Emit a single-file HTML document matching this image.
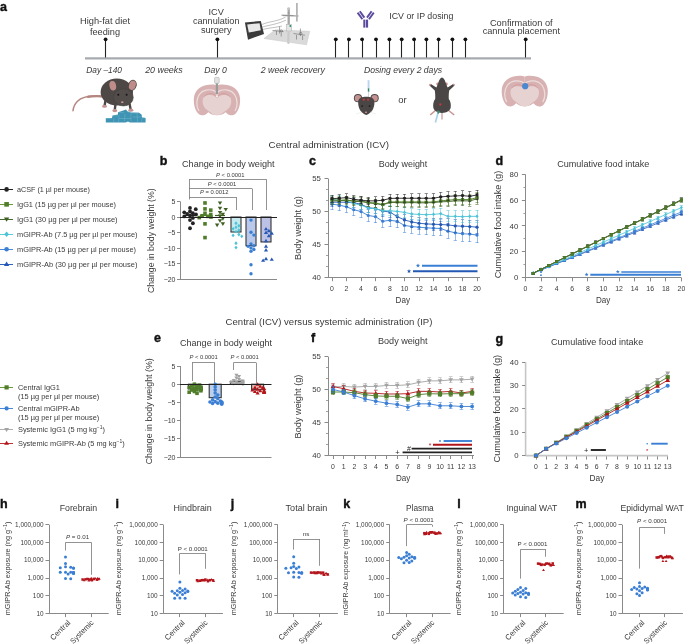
<!DOCTYPE html>
<html><head><meta charset="utf-8"><style>
html,body{margin:0;padding:0;background:#fff;}
svg{display:block;will-change:transform;}
text{font-family:"Liberation Sans",sans-serif;}
</style></head><body>
<svg width="685" height="644" viewBox="0 0 685 644">
<rect width="685" height="644" fill="#fff"/>
<g fill="#3a3a3a">
<text x="0.00" y="10.50" font-size="12.5" fill="#111" font-weight="bold" stroke="#111" stroke-width="0.4">a</text>
<line x1="85.00" y1="58.30" x2="531.00" y2="58.30" stroke="#a7abb0" stroke-width="2.2"/>
<line x1="105.50" y1="39.50" x2="105.50" y2="57.50" stroke="#222" stroke-width="1.1"/>
<circle cx="105.60" cy="39.3" r="1.9" fill="#111"/>
<line x1="217.50" y1="39.50" x2="217.50" y2="57.50" stroke="#222" stroke-width="1.1"/>
<circle cx="217.40" cy="39.3" r="1.9" fill="#111"/>
<line x1="335.50" y1="39.50" x2="335.50" y2="57.50" stroke="#222" stroke-width="1.1"/>
<circle cx="335.80" cy="39.3" r="1.9" fill="#111"/>
<line x1="348.50" y1="39.50" x2="348.50" y2="57.50" stroke="#222" stroke-width="1.1"/>
<circle cx="348.90" cy="39.3" r="1.9" fill="#111"/>
<line x1="362.50" y1="39.50" x2="362.50" y2="57.50" stroke="#222" stroke-width="1.1"/>
<circle cx="362.10" cy="39.3" r="1.9" fill="#111"/>
<line x1="376.50" y1="39.50" x2="376.50" y2="57.50" stroke="#222" stroke-width="1.1"/>
<circle cx="376.00" cy="39.3" r="1.9" fill="#111"/>
<line x1="389.50" y1="39.50" x2="389.50" y2="57.50" stroke="#222" stroke-width="1.1"/>
<circle cx="389.40" cy="39.3" r="1.9" fill="#111"/>
<line x1="401.50" y1="39.50" x2="401.50" y2="57.50" stroke="#222" stroke-width="1.1"/>
<circle cx="401.70" cy="39.3" r="1.9" fill="#111"/>
<line x1="414.50" y1="39.50" x2="414.50" y2="57.50" stroke="#222" stroke-width="1.1"/>
<circle cx="414.10" cy="39.3" r="1.9" fill="#111"/>
<line x1="426.50" y1="39.50" x2="426.50" y2="57.50" stroke="#222" stroke-width="1.1"/>
<circle cx="426.40" cy="39.3" r="1.9" fill="#111"/>
<line x1="438.50" y1="39.50" x2="438.50" y2="57.50" stroke="#222" stroke-width="1.1"/>
<circle cx="438.60" cy="39.3" r="1.9" fill="#111"/>
<line x1="452.50" y1="39.50" x2="452.50" y2="57.50" stroke="#222" stroke-width="1.1"/>
<circle cx="452.40" cy="39.3" r="1.9" fill="#111"/>
<line x1="465.50" y1="39.50" x2="465.50" y2="57.50" stroke="#222" stroke-width="1.1"/>
<circle cx="465.40" cy="39.3" r="1.9" fill="#111"/>
<line x1="525.50" y1="39.50" x2="525.50" y2="57.50" stroke="#222" stroke-width="1.1"/>
<circle cx="525.70" cy="39.3" r="1.9" fill="#111"/>
<text x="105.00" y="24.20" font-size="9.2" text-anchor="middle" textLength="50.00" lengthAdjust="spacingAndGlyphs">High-fat diet</text>
<text x="105.00" y="34.60" font-size="9.2" text-anchor="middle">feeding</text>
<text x="216.20" y="15.00" font-size="9.2" text-anchor="middle">ICV</text>
<text x="216.20" y="24.30" font-size="9.2" text-anchor="middle" textLength="46.60" lengthAdjust="spacingAndGlyphs">cannulation</text>
<text x="216.20" y="32.80" font-size="9.2" text-anchor="middle">surgery</text>
<text x="389.30" y="19.20" font-size="9.2" textLength="64.00" lengthAdjust="spacingAndGlyphs">ICV or IP dosing</text>
<text x="521.30" y="25.50" font-size="9.2" text-anchor="middle" textLength="62.70" lengthAdjust="spacingAndGlyphs">Confirmation of</text>
<text x="521.30" y="34.20" font-size="9.2" text-anchor="middle" textLength="77.30" lengthAdjust="spacingAndGlyphs">cannula placement</text>
<text x="86.30" y="72.60" font-size="8.7" font-style="italic" textLength="35.70" lengthAdjust="spacingAndGlyphs">Day –140</text>
<text x="145.20" y="72.60" font-size="8.7" font-style="italic" textLength="37.50" lengthAdjust="spacingAndGlyphs">20 weeks</text>
<text x="204.20" y="72.60" font-size="8.7" font-style="italic" textLength="22.50" lengthAdjust="spacingAndGlyphs">Day 0</text>
<text x="260.70" y="72.60" font-size="8.7" font-style="italic" textLength="64.30" lengthAdjust="spacingAndGlyphs">2 week recovery</text>
<text x="364.00" y="72.60" font-size="8.7" font-style="italic" textLength="78.00" lengthAdjust="spacingAndGlyphs">Dosing every 2 days</text>
<text x="398.30" y="102.70" font-size="9.2" textLength="8.40" lengthAdjust="spacingAndGlyphs">or</text>
<path d="M103,96.6 C92,95.2 82,96.8 77.5,101.3 C74.5,104.3 73.3,107.5 73,110.8" fill="none" stroke="#b58580" stroke-width="1.5" stroke-linecap="round"/>
<path d="M103,96.4 C97,95.8 92,96 88,96.8" fill="none" stroke="#b58580" stroke-width="2.3" stroke-linecap="round"/>
<path d="M105.6,100 L104.6,105.5 M115.5,104 L114.8,109.6 M129.5,103.5 L130.6,109.2" stroke="#4d4846" stroke-width="2.4"/>
<ellipse cx="104.5" cy="106.3" rx="2.5" ry="1.5" fill="#c39290"/>
<ellipse cx="114.8" cy="110.6" rx="2.5" ry="1.6" fill="#c39290"/>
<ellipse cx="130.8" cy="110.2" rx="2.5" ry="1.6" fill="#c39290"/>
<ellipse cx="116.8" cy="92" rx="16.2" ry="13.6" fill="#4d4846"/>
<ellipse cx="123.4" cy="97.4" rx="9.9" ry="8.6" fill="#524c4a" stroke="#443f3e" stroke-width="0.5"/>
<ellipse cx="112.8" cy="85.8" rx="4.2" ry="5.6" transform="rotate(-12 112.8 85.8)" fill="#4d4846"/>
<ellipse cx="112.8" cy="85.8" rx="3.3" ry="4.8" transform="rotate(-12 112.8 85.8)" fill="#c08c8a"/>
<ellipse cx="132.4" cy="85.3" rx="4.2" ry="5.6" transform="rotate(18 132.4 85.3)" fill="#4d4846"/>
<ellipse cx="132.4" cy="85.3" rx="3.3" ry="4.8" transform="rotate(18 132.4 85.3)" fill="#c08c8a"/>
<circle cx="118.3" cy="94.7" r="1" fill="#151515"/><circle cx="126.6" cy="94.7" r="1" fill="#151515"/>
<ellipse cx="122.3" cy="102.2" rx="1.2" ry="0.9" fill="#d49896"/>
<path d="M105.8,122.5 L105.8,118.3 L112,118 L112.5,115.5 L118,114.6 L118,112.2 L124,110.2 L126,109.4 L127.6,111.4 L131,112.4 L139,112.8 L141.6,114.4 L142,117.6 L145.6,118 L145.6,122.5 L130,122.6 L128,121.6 L125.5,122.6 Z" fill="#3f93b3"/>
<path d="M106.5,118.6 H112 M112.8,115.8 H118 M118.5,112.6 H124 M127.8,112 H131 M132,113 H139 M142,118 H145 M114,118.2 L113.5,122 M119,115 L118.6,122 M125,114 L124.5,121 M131,113.2 L131,121.5 M137,113.2 L137.6,121.8 M141.8,118.4 L141.8,122 M119,118.5 H131 M133,117 H141" stroke="#73b6ce" stroke-width="0.5"/>
<g transform="translate(193.20 84.20) scale(0.4750 0.4618)"><path d="M50,3 C46,0.5 36,0 26,2.5 C12,6 3,16 1.5,30 C0.5,42 3,55 10,63 C14,67.5 20,68.5 25,66 C28,64.5 30,62 32,60.5 C36,64 42,67 50,67.5 C58,67 64,64 68,60.5 C70,62 72,64.5 75,66 C80,68.5 86,67.5 90,63 C97,55 99.5,42 98.5,30 C97,16 88,6 74,2.5 C64,0 54,0.5 50,3 Z" fill="#d8b2b2"/><path d="M12,58 C6,48 6,32 13,22 C20,12 33,10 44,14 C47,15.5 49,17.5 50,20 C51,17.5 53,15.5 56,14 C67,10 80,12 87,22 C94,32 94,48 88,58" fill="none" stroke="#eddddd" stroke-width="2.6"/><path d="M20,34 C21,27 28,23 36,23.5 C42,24 47,27 50,30 C53,27 58,24 64,23.5 C72,23 79,27 80,34 C81,42 78,50 72,55 C67,59 63,61 60,64 C56,66.5 53,67 50,67 C47,67 44,66.5 40,64 C37,61 33,59 28,55 C22,50 19,42 20,34 Z" fill="#e7d2d2"/><path d="M23,27 C29,19 41,18 47,25" fill="none" stroke="#cc9090" stroke-width="1.4"/><path d="M53,25 C59,18 71,19 77,27" fill="none" stroke="#cc9090" stroke-width="1.4"/><path d="M50,4 L50,30" fill="none" stroke="#e8d2d2" stroke-width="1.2"/></g>
<rect x="215.8" y="82" width="2.2" height="12" fill="#9b9b9b"/>
<rect x="214.6" y="77.4" width="4.6" height="6" rx="0.8" fill="#e2e2e2" stroke="#a0a0a0" stroke-width="0.5"/>
<path d="M217,94 L216.2,97 L217.8,97 Z" fill="#fff"/>
<polygon points="264,38.5 275.4,29.8 309.7,31.3 306.5,44.8" fill="#dadada" stroke="#c6c6c6" stroke-width="0.5"/>
<polygon points="287.4,32 289.6,32.1 289.4,44.2 287.2,43.6" fill="#cacaca"/>
<path d="M262,24.5 C270,21 276,22 285.5,17.2 M262,27 C270,25 278,24 286,20.2 M262.5,29.5 C268,28 276,27.5 282,26" fill="none" stroke="#8f8f8f" stroke-width="0.55"/>
<polygon points="244.9,22.4 260.8,21 264,33.9 248,39.7" fill="#3b3b3b"/>
<polygon points="247.2,24.4 259.6,23.2 260.8,30.2 248.8,32.6" fill="#e9e9e9"/>
<line x1="296.9" y1="3" x2="296.9" y2="21.6" stroke="#b5b5b5" stroke-width="1.8"/>
<line x1="288.7" y1="8" x2="288.7" y2="25" stroke="#b8b8b8" stroke-width="2.6"/>
<path d="M288.7,10 V24 M287.6,13 H289.8" stroke="#8a8a8a" stroke-width="0.5"/>
<line x1="281.5" y1="15.2" x2="298.5" y2="16" stroke="#b0b0b0" stroke-width="1.6"/>
<path d="M283,15.6 H293.5" stroke="#777" stroke-width="0.5"/>
<circle cx="288.7" cy="8.6" r="1.4" fill="#c4c4c4"/>
<rect x="286.2" y="24.6" width="5.4" height="6.4" fill="#e6e6e6" stroke="#a8a8a8" stroke-width="0.5"/>
<rect x="289.6" y="25" width="1.5" height="2" fill="#2a9a70"/>
<path d="M279.6,26.5 V33.5 M300.4,28.5 V36 M272.5,30.5 L283.5,31.6 M293.5,33.5 L305,35.2 M276.5,31 V35 M281.2,33 V36.5 M296.5,35 V39.5 M302.6,35.5 V40" stroke="#7c7c7c" stroke-width="0.7"/>
<circle cx="281.3" cy="31.1" r="1.2" fill="none" stroke="#666" stroke-width="0.6"/><circle cx="300.7" cy="33.5" r="1.2" fill="none" stroke="#666" stroke-width="0.6"/>
<rect x="363.3" y="19.6" width="2.1" height="8" fill="#5b4a9e"/><rect x="366.0" y="19.6" width="2.1" height="8" fill="#5b4a9e"/>
<line x1="357.6" y1="12.6" x2="362.4" y2="19.2" stroke="#5b4a9e" stroke-width="1.9"/>
<line x1="359.8" y1="11.2" x2="364.4" y2="17.6" stroke="#5b4a9e" stroke-width="1.9"/>
<line x1="373.8" y1="12.6" x2="369.0" y2="19.2" stroke="#5b4a9e" stroke-width="1.9"/>
<line x1="371.6" y1="11.2" x2="367.0" y2="17.6" stroke="#5b4a9e" stroke-width="1.9"/>
<rect x="367.6" y="80.2" width="1.9" height="8.2" fill="#b9d6ee"/>
<rect x="367.8" y="88.3" width="1.5" height="3.4" fill="#2e8a6a"/>
<line x1="368.5" y1="91.5" x2="368.5" y2="97.5" stroke="#999" stroke-width="0.4"/>
<circle cx="358" cy="98.2" r="4.1" fill="#4a4646"/><circle cx="358" cy="98.2" r="3.2" fill="#c49290"/>
<circle cx="374.6" cy="98.2" r="4.1" fill="#4a4646"/><circle cx="374.6" cy="98.2" r="3.2" fill="#c49290"/>
<path d="M358.2,102 C358.2,98 362,96.8 366.3,96.8 C370.6,96.8 374.4,98 374.4,102 C374.7,108 371.6,113.4 366.3,114.9 C361,113.4 357.9,108 358.2,102 Z" fill="#4a4646"/>
<circle cx="363.8" cy="99.7" r="1.15" fill="#c23a3a"/><circle cx="368.1" cy="99.7" r="1.15" fill="#c23a3a"/>
<circle cx="362.1" cy="106" r="0.85" fill="#151515"/><circle cx="369.6" cy="106" r="0.85" fill="#151515"/>
<ellipse cx="366" cy="112.2" rx="1.1" ry="0.8" fill="#d99a98"/>
<path d="M356,114 L362,112 M376,114 L370,112" stroke="#ddd" stroke-width="0.4"/>
<circle cx="430.3" cy="84.9" r="1.2" fill="#c89694"/><circle cx="453.7" cy="84.9" r="1.2" fill="#c89694"/>
<path d="M436,110 L430.6,114.6 M448,110 L453.8,114.6" stroke="#c89694" stroke-width="1.4" stroke-linecap="round"/>
<line x1="442" y1="112" x2="442" y2="119.5" stroke="#c89694" stroke-width="1.2"/>
<circle cx="437.6" cy="84" r="1.4" fill="#c89694"/><circle cx="446.4" cy="84" r="1.4" fill="#c89694"/>
<path d="M442,77.4 C443.6,77.7 445,80 445.6,82.5 C446.4,84.4 447,86 447.6,87.6 L452.8,84.3 L454,85.9 L449.2,90.6 C448.8,93 448.6,96 448.8,99 C450.6,101 451.1,104.5 450.7,107.6 C450.3,110.6 447,112.9 442,113.1 C437,112.9 433.7,110.6 433.3,107.6 C432.9,104.5 433.4,101 435.2,99 C435.4,96 435.2,93 434.8,90.6 L430,85.9 L431.2,84.3 L436.4,87.6 C437,86 437.6,84.4 438.4,82.5 C439,80 440.4,77.7 442,77.4 Z" fill="#4a4646"/>
<circle cx="440.3" cy="104.5" r="1.15" fill="#c23a3a"/>
<line x1="438.6" y1="111" x2="435.4" y2="122.5" stroke="#a6d0ea" stroke-width="1.6"/>
<line x1="438.7" y1="110.8" x2="438.0" y2="113.5" stroke="#2e8a6a" stroke-width="1.6"/>
<g transform="translate(501.10 75.30) scale(0.4730 0.4632)"><path d="M50,3 C46,0.5 36,0 26,2.5 C12,6 3,16 1.5,30 C0.5,42 3,55 10,63 C14,67.5 20,68.5 25,66 C28,64.5 30,62 32,60.5 C36,64 42,67 50,67.5 C58,67 64,64 68,60.5 C70,62 72,64.5 75,66 C80,68.5 86,67.5 90,63 C97,55 99.5,42 98.5,30 C97,16 88,6 74,2.5 C64,0 54,0.5 50,3 Z" fill="#d8b2b2"/><path d="M12,58 C6,48 6,32 13,22 C20,12 33,10 44,14 C47,15.5 49,17.5 50,20 C51,17.5 53,15.5 56,14 C67,10 80,12 87,22 C94,32 94,48 88,58" fill="none" stroke="#eddddd" stroke-width="2.6"/><path d="M20,34 C21,27 28,23 36,23.5 C42,24 47,27 50,30 C53,27 58,24 64,23.5 C72,23 79,27 80,34 C81,42 78,50 72,55 C67,59 63,61 60,64 C56,66.5 53,67 50,67 C47,67 44,66.5 40,64 C37,61 33,59 28,55 C22,50 19,42 20,34 Z" fill="#e7d2d2"/><path d="M23,27 C29,19 41,18 47,25" fill="none" stroke="#cc9090" stroke-width="1.4"/><path d="M53,25 C59,18 71,19 77,27" fill="none" stroke="#cc9090" stroke-width="1.4"/><path d="M50,4 L50,30" fill="none" stroke="#e8d2d2" stroke-width="1.2"/></g>
<circle cx="525.2" cy="86.2" r="3.1" fill="#4a88d0"/>
<text x="268.60" y="147.70" font-size="9.8" textLength="120.40" lengthAdjust="spacingAndGlyphs">Central administration (ICV)</text>
<text x="225.60" y="324.80" font-size="9.6" textLength="206.80" lengthAdjust="spacingAndGlyphs">Central (ICV) versus systemic administration (IP)</text>
<line x1="0.00" y1="189.50" x2="13.00" y2="189.50" stroke="#222" stroke-width="1"/>
<circle cx="6.60" cy="189.40" r="2.30" fill="#222222"/>
<text x="17.00" y="192.00" font-size="7.4" textLength="73.00" lengthAdjust="spacingAndGlyphs">aCSF (1 µl per mouse)</text>
<line x1="0.00" y1="204.50" x2="13.00" y2="204.50" stroke="#6a9a3a" stroke-width="1"/>
<rect x="4.30" y="202.05" width="4.60" height="4.60" fill="#4f7d2a"/>
<text x="17.00" y="206.95" font-size="7.4" textLength="99.00" lengthAdjust="spacingAndGlyphs">IgG1 (15 µg per µl per mouse)</text>
<line x1="0.00" y1="219.50" x2="13.00" y2="219.50" stroke="#4a6a30" stroke-width="1"/>
<polygon points="3.96,217.46 9.24,217.46 6.60,221.83" fill="#3f5e22"/>
<text x="17.00" y="221.90" font-size="7.4" textLength="100.60" lengthAdjust="spacingAndGlyphs">IgG1 (30 µg per µl per mouse)</text>
<line x1="0.00" y1="234.50" x2="13.00" y2="234.50" stroke="#5ccbdb" stroke-width="1"/>
<polygon points="6.60,231.49 8.90,234.25 6.60,237.01 4.30,234.25" fill="#4cc3d6"/>
<text x="17.00" y="236.85" font-size="7.4" textLength="120.50" lengthAdjust="spacingAndGlyphs">mGIPR-Ab (7.5 µg per µl per mouse)</text>
<line x1="0.00" y1="249.50" x2="13.00" y2="249.50" stroke="#4a88d8" stroke-width="1"/>
<circle cx="6.60" cy="249.20" r="2.30" fill="#3b7fd4"/>
<text x="17.00" y="251.80" font-size="7.4" textLength="119.00" lengthAdjust="spacingAndGlyphs">mGIPR-Ab (15 µg per µl per mouse)</text>
<line x1="0.00" y1="264.50" x2="13.00" y2="264.50" stroke="#3060c0" stroke-width="1"/>
<polygon points="3.96,265.99 9.24,265.99 6.60,261.62" fill="#2458b5"/>
<text x="17.00" y="266.75" font-size="7.4" textLength="120.40" lengthAdjust="spacingAndGlyphs">mGIPR-Ab (30 µg per µl per mouse)</text>
<text x="159.80" y="165.20" font-size="12.5" fill="#111" font-weight="bold" stroke="#111" stroke-width="0.4">b</text>
<text x="182.00" y="167.00" font-size="9.0" textLength="92.60" lengthAdjust="spacingAndGlyphs">Change in body weight</text>
<line x1="180.50" y1="201.40" x2="180.50" y2="279.40" stroke="#8a8a8a" stroke-width="1"/>
<line x1="177.00" y1="201.50" x2="180.00" y2="201.50" stroke="#8a8a8a" stroke-width="1"/>
<text x="175.50" y="203.90" font-size="7" text-anchor="end">5</text>
<line x1="177.00" y1="217.50" x2="180.00" y2="217.50" stroke="#8a8a8a" stroke-width="1"/>
<text x="175.50" y="219.50" font-size="7" text-anchor="end">0</text>
<line x1="177.00" y1="232.50" x2="180.00" y2="232.50" stroke="#8a8a8a" stroke-width="1"/>
<text x="175.50" y="235.10" font-size="7" text-anchor="end">−5</text>
<line x1="177.00" y1="248.50" x2="180.00" y2="248.50" stroke="#8a8a8a" stroke-width="1"/>
<text x="175.50" y="250.70" font-size="7" text-anchor="end">−10</text>
<line x1="177.00" y1="263.50" x2="180.00" y2="263.50" stroke="#8a8a8a" stroke-width="1"/>
<text x="175.50" y="266.30" font-size="7" text-anchor="end">−15</text>
<line x1="177.00" y1="279.50" x2="180.00" y2="279.50" stroke="#8a8a8a" stroke-width="1"/>
<text x="175.50" y="281.90" font-size="7" text-anchor="end">−20</text>
<line x1="180.00" y1="279.50" x2="277.00" y2="279.50" stroke="#8a8a8a" stroke-width="1"/>
<text x="153.80" y="240.70" font-size="9" text-anchor="middle" textLength="104.70" lengthAdjust="spacingAndGlyphs" transform="rotate(-90 153.80 240.70)">Change in body weight (%)</text>
<rect x="231.00" y="217.00" width="10" height="14.98" fill="#c4e9ee" stroke="#333" stroke-width="1.1"/>
<rect x="246.00" y="217.00" width="10" height="28.70" fill="#b9c9ec" stroke="#333" stroke-width="1.1"/>
<rect x="261.00" y="217.00" width="10" height="24.96" fill="#bcc2e6" stroke="#333" stroke-width="1.1"/>
<circle cx="190.00" cy="207.95" r="1.90" fill="#222222"/>
<circle cx="195.76" cy="209.20" r="1.90" fill="#222222"/>
<circle cx="190.00" cy="211.38" r="1.90" fill="#222222"/>
<circle cx="184.24" cy="212.32" r="1.90" fill="#222222"/>
<circle cx="192.88" cy="213.26" r="1.90" fill="#222222"/>
<circle cx="187.12" cy="213.88" r="1.90" fill="#222222"/>
<circle cx="196.00" cy="214.50" r="1.90" fill="#222222"/>
<circle cx="190.00" cy="215.44" r="1.90" fill="#222222"/>
<circle cx="184.24" cy="216.38" r="1.90" fill="#222222"/>
<circle cx="192.88" cy="217.94" r="1.90" fill="#222222"/>
<circle cx="190.00" cy="220.12" r="1.90" fill="#222222"/>
<circle cx="192.88" cy="223.24" r="1.90" fill="#222222"/>
<circle cx="190.00" cy="228.23" r="1.90" fill="#222222"/>
<rect x="203.20" y="201.16" width="3.60" height="3.60" fill="#4f7d2a"/>
<rect x="203.20" y="207.09" width="3.60" height="3.60" fill="#4f7d2a"/>
<rect x="208.96" y="208.34" width="3.60" height="3.60" fill="#4f7d2a"/>
<rect x="203.20" y="211.46" width="3.60" height="3.60" fill="#4f7d2a"/>
<rect x="208.96" y="212.70" width="3.60" height="3.60" fill="#4f7d2a"/>
<rect x="200.32" y="213.95" width="3.60" height="3.60" fill="#4f7d2a"/>
<rect x="206.08" y="214.58" width="3.60" height="3.60" fill="#4f7d2a"/>
<rect x="209.20" y="215.20" width="3.60" height="3.60" fill="#4f7d2a"/>
<rect x="197.44" y="215.82" width="3.60" height="3.60" fill="#4f7d2a"/>
<rect x="203.20" y="222.06" width="3.60" height="3.60" fill="#4f7d2a"/>
<rect x="203.20" y="235.79" width="3.60" height="3.60" fill="#4f7d2a"/>
<polygon points="217.81,201.44 222.19,201.44 220.00,205.05" fill="#3f5e22"/>
<polygon points="217.81,206.74 222.19,206.74 220.00,210.35" fill="#3f5e22"/>
<polygon points="223.57,207.99 227.94,207.99 225.76,211.60" fill="#3f5e22"/>
<polygon points="217.81,211.11 222.19,211.11 220.00,214.72" fill="#3f5e22"/>
<polygon points="220.69,212.67 225.06,212.67 222.88,216.28" fill="#3f5e22"/>
<polygon points="217.81,214.54 222.19,214.54 220.00,218.15" fill="#3f5e22"/>
<polygon points="220.69,217.04 225.06,217.04 222.88,220.65" fill="#3f5e22"/>
<polygon points="217.81,219.22 222.19,219.22 220.00,222.83" fill="#3f5e22"/>
<polygon points="220.69,222.34 225.06,222.34 222.88,225.95" fill="#3f5e22"/>
<polygon points="214.94,223.59 219.31,223.59 217.12,227.20" fill="#3f5e22"/>
<polygon points="236.00,221.32 237.60,223.24 236.00,225.16 234.40,223.24" fill="#4cc3d6"/>
<polygon points="238.88,223.82 240.48,225.74 238.88,227.66 237.28,225.74" fill="#4cc3d6"/>
<polygon points="236.00,225.38 237.60,227.30 236.00,229.22 234.40,227.30" fill="#4cc3d6"/>
<polygon points="233.12,226.94 234.72,228.86 233.12,230.78 231.52,228.86" fill="#4cc3d6"/>
<polygon points="238.88,228.18 240.48,230.10 238.88,232.02 237.28,230.10" fill="#4cc3d6"/>
<polygon points="236.00,229.74 237.60,231.66 236.00,233.58 234.40,231.66" fill="#4cc3d6"/>
<polygon points="238.88,232.55 240.48,234.47 238.88,236.39 237.28,234.47" fill="#4cc3d6"/>
<polygon points="233.12,233.49 234.72,235.41 233.12,237.33 231.52,235.41" fill="#4cc3d6"/>
<polygon points="241.76,234.42 243.36,236.34 241.76,238.26 240.16,236.34" fill="#4cc3d6"/>
<polygon points="236.00,241.29 237.60,243.21 236.00,245.13 234.40,243.21" fill="#4cc3d6"/>
<polygon points="236.00,245.66 237.60,247.58 236.00,249.50 234.40,247.58" fill="#4cc3d6"/>
<circle cx="251.00" cy="220.12" r="1.70" fill="#3b7fd4"/>
<circle cx="251.00" cy="232.29" r="1.70" fill="#3b7fd4"/>
<circle cx="253.88" cy="235.10" r="1.70" fill="#3b7fd4"/>
<circle cx="251.00" cy="243.83" r="1.70" fill="#3b7fd4"/>
<circle cx="253.88" cy="245.70" r="1.70" fill="#3b7fd4"/>
<circle cx="248.12" cy="246.33" r="1.70" fill="#3b7fd4"/>
<circle cx="251.00" cy="247.89" r="1.70" fill="#3b7fd4"/>
<circle cx="253.88" cy="249.45" r="1.70" fill="#3b7fd4"/>
<circle cx="251.00" cy="251.32" r="1.70" fill="#3b7fd4"/>
<circle cx="251.00" cy="264.74" r="1.70" fill="#3b7fd4"/>
<circle cx="251.00" cy="273.78" r="1.70" fill="#3b7fd4"/>
<polygon points="263.93,230.30 268.07,230.30 266.00,226.88" fill="#2458b5"/>
<polygon points="266.81,232.17 270.95,232.17 268.88,228.75" fill="#2458b5"/>
<polygon points="263.93,234.04 268.07,234.04 266.00,230.62" fill="#2458b5"/>
<polygon points="269.69,234.66 273.83,234.66 271.76,231.24" fill="#2458b5"/>
<polygon points="266.81,237.16 270.95,237.16 268.88,233.74" fill="#2458b5"/>
<polygon points="263.93,242.15 268.07,242.15 266.00,238.73" fill="#2458b5"/>
<polygon points="263.93,247.77 268.07,247.77 266.00,244.35" fill="#2458b5"/>
<polygon points="263.93,251.51 268.07,251.51 266.00,248.09" fill="#2458b5"/>
<polygon points="263.93,260.25 268.07,260.25 266.00,256.83" fill="#2458b5"/>
<polygon points="269.69,260.87 273.83,260.87 271.76,257.45" fill="#2458b5"/>
<polygon points="261.05,261.81 265.19,261.81 263.12,258.39" fill="#2458b5"/>
<line x1="185.00" y1="215.50" x2="195.00" y2="215.50" stroke="#222222" stroke-width="1.2"/>
<line x1="200.00" y1="215.50" x2="210.00" y2="215.50" stroke="#4f7d2a" stroke-width="1.2"/>
<line x1="215.00" y1="215.50" x2="225.00" y2="215.50" stroke="#3f5e22" stroke-width="1.2"/>
<line x1="180.00" y1="217.50" x2="277.00" y2="217.50" stroke="#222" stroke-width="1.2"/>
<line x1="189.00" y1="179.50" x2="266.60" y2="179.50" stroke="#777" stroke-width="0.8"/>
<line x1="266.50" y1="179.40" x2="266.50" y2="210.00" stroke="#777" stroke-width="0.8"/>
<line x1="189.00" y1="188.50" x2="252.00" y2="188.50" stroke="#777" stroke-width="0.8"/>
<line x1="252.50" y1="188.60" x2="252.50" y2="210.00" stroke="#777" stroke-width="0.8"/>
<line x1="189.00" y1="197.50" x2="236.40" y2="197.50" stroke="#777" stroke-width="0.8"/>
<line x1="236.50" y1="197.00" x2="236.50" y2="210.00" stroke="#777" stroke-width="0.8"/>
<line x1="189.50" y1="179.40" x2="189.50" y2="199.50" stroke="#777" stroke-width="0.8"/>
<text x="230.30" y="176.60" font-size="6" text-anchor="middle" textLength="28.40" lengthAdjust="spacingAndGlyphs"><tspan font-style="italic">P</tspan> &lt; 0.0001</text>
<text x="222.00" y="185.70" font-size="6" text-anchor="middle" textLength="28.40" lengthAdjust="spacingAndGlyphs"><tspan font-style="italic">P</tspan> &lt; 0.0001</text>
<text x="214.20" y="194.40" font-size="6" text-anchor="middle" textLength="28.40" lengthAdjust="spacingAndGlyphs"><tspan font-style="italic">P</tspan> = 0.0012</text>
<text x="309.10" y="164.60" font-size="12.5" fill="#111" font-weight="bold" stroke="#111" stroke-width="0.4">c</text>
<text x="378.70" y="167.30" font-size="9" textLength="48.60" lengthAdjust="spacingAndGlyphs">Body weight</text>
<text x="301.20" y="228.00" font-size="9" text-anchor="middle" textLength="63.80" lengthAdjust="spacingAndGlyphs" transform="rotate(-90 301.20 228.00)">Body weight (g)</text>
<line x1="328.50" y1="178.50" x2="328.50" y2="277.20" stroke="#8a8a8a" stroke-width="1"/>
<line x1="324.50" y1="178.50" x2="328.00" y2="178.50" stroke="#8a8a8a" stroke-width="1"/>
<text x="320.90" y="181.30" font-size="7.8" text-anchor="end">55</text>
<line x1="324.50" y1="211.50" x2="328.00" y2="211.50" stroke="#8a8a8a" stroke-width="1"/>
<text x="320.90" y="214.20" font-size="7.8" text-anchor="end">50</text>
<line x1="324.50" y1="244.50" x2="328.00" y2="244.50" stroke="#8a8a8a" stroke-width="1"/>
<text x="320.90" y="247.10" font-size="7.8" text-anchor="end">45</text>
<line x1="324.50" y1="277.50" x2="328.00" y2="277.50" stroke="#8a8a8a" stroke-width="1"/>
<text x="320.90" y="280.00" font-size="7.8" text-anchor="end">40</text>
<line x1="326.00" y1="266.50" x2="328.00" y2="266.50" stroke="#8a8a8a" stroke-width="0.8"/>
<line x1="326.00" y1="255.50" x2="328.00" y2="255.50" stroke="#8a8a8a" stroke-width="0.8"/>
<line x1="326.00" y1="233.50" x2="328.00" y2="233.50" stroke="#8a8a8a" stroke-width="0.8"/>
<line x1="326.00" y1="222.50" x2="328.00" y2="222.50" stroke="#8a8a8a" stroke-width="0.8"/>
<line x1="326.00" y1="200.50" x2="328.00" y2="200.50" stroke="#8a8a8a" stroke-width="0.8"/>
<line x1="326.00" y1="189.50" x2="328.00" y2="189.50" stroke="#8a8a8a" stroke-width="0.8"/>
<line x1="328.00" y1="277.50" x2="480.00" y2="277.50" stroke="#8a8a8a" stroke-width="1"/>
<line x1="332.50" y1="277.20" x2="332.50" y2="281.20" stroke="#8a8a8a" stroke-width="1"/>
<text x="332.00" y="290.90" font-size="6.9" text-anchor="middle">0</text>
<line x1="346.50" y1="277.20" x2="346.50" y2="281.20" stroke="#8a8a8a" stroke-width="1"/>
<text x="346.50" y="290.90" font-size="6.9" text-anchor="middle">2</text>
<line x1="361.50" y1="277.20" x2="361.50" y2="281.20" stroke="#8a8a8a" stroke-width="1"/>
<text x="361.00" y="290.90" font-size="6.9" text-anchor="middle">4</text>
<line x1="375.50" y1="277.20" x2="375.50" y2="281.20" stroke="#8a8a8a" stroke-width="1"/>
<text x="375.50" y="290.90" font-size="6.9" text-anchor="middle">6</text>
<line x1="390.50" y1="277.20" x2="390.50" y2="281.20" stroke="#8a8a8a" stroke-width="1"/>
<text x="390.00" y="290.90" font-size="6.9" text-anchor="middle">8</text>
<line x1="404.50" y1="277.20" x2="404.50" y2="281.20" stroke="#8a8a8a" stroke-width="1"/>
<text x="404.50" y="290.90" font-size="6.9" text-anchor="middle">10</text>
<line x1="419.50" y1="277.20" x2="419.50" y2="281.20" stroke="#8a8a8a" stroke-width="1"/>
<text x="419.00" y="290.90" font-size="6.9" text-anchor="middle">12</text>
<line x1="433.50" y1="277.20" x2="433.50" y2="281.20" stroke="#8a8a8a" stroke-width="1"/>
<text x="433.50" y="290.90" font-size="6.9" text-anchor="middle">14</text>
<line x1="448.50" y1="277.20" x2="448.50" y2="281.20" stroke="#8a8a8a" stroke-width="1"/>
<text x="448.00" y="290.90" font-size="6.9" text-anchor="middle">16</text>
<line x1="462.50" y1="277.20" x2="462.50" y2="281.20" stroke="#8a8a8a" stroke-width="1"/>
<text x="462.50" y="290.90" font-size="6.9" text-anchor="middle">18</text>
<line x1="477.50" y1="277.20" x2="477.50" y2="281.20" stroke="#8a8a8a" stroke-width="1"/>
<text x="477.00" y="290.90" font-size="6.9" text-anchor="middle">20</text>
<text x="395.60" y="302.60" font-size="9" textLength="14.40" lengthAdjust="spacingAndGlyphs">Day</text>
<line x1="332.50" y1="198.63" x2="332.50" y2="209.69" stroke="#3b7fd4" stroke-width="0.7" stroke-opacity="0.75"/>
<line x1="330.40" y1="198.50" x2="333.60" y2="198.50" stroke="#3b7fd4" stroke-width="0.7" stroke-opacity="0.75"/>
<line x1="330.40" y1="209.50" x2="333.60" y2="209.50" stroke="#3b7fd4" stroke-width="0.7" stroke-opacity="0.75"/>
<line x1="339.50" y1="199.50" x2="339.50" y2="210.79" stroke="#3b7fd4" stroke-width="0.7" stroke-opacity="0.75"/>
<line x1="337.65" y1="199.50" x2="340.85" y2="199.50" stroke="#3b7fd4" stroke-width="0.7" stroke-opacity="0.75"/>
<line x1="337.65" y1="210.50" x2="340.85" y2="210.50" stroke="#3b7fd4" stroke-width="0.7" stroke-opacity="0.75"/>
<line x1="346.50" y1="201.03" x2="346.50" y2="212.56" stroke="#3b7fd4" stroke-width="0.7" stroke-opacity="0.75"/>
<line x1="344.90" y1="201.50" x2="348.10" y2="201.50" stroke="#3b7fd4" stroke-width="0.7" stroke-opacity="0.75"/>
<line x1="344.90" y1="212.50" x2="348.10" y2="212.50" stroke="#3b7fd4" stroke-width="0.7" stroke-opacity="0.75"/>
<line x1="353.50" y1="203.87" x2="353.50" y2="215.64" stroke="#3b7fd4" stroke-width="0.7" stroke-opacity="0.75"/>
<line x1="352.15" y1="203.50" x2="355.35" y2="203.50" stroke="#3b7fd4" stroke-width="0.7" stroke-opacity="0.75"/>
<line x1="352.15" y1="215.50" x2="355.35" y2="215.50" stroke="#3b7fd4" stroke-width="0.7" stroke-opacity="0.75"/>
<line x1="361.50" y1="205.53" x2="361.50" y2="217.53" stroke="#3b7fd4" stroke-width="0.7" stroke-opacity="0.75"/>
<line x1="359.40" y1="205.50" x2="362.60" y2="205.50" stroke="#3b7fd4" stroke-width="0.7" stroke-opacity="0.75"/>
<line x1="359.40" y1="217.50" x2="362.60" y2="217.50" stroke="#3b7fd4" stroke-width="0.7" stroke-opacity="0.75"/>
<line x1="368.50" y1="209.36" x2="368.50" y2="221.60" stroke="#3b7fd4" stroke-width="0.7" stroke-opacity="0.75"/>
<line x1="366.65" y1="209.50" x2="369.85" y2="209.50" stroke="#3b7fd4" stroke-width="0.7" stroke-opacity="0.75"/>
<line x1="366.65" y1="221.50" x2="369.85" y2="221.50" stroke="#3b7fd4" stroke-width="0.7" stroke-opacity="0.75"/>
<line x1="375.50" y1="210.43" x2="375.50" y2="222.90" stroke="#3b7fd4" stroke-width="0.7" stroke-opacity="0.75"/>
<line x1="373.90" y1="210.50" x2="377.10" y2="210.50" stroke="#3b7fd4" stroke-width="0.7" stroke-opacity="0.75"/>
<line x1="373.90" y1="222.50" x2="377.10" y2="222.50" stroke="#3b7fd4" stroke-width="0.7" stroke-opacity="0.75"/>
<line x1="382.50" y1="214.91" x2="382.50" y2="227.63" stroke="#3b7fd4" stroke-width="0.7" stroke-opacity="0.75"/>
<line x1="381.15" y1="214.50" x2="384.35" y2="214.50" stroke="#3b7fd4" stroke-width="0.7" stroke-opacity="0.75"/>
<line x1="381.15" y1="227.50" x2="384.35" y2="227.50" stroke="#3b7fd4" stroke-width="0.7" stroke-opacity="0.75"/>
<line x1="390.50" y1="213.81" x2="390.50" y2="226.76" stroke="#3b7fd4" stroke-width="0.7" stroke-opacity="0.75"/>
<line x1="388.40" y1="213.50" x2="391.60" y2="213.50" stroke="#3b7fd4" stroke-width="0.7" stroke-opacity="0.75"/>
<line x1="388.40" y1="226.50" x2="391.60" y2="226.50" stroke="#3b7fd4" stroke-width="0.7" stroke-opacity="0.75"/>
<line x1="397.50" y1="214.68" x2="397.50" y2="227.86" stroke="#3b7fd4" stroke-width="0.7" stroke-opacity="0.75"/>
<line x1="395.65" y1="214.50" x2="398.85" y2="214.50" stroke="#3b7fd4" stroke-width="0.7" stroke-opacity="0.75"/>
<line x1="395.65" y1="227.50" x2="398.85" y2="227.50" stroke="#3b7fd4" stroke-width="0.7" stroke-opacity="0.75"/>
<line x1="404.50" y1="218.77" x2="404.50" y2="232.19" stroke="#3b7fd4" stroke-width="0.7" stroke-opacity="0.75"/>
<line x1="402.90" y1="218.50" x2="406.10" y2="218.50" stroke="#3b7fd4" stroke-width="0.7" stroke-opacity="0.75"/>
<line x1="402.90" y1="232.50" x2="406.10" y2="232.50" stroke="#3b7fd4" stroke-width="0.7" stroke-opacity="0.75"/>
<line x1="411.50" y1="219.70" x2="411.50" y2="233.36" stroke="#3b7fd4" stroke-width="0.7" stroke-opacity="0.75"/>
<line x1="410.15" y1="219.50" x2="413.35" y2="219.50" stroke="#3b7fd4" stroke-width="0.7" stroke-opacity="0.75"/>
<line x1="410.15" y1="233.50" x2="413.35" y2="233.50" stroke="#3b7fd4" stroke-width="0.7" stroke-opacity="0.75"/>
<line x1="419.50" y1="220.24" x2="419.50" y2="234.14" stroke="#3b7fd4" stroke-width="0.7" stroke-opacity="0.75"/>
<line x1="417.40" y1="220.50" x2="420.60" y2="220.50" stroke="#3b7fd4" stroke-width="0.7" stroke-opacity="0.75"/>
<line x1="417.40" y1="234.50" x2="420.60" y2="234.50" stroke="#3b7fd4" stroke-width="0.7" stroke-opacity="0.75"/>
<line x1="426.50" y1="220.78" x2="426.50" y2="234.92" stroke="#3b7fd4" stroke-width="0.7" stroke-opacity="0.75"/>
<line x1="424.65" y1="220.50" x2="427.85" y2="220.50" stroke="#3b7fd4" stroke-width="0.7" stroke-opacity="0.75"/>
<line x1="424.65" y1="234.50" x2="427.85" y2="234.50" stroke="#3b7fd4" stroke-width="0.7" stroke-opacity="0.75"/>
<line x1="433.50" y1="220.99" x2="433.50" y2="235.36" stroke="#3b7fd4" stroke-width="0.7" stroke-opacity="0.75"/>
<line x1="431.90" y1="220.50" x2="435.10" y2="220.50" stroke="#3b7fd4" stroke-width="0.7" stroke-opacity="0.75"/>
<line x1="431.90" y1="235.50" x2="435.10" y2="235.50" stroke="#3b7fd4" stroke-width="0.7" stroke-opacity="0.75"/>
<line x1="440.50" y1="221.20" x2="440.50" y2="235.81" stroke="#3b7fd4" stroke-width="0.7" stroke-opacity="0.75"/>
<line x1="439.15" y1="221.50" x2="442.35" y2="221.50" stroke="#3b7fd4" stroke-width="0.7" stroke-opacity="0.75"/>
<line x1="439.15" y1="235.50" x2="442.35" y2="235.50" stroke="#3b7fd4" stroke-width="0.7" stroke-opacity="0.75"/>
<line x1="448.50" y1="223.72" x2="448.50" y2="238.56" stroke="#3b7fd4" stroke-width="0.7" stroke-opacity="0.75"/>
<line x1="446.40" y1="223.50" x2="449.60" y2="223.50" stroke="#3b7fd4" stroke-width="0.7" stroke-opacity="0.75"/>
<line x1="446.40" y1="238.50" x2="449.60" y2="238.50" stroke="#3b7fd4" stroke-width="0.7" stroke-opacity="0.75"/>
<line x1="455.50" y1="225.24" x2="455.50" y2="240.33" stroke="#3b7fd4" stroke-width="0.7" stroke-opacity="0.75"/>
<line x1="453.65" y1="225.50" x2="456.85" y2="225.50" stroke="#3b7fd4" stroke-width="0.7" stroke-opacity="0.75"/>
<line x1="453.65" y1="240.50" x2="456.85" y2="240.50" stroke="#3b7fd4" stroke-width="0.7" stroke-opacity="0.75"/>
<line x1="462.50" y1="226.11" x2="462.50" y2="241.43" stroke="#3b7fd4" stroke-width="0.7" stroke-opacity="0.75"/>
<line x1="460.90" y1="226.50" x2="464.10" y2="226.50" stroke="#3b7fd4" stroke-width="0.7" stroke-opacity="0.75"/>
<line x1="460.90" y1="241.50" x2="464.10" y2="241.50" stroke="#3b7fd4" stroke-width="0.7" stroke-opacity="0.75"/>
<line x1="469.50" y1="226.32" x2="469.50" y2="241.88" stroke="#3b7fd4" stroke-width="0.7" stroke-opacity="0.75"/>
<line x1="468.15" y1="226.50" x2="471.35" y2="226.50" stroke="#3b7fd4" stroke-width="0.7" stroke-opacity="0.75"/>
<line x1="468.15" y1="241.50" x2="471.35" y2="241.50" stroke="#3b7fd4" stroke-width="0.7" stroke-opacity="0.75"/>
<line x1="477.50" y1="227.19" x2="477.50" y2="242.98" stroke="#3b7fd4" stroke-width="0.7" stroke-opacity="0.75"/>
<line x1="475.40" y1="227.50" x2="478.60" y2="227.50" stroke="#3b7fd4" stroke-width="0.7" stroke-opacity="0.75"/>
<line x1="475.40" y1="242.50" x2="478.60" y2="242.50" stroke="#3b7fd4" stroke-width="0.7" stroke-opacity="0.75"/>
<polyline points="332.00,204.16 339.25,205.15 346.50,206.79 353.75,209.75 361.00,211.53 368.25,215.48 375.50,216.66 382.75,221.27 390.00,220.28 397.25,221.27 404.50,225.48 411.75,226.53 419.00,227.19 426.25,227.85 433.50,228.18 440.75,228.51 448.00,231.14 455.25,232.78 462.50,233.77 469.75,234.10 477.00,235.09" fill="none" stroke="#3b7fd4" stroke-width="0.9"/>
<circle cx="332.00" cy="204.16" r="1.60" fill="#3b7fd4"/>
<circle cx="339.25" cy="205.15" r="1.60" fill="#3b7fd4"/>
<circle cx="346.50" cy="206.79" r="1.60" fill="#3b7fd4"/>
<circle cx="353.75" cy="209.75" r="1.60" fill="#3b7fd4"/>
<circle cx="361.00" cy="211.53" r="1.60" fill="#3b7fd4"/>
<circle cx="368.25" cy="215.48" r="1.60" fill="#3b7fd4"/>
<circle cx="375.50" cy="216.66" r="1.60" fill="#3b7fd4"/>
<circle cx="382.75" cy="221.27" r="1.60" fill="#3b7fd4"/>
<circle cx="390.00" cy="220.28" r="1.60" fill="#3b7fd4"/>
<circle cx="397.25" cy="221.27" r="1.60" fill="#3b7fd4"/>
<circle cx="404.50" cy="225.48" r="1.60" fill="#3b7fd4"/>
<circle cx="411.75" cy="226.53" r="1.60" fill="#3b7fd4"/>
<circle cx="419.00" cy="227.19" r="1.60" fill="#3b7fd4"/>
<circle cx="426.25" cy="227.85" r="1.60" fill="#3b7fd4"/>
<circle cx="433.50" cy="228.18" r="1.60" fill="#3b7fd4"/>
<circle cx="440.75" cy="228.51" r="1.60" fill="#3b7fd4"/>
<circle cx="448.00" cy="231.14" r="1.60" fill="#3b7fd4"/>
<circle cx="455.25" cy="232.78" r="1.60" fill="#3b7fd4"/>
<circle cx="462.50" cy="233.77" r="1.60" fill="#3b7fd4"/>
<circle cx="469.75" cy="234.10" r="1.60" fill="#3b7fd4"/>
<circle cx="477.00" cy="235.09" r="1.60" fill="#3b7fd4"/>
<line x1="332.50" y1="197.58" x2="332.50" y2="206.79" stroke="#2458b5" stroke-width="0.7" stroke-opacity="0.75"/>
<line x1="330.40" y1="197.50" x2="333.60" y2="197.50" stroke="#2458b5" stroke-width="0.7" stroke-opacity="0.75"/>
<line x1="330.40" y1="206.50" x2="333.60" y2="206.50" stroke="#2458b5" stroke-width="0.7" stroke-opacity="0.75"/>
<line x1="339.50" y1="197.48" x2="339.50" y2="206.89" stroke="#2458b5" stroke-width="0.7" stroke-opacity="0.75"/>
<line x1="337.65" y1="197.50" x2="340.85" y2="197.50" stroke="#2458b5" stroke-width="0.7" stroke-opacity="0.75"/>
<line x1="337.65" y1="206.50" x2="340.85" y2="206.50" stroke="#2458b5" stroke-width="0.7" stroke-opacity="0.75"/>
<line x1="346.50" y1="197.38" x2="346.50" y2="206.99" stroke="#2458b5" stroke-width="0.7" stroke-opacity="0.75"/>
<line x1="344.90" y1="197.50" x2="348.10" y2="197.50" stroke="#2458b5" stroke-width="0.7" stroke-opacity="0.75"/>
<line x1="344.90" y1="206.50" x2="348.10" y2="206.50" stroke="#2458b5" stroke-width="0.7" stroke-opacity="0.75"/>
<line x1="353.50" y1="197.94" x2="353.50" y2="207.75" stroke="#2458b5" stroke-width="0.7" stroke-opacity="0.75"/>
<line x1="352.15" y1="197.50" x2="355.35" y2="197.50" stroke="#2458b5" stroke-width="0.7" stroke-opacity="0.75"/>
<line x1="352.15" y1="207.50" x2="355.35" y2="207.50" stroke="#2458b5" stroke-width="0.7" stroke-opacity="0.75"/>
<line x1="361.50" y1="199.16" x2="361.50" y2="209.16" stroke="#2458b5" stroke-width="0.7" stroke-opacity="0.75"/>
<line x1="359.40" y1="199.50" x2="362.60" y2="199.50" stroke="#2458b5" stroke-width="0.7" stroke-opacity="0.75"/>
<line x1="359.40" y1="209.50" x2="362.60" y2="209.50" stroke="#2458b5" stroke-width="0.7" stroke-opacity="0.75"/>
<line x1="368.50" y1="202.68" x2="368.50" y2="212.88" stroke="#2458b5" stroke-width="0.7" stroke-opacity="0.75"/>
<line x1="366.65" y1="202.50" x2="369.85" y2="202.50" stroke="#2458b5" stroke-width="0.7" stroke-opacity="0.75"/>
<line x1="366.65" y1="212.50" x2="369.85" y2="212.50" stroke="#2458b5" stroke-width="0.7" stroke-opacity="0.75"/>
<line x1="375.50" y1="203.24" x2="375.50" y2="213.64" stroke="#2458b5" stroke-width="0.7" stroke-opacity="0.75"/>
<line x1="373.90" y1="203.50" x2="377.10" y2="203.50" stroke="#2458b5" stroke-width="0.7" stroke-opacity="0.75"/>
<line x1="373.90" y1="213.50" x2="377.10" y2="213.50" stroke="#2458b5" stroke-width="0.7" stroke-opacity="0.75"/>
<line x1="382.50" y1="205.77" x2="382.50" y2="216.37" stroke="#2458b5" stroke-width="0.7" stroke-opacity="0.75"/>
<line x1="381.15" y1="205.50" x2="384.35" y2="205.50" stroke="#2458b5" stroke-width="0.7" stroke-opacity="0.75"/>
<line x1="381.15" y1="216.50" x2="384.35" y2="216.50" stroke="#2458b5" stroke-width="0.7" stroke-opacity="0.75"/>
<line x1="390.50" y1="206.66" x2="390.50" y2="217.45" stroke="#2458b5" stroke-width="0.7" stroke-opacity="0.75"/>
<line x1="388.40" y1="206.50" x2="391.60" y2="206.50" stroke="#2458b5" stroke-width="0.7" stroke-opacity="0.75"/>
<line x1="388.40" y1="217.50" x2="391.60" y2="217.50" stroke="#2458b5" stroke-width="0.7" stroke-opacity="0.75"/>
<line x1="397.50" y1="211.17" x2="397.50" y2="222.16" stroke="#2458b5" stroke-width="0.7" stroke-opacity="0.75"/>
<line x1="395.65" y1="211.50" x2="398.85" y2="211.50" stroke="#2458b5" stroke-width="0.7" stroke-opacity="0.75"/>
<line x1="395.65" y1="222.50" x2="398.85" y2="222.50" stroke="#2458b5" stroke-width="0.7" stroke-opacity="0.75"/>
<line x1="404.50" y1="214.36" x2="404.50" y2="225.55" stroke="#2458b5" stroke-width="0.7" stroke-opacity="0.75"/>
<line x1="402.90" y1="214.50" x2="406.10" y2="214.50" stroke="#2458b5" stroke-width="0.7" stroke-opacity="0.75"/>
<line x1="402.90" y1="225.50" x2="406.10" y2="225.50" stroke="#2458b5" stroke-width="0.7" stroke-opacity="0.75"/>
<line x1="411.50" y1="216.24" x2="411.50" y2="227.62" stroke="#2458b5" stroke-width="0.7" stroke-opacity="0.75"/>
<line x1="410.15" y1="216.50" x2="413.35" y2="216.50" stroke="#2458b5" stroke-width="0.7" stroke-opacity="0.75"/>
<line x1="410.15" y1="227.50" x2="413.35" y2="227.50" stroke="#2458b5" stroke-width="0.7" stroke-opacity="0.75"/>
<line x1="419.50" y1="217.45" x2="419.50" y2="229.03" stroke="#2458b5" stroke-width="0.7" stroke-opacity="0.75"/>
<line x1="417.40" y1="217.50" x2="420.60" y2="217.50" stroke="#2458b5" stroke-width="0.7" stroke-opacity="0.75"/>
<line x1="417.40" y1="229.50" x2="420.60" y2="229.50" stroke="#2458b5" stroke-width="0.7" stroke-opacity="0.75"/>
<line x1="426.50" y1="218.01" x2="426.50" y2="229.79" stroke="#2458b5" stroke-width="0.7" stroke-opacity="0.75"/>
<line x1="424.65" y1="218.50" x2="427.85" y2="218.50" stroke="#2458b5" stroke-width="0.7" stroke-opacity="0.75"/>
<line x1="424.65" y1="229.50" x2="427.85" y2="229.50" stroke="#2458b5" stroke-width="0.7" stroke-opacity="0.75"/>
<line x1="433.50" y1="218.24" x2="433.50" y2="230.22" stroke="#2458b5" stroke-width="0.7" stroke-opacity="0.75"/>
<line x1="431.90" y1="218.50" x2="435.10" y2="218.50" stroke="#2458b5" stroke-width="0.7" stroke-opacity="0.75"/>
<line x1="431.90" y1="230.50" x2="435.10" y2="230.50" stroke="#2458b5" stroke-width="0.7" stroke-opacity="0.75"/>
<line x1="440.50" y1="218.47" x2="440.50" y2="230.65" stroke="#2458b5" stroke-width="0.7" stroke-opacity="0.75"/>
<line x1="439.15" y1="218.50" x2="442.35" y2="218.50" stroke="#2458b5" stroke-width="0.7" stroke-opacity="0.75"/>
<line x1="439.15" y1="230.50" x2="442.35" y2="230.50" stroke="#2458b5" stroke-width="0.7" stroke-opacity="0.75"/>
<line x1="448.50" y1="218.70" x2="448.50" y2="231.07" stroke="#2458b5" stroke-width="0.7" stroke-opacity="0.75"/>
<line x1="446.40" y1="218.50" x2="449.60" y2="218.50" stroke="#2458b5" stroke-width="0.7" stroke-opacity="0.75"/>
<line x1="446.40" y1="231.50" x2="449.60" y2="231.50" stroke="#2458b5" stroke-width="0.7" stroke-opacity="0.75"/>
<line x1="455.50" y1="219.59" x2="455.50" y2="232.16" stroke="#2458b5" stroke-width="0.7" stroke-opacity="0.75"/>
<line x1="453.65" y1="219.50" x2="456.85" y2="219.50" stroke="#2458b5" stroke-width="0.7" stroke-opacity="0.75"/>
<line x1="453.65" y1="232.50" x2="456.85" y2="232.50" stroke="#2458b5" stroke-width="0.7" stroke-opacity="0.75"/>
<line x1="462.50" y1="219.82" x2="462.50" y2="232.59" stroke="#2458b5" stroke-width="0.7" stroke-opacity="0.75"/>
<line x1="460.90" y1="219.50" x2="464.10" y2="219.50" stroke="#2458b5" stroke-width="0.7" stroke-opacity="0.75"/>
<line x1="460.90" y1="232.50" x2="464.10" y2="232.50" stroke="#2458b5" stroke-width="0.7" stroke-opacity="0.75"/>
<line x1="469.50" y1="220.05" x2="469.50" y2="233.02" stroke="#2458b5" stroke-width="0.7" stroke-opacity="0.75"/>
<line x1="468.15" y1="220.50" x2="471.35" y2="220.50" stroke="#2458b5" stroke-width="0.7" stroke-opacity="0.75"/>
<line x1="468.15" y1="233.50" x2="471.35" y2="233.50" stroke="#2458b5" stroke-width="0.7" stroke-opacity="0.75"/>
<line x1="477.50" y1="220.61" x2="477.50" y2="233.77" stroke="#2458b5" stroke-width="0.7" stroke-opacity="0.75"/>
<line x1="475.40" y1="220.50" x2="478.60" y2="220.50" stroke="#2458b5" stroke-width="0.7" stroke-opacity="0.75"/>
<line x1="475.40" y1="233.50" x2="478.60" y2="233.50" stroke="#2458b5" stroke-width="0.7" stroke-opacity="0.75"/>
<polyline points="332.00,202.19 339.25,202.19 346.50,202.19 353.75,202.85 361.00,204.16 368.25,207.78 375.50,208.44 382.75,211.07 390.00,212.06 397.25,216.66 404.50,219.95 411.75,221.93 419.00,223.24 426.25,223.90 433.50,224.23 440.75,224.56 448.00,224.89 455.25,225.88 462.50,226.21 469.75,226.53 477.00,227.19" fill="none" stroke="#2458b5" stroke-width="0.9"/>
<circle cx="332.00" cy="202.19" r="1.60" fill="#2458b5"/>
<circle cx="339.25" cy="202.19" r="1.60" fill="#2458b5"/>
<circle cx="346.50" cy="202.19" r="1.60" fill="#2458b5"/>
<circle cx="353.75" cy="202.85" r="1.60" fill="#2458b5"/>
<circle cx="361.00" cy="204.16" r="1.60" fill="#2458b5"/>
<circle cx="368.25" cy="207.78" r="1.60" fill="#2458b5"/>
<circle cx="375.50" cy="208.44" r="1.60" fill="#2458b5"/>
<circle cx="382.75" cy="211.07" r="1.60" fill="#2458b5"/>
<circle cx="390.00" cy="212.06" r="1.60" fill="#2458b5"/>
<circle cx="397.25" cy="216.66" r="1.60" fill="#2458b5"/>
<circle cx="404.50" cy="219.95" r="1.60" fill="#2458b5"/>
<circle cx="411.75" cy="221.93" r="1.60" fill="#2458b5"/>
<circle cx="419.00" cy="223.24" r="1.60" fill="#2458b5"/>
<circle cx="426.25" cy="223.90" r="1.60" fill="#2458b5"/>
<circle cx="433.50" cy="224.23" r="1.60" fill="#2458b5"/>
<circle cx="440.75" cy="224.56" r="1.60" fill="#2458b5"/>
<circle cx="448.00" cy="224.89" r="1.60" fill="#2458b5"/>
<circle cx="455.25" cy="225.88" r="1.60" fill="#2458b5"/>
<circle cx="462.50" cy="226.21" r="1.60" fill="#2458b5"/>
<circle cx="469.75" cy="226.53" r="1.60" fill="#2458b5"/>
<circle cx="477.00" cy="227.19" r="1.60" fill="#2458b5"/>
<line x1="332.50" y1="195.41" x2="332.50" y2="203.70" stroke="#4cc3d6" stroke-width="0.7" stroke-opacity="0.75"/>
<line x1="330.40" y1="195.50" x2="333.60" y2="195.50" stroke="#4cc3d6" stroke-width="0.7" stroke-opacity="0.75"/>
<line x1="330.40" y1="203.50" x2="333.60" y2="203.50" stroke="#4cc3d6" stroke-width="0.7" stroke-opacity="0.75"/>
<line x1="339.50" y1="195.98" x2="339.50" y2="204.45" stroke="#4cc3d6" stroke-width="0.7" stroke-opacity="0.75"/>
<line x1="337.65" y1="195.50" x2="340.85" y2="195.50" stroke="#4cc3d6" stroke-width="0.7" stroke-opacity="0.75"/>
<line x1="337.65" y1="204.50" x2="340.85" y2="204.50" stroke="#4cc3d6" stroke-width="0.7" stroke-opacity="0.75"/>
<line x1="346.50" y1="196.55" x2="346.50" y2="205.20" stroke="#4cc3d6" stroke-width="0.7" stroke-opacity="0.75"/>
<line x1="344.90" y1="196.50" x2="348.10" y2="196.50" stroke="#4cc3d6" stroke-width="0.7" stroke-opacity="0.75"/>
<line x1="344.90" y1="205.50" x2="348.10" y2="205.50" stroke="#4cc3d6" stroke-width="0.7" stroke-opacity="0.75"/>
<line x1="353.50" y1="199.09" x2="353.50" y2="207.92" stroke="#4cc3d6" stroke-width="0.7" stroke-opacity="0.75"/>
<line x1="352.15" y1="199.50" x2="355.35" y2="199.50" stroke="#4cc3d6" stroke-width="0.7" stroke-opacity="0.75"/>
<line x1="352.15" y1="207.50" x2="355.35" y2="207.50" stroke="#4cc3d6" stroke-width="0.7" stroke-opacity="0.75"/>
<line x1="361.50" y1="200.65" x2="361.50" y2="209.65" stroke="#4cc3d6" stroke-width="0.7" stroke-opacity="0.75"/>
<line x1="359.40" y1="200.50" x2="362.60" y2="200.50" stroke="#4cc3d6" stroke-width="0.7" stroke-opacity="0.75"/>
<line x1="359.40" y1="209.50" x2="362.60" y2="209.50" stroke="#4cc3d6" stroke-width="0.7" stroke-opacity="0.75"/>
<line x1="368.50" y1="203.52" x2="368.50" y2="212.70" stroke="#4cc3d6" stroke-width="0.7" stroke-opacity="0.75"/>
<line x1="366.65" y1="203.50" x2="369.85" y2="203.50" stroke="#4cc3d6" stroke-width="0.7" stroke-opacity="0.75"/>
<line x1="366.65" y1="212.50" x2="369.85" y2="212.50" stroke="#4cc3d6" stroke-width="0.7" stroke-opacity="0.75"/>
<line x1="375.50" y1="204.09" x2="375.50" y2="213.45" stroke="#4cc3d6" stroke-width="0.7" stroke-opacity="0.75"/>
<line x1="373.90" y1="204.50" x2="377.10" y2="204.50" stroke="#4cc3d6" stroke-width="0.7" stroke-opacity="0.75"/>
<line x1="373.90" y1="213.50" x2="377.10" y2="213.50" stroke="#4cc3d6" stroke-width="0.7" stroke-opacity="0.75"/>
<line x1="382.50" y1="205.97" x2="382.50" y2="215.51" stroke="#4cc3d6" stroke-width="0.7" stroke-opacity="0.75"/>
<line x1="381.15" y1="205.50" x2="384.35" y2="205.50" stroke="#4cc3d6" stroke-width="0.7" stroke-opacity="0.75"/>
<line x1="381.15" y1="215.50" x2="384.35" y2="215.50" stroke="#4cc3d6" stroke-width="0.7" stroke-opacity="0.75"/>
<line x1="390.50" y1="205.89" x2="390.50" y2="215.60" stroke="#4cc3d6" stroke-width="0.7" stroke-opacity="0.75"/>
<line x1="388.40" y1="205.50" x2="391.60" y2="205.50" stroke="#4cc3d6" stroke-width="0.7" stroke-opacity="0.75"/>
<line x1="388.40" y1="215.50" x2="391.60" y2="215.50" stroke="#4cc3d6" stroke-width="0.7" stroke-opacity="0.75"/>
<line x1="397.50" y1="206.46" x2="397.50" y2="216.34" stroke="#4cc3d6" stroke-width="0.7" stroke-opacity="0.75"/>
<line x1="395.65" y1="206.50" x2="398.85" y2="206.50" stroke="#4cc3d6" stroke-width="0.7" stroke-opacity="0.75"/>
<line x1="395.65" y1="216.50" x2="398.85" y2="216.50" stroke="#4cc3d6" stroke-width="0.7" stroke-opacity="0.75"/>
<line x1="404.50" y1="207.35" x2="404.50" y2="217.42" stroke="#4cc3d6" stroke-width="0.7" stroke-opacity="0.75"/>
<line x1="402.90" y1="207.50" x2="406.10" y2="207.50" stroke="#4cc3d6" stroke-width="0.7" stroke-opacity="0.75"/>
<line x1="402.90" y1="217.50" x2="406.10" y2="217.50" stroke="#4cc3d6" stroke-width="0.7" stroke-opacity="0.75"/>
<line x1="411.50" y1="208.91" x2="411.50" y2="219.15" stroke="#4cc3d6" stroke-width="0.7" stroke-opacity="0.75"/>
<line x1="410.15" y1="208.50" x2="413.35" y2="208.50" stroke="#4cc3d6" stroke-width="0.7" stroke-opacity="0.75"/>
<line x1="410.15" y1="219.50" x2="413.35" y2="219.50" stroke="#4cc3d6" stroke-width="0.7" stroke-opacity="0.75"/>
<line x1="419.50" y1="209.15" x2="419.50" y2="219.57" stroke="#4cc3d6" stroke-width="0.7" stroke-opacity="0.75"/>
<line x1="417.40" y1="209.50" x2="420.60" y2="209.50" stroke="#4cc3d6" stroke-width="0.7" stroke-opacity="0.75"/>
<line x1="417.40" y1="219.50" x2="420.60" y2="219.50" stroke="#4cc3d6" stroke-width="0.7" stroke-opacity="0.75"/>
<line x1="426.50" y1="209.39" x2="426.50" y2="219.99" stroke="#4cc3d6" stroke-width="0.7" stroke-opacity="0.75"/>
<line x1="424.65" y1="209.50" x2="427.85" y2="209.50" stroke="#4cc3d6" stroke-width="0.7" stroke-opacity="0.75"/>
<line x1="424.65" y1="219.50" x2="427.85" y2="219.50" stroke="#4cc3d6" stroke-width="0.7" stroke-opacity="0.75"/>
<line x1="433.50" y1="208.97" x2="433.50" y2="219.75" stroke="#4cc3d6" stroke-width="0.7" stroke-opacity="0.75"/>
<line x1="431.90" y1="208.50" x2="435.10" y2="208.50" stroke="#4cc3d6" stroke-width="0.7" stroke-opacity="0.75"/>
<line x1="431.90" y1="219.50" x2="435.10" y2="219.50" stroke="#4cc3d6" stroke-width="0.7" stroke-opacity="0.75"/>
<line x1="440.50" y1="208.23" x2="440.50" y2="219.18" stroke="#4cc3d6" stroke-width="0.7" stroke-opacity="0.75"/>
<line x1="439.15" y1="208.50" x2="442.35" y2="208.50" stroke="#4cc3d6" stroke-width="0.7" stroke-opacity="0.75"/>
<line x1="439.15" y1="219.50" x2="442.35" y2="219.50" stroke="#4cc3d6" stroke-width="0.7" stroke-opacity="0.75"/>
<line x1="448.50" y1="210.77" x2="448.50" y2="221.90" stroke="#4cc3d6" stroke-width="0.7" stroke-opacity="0.75"/>
<line x1="446.40" y1="210.50" x2="449.60" y2="210.50" stroke="#4cc3d6" stroke-width="0.7" stroke-opacity="0.75"/>
<line x1="446.40" y1="221.50" x2="449.60" y2="221.50" stroke="#4cc3d6" stroke-width="0.7" stroke-opacity="0.75"/>
<line x1="455.50" y1="210.68" x2="455.50" y2="221.99" stroke="#4cc3d6" stroke-width="0.7" stroke-opacity="0.75"/>
<line x1="453.65" y1="210.50" x2="456.85" y2="210.50" stroke="#4cc3d6" stroke-width="0.7" stroke-opacity="0.75"/>
<line x1="453.65" y1="221.50" x2="456.85" y2="221.50" stroke="#4cc3d6" stroke-width="0.7" stroke-opacity="0.75"/>
<line x1="462.50" y1="210.92" x2="462.50" y2="222.41" stroke="#4cc3d6" stroke-width="0.7" stroke-opacity="0.75"/>
<line x1="460.90" y1="210.50" x2="464.10" y2="210.50" stroke="#4cc3d6" stroke-width="0.7" stroke-opacity="0.75"/>
<line x1="460.90" y1="222.50" x2="464.10" y2="222.50" stroke="#4cc3d6" stroke-width="0.7" stroke-opacity="0.75"/>
<line x1="469.50" y1="210.50" x2="469.50" y2="222.17" stroke="#4cc3d6" stroke-width="0.7" stroke-opacity="0.75"/>
<line x1="468.15" y1="210.50" x2="471.35" y2="210.50" stroke="#4cc3d6" stroke-width="0.7" stroke-opacity="0.75"/>
<line x1="468.15" y1="222.50" x2="471.35" y2="222.50" stroke="#4cc3d6" stroke-width="0.7" stroke-opacity="0.75"/>
<line x1="477.50" y1="210.41" x2="477.50" y2="222.26" stroke="#4cc3d6" stroke-width="0.7" stroke-opacity="0.75"/>
<line x1="475.40" y1="210.50" x2="478.60" y2="210.50" stroke="#4cc3d6" stroke-width="0.7" stroke-opacity="0.75"/>
<line x1="475.40" y1="222.50" x2="478.60" y2="222.50" stroke="#4cc3d6" stroke-width="0.7" stroke-opacity="0.75"/>
<polyline points="332.00,199.56 339.25,200.21 346.50,200.87 353.75,203.50 361.00,205.15 368.25,208.11 375.50,208.77 382.75,210.74 390.00,210.74 397.25,211.40 404.50,212.39 411.75,214.03 419.00,214.36 426.25,214.69 433.50,214.36 440.75,213.70 448.00,216.34 455.25,216.34 462.50,216.66 469.75,216.34 477.00,216.34" fill="none" stroke="#4cc3d6" stroke-width="0.9"/>
<polygon points="332.00,197.64 333.60,199.56 332.00,201.48 330.40,199.56" fill="#4cc3d6"/>
<polygon points="339.25,198.29 340.85,200.21 339.25,202.13 337.65,200.21" fill="#4cc3d6"/>
<polygon points="346.50,198.95 348.10,200.87 346.50,202.79 344.90,200.87" fill="#4cc3d6"/>
<polygon points="353.75,201.58 355.35,203.50 353.75,205.42 352.15,203.50" fill="#4cc3d6"/>
<polygon points="361.00,203.23 362.60,205.15 361.00,207.07 359.40,205.15" fill="#4cc3d6"/>
<polygon points="368.25,206.19 369.85,208.11 368.25,210.03 366.65,208.11" fill="#4cc3d6"/>
<polygon points="375.50,206.85 377.10,208.77 375.50,210.69 373.90,208.77" fill="#4cc3d6"/>
<polygon points="382.75,208.82 384.35,210.74 382.75,212.66 381.15,210.74" fill="#4cc3d6"/>
<polygon points="390.00,208.82 391.60,210.74 390.00,212.66 388.40,210.74" fill="#4cc3d6"/>
<polygon points="397.25,209.48 398.85,211.40 397.25,213.32 395.65,211.40" fill="#4cc3d6"/>
<polygon points="404.50,210.47 406.10,212.39 404.50,214.31 402.90,212.39" fill="#4cc3d6"/>
<polygon points="411.75,212.11 413.35,214.03 411.75,215.95 410.15,214.03" fill="#4cc3d6"/>
<polygon points="419.00,212.44 420.60,214.36 419.00,216.28 417.40,214.36" fill="#4cc3d6"/>
<polygon points="426.25,212.77 427.85,214.69 426.25,216.61 424.65,214.69" fill="#4cc3d6"/>
<polygon points="433.50,212.44 435.10,214.36 433.50,216.28 431.90,214.36" fill="#4cc3d6"/>
<polygon points="440.75,211.78 442.35,213.70 440.75,215.62 439.15,213.70" fill="#4cc3d6"/>
<polygon points="448.00,214.42 449.60,216.34 448.00,218.25 446.40,216.34" fill="#4cc3d6"/>
<polygon points="455.25,214.42 456.85,216.34 455.25,218.25 453.65,216.34" fill="#4cc3d6"/>
<polygon points="462.50,214.74 464.10,216.66 462.50,218.58 460.90,216.66" fill="#4cc3d6"/>
<polygon points="469.75,214.42 471.35,216.34 469.75,218.25 468.15,216.34" fill="#4cc3d6"/>
<polygon points="477.00,214.42 478.60,216.34 477.00,218.25 475.40,216.34" fill="#4cc3d6"/>
<line x1="332.50" y1="197.19" x2="332.50" y2="204.56" stroke="#3f5e22" stroke-width="0.7" stroke-opacity="0.75"/>
<line x1="330.40" y1="197.50" x2="333.60" y2="197.50" stroke="#3f5e22" stroke-width="0.7" stroke-opacity="0.75"/>
<line x1="330.40" y1="204.50" x2="333.60" y2="204.50" stroke="#3f5e22" stroke-width="0.7" stroke-opacity="0.75"/>
<line x1="339.50" y1="197.11" x2="339.50" y2="204.64" stroke="#3f5e22" stroke-width="0.7" stroke-opacity="0.75"/>
<line x1="337.65" y1="197.50" x2="340.85" y2="197.50" stroke="#3f5e22" stroke-width="0.7" stroke-opacity="0.75"/>
<line x1="337.65" y1="204.50" x2="340.85" y2="204.50" stroke="#3f5e22" stroke-width="0.7" stroke-opacity="0.75"/>
<line x1="346.50" y1="196.04" x2="346.50" y2="203.73" stroke="#3f5e22" stroke-width="0.7" stroke-opacity="0.75"/>
<line x1="344.90" y1="196.50" x2="348.10" y2="196.50" stroke="#3f5e22" stroke-width="0.7" stroke-opacity="0.75"/>
<line x1="344.90" y1="203.50" x2="348.10" y2="203.50" stroke="#3f5e22" stroke-width="0.7" stroke-opacity="0.75"/>
<line x1="353.50" y1="197.61" x2="353.50" y2="205.45" stroke="#3f5e22" stroke-width="0.7" stroke-opacity="0.75"/>
<line x1="352.15" y1="197.50" x2="355.35" y2="197.50" stroke="#3f5e22" stroke-width="0.7" stroke-opacity="0.75"/>
<line x1="352.15" y1="205.50" x2="355.35" y2="205.50" stroke="#3f5e22" stroke-width="0.7" stroke-opacity="0.75"/>
<line x1="361.50" y1="197.53" x2="361.50" y2="205.53" stroke="#3f5e22" stroke-width="0.7" stroke-opacity="0.75"/>
<line x1="359.40" y1="197.50" x2="362.60" y2="197.50" stroke="#3f5e22" stroke-width="0.7" stroke-opacity="0.75"/>
<line x1="359.40" y1="205.50" x2="362.60" y2="205.50" stroke="#3f5e22" stroke-width="0.7" stroke-opacity="0.75"/>
<line x1="368.50" y1="198.77" x2="368.50" y2="206.93" stroke="#3f5e22" stroke-width="0.7" stroke-opacity="0.75"/>
<line x1="366.65" y1="198.50" x2="369.85" y2="198.50" stroke="#3f5e22" stroke-width="0.7" stroke-opacity="0.75"/>
<line x1="366.65" y1="206.50" x2="369.85" y2="206.50" stroke="#3f5e22" stroke-width="0.7" stroke-opacity="0.75"/>
<line x1="375.50" y1="199.35" x2="375.50" y2="207.66" stroke="#3f5e22" stroke-width="0.7" stroke-opacity="0.75"/>
<line x1="373.90" y1="199.50" x2="377.10" y2="199.50" stroke="#3f5e22" stroke-width="0.7" stroke-opacity="0.75"/>
<line x1="373.90" y1="207.50" x2="377.10" y2="207.50" stroke="#3f5e22" stroke-width="0.7" stroke-opacity="0.75"/>
<line x1="382.50" y1="200.58" x2="382.50" y2="209.06" stroke="#3f5e22" stroke-width="0.7" stroke-opacity="0.75"/>
<line x1="381.15" y1="200.50" x2="384.35" y2="200.50" stroke="#3f5e22" stroke-width="0.7" stroke-opacity="0.75"/>
<line x1="381.15" y1="209.50" x2="384.35" y2="209.50" stroke="#3f5e22" stroke-width="0.7" stroke-opacity="0.75"/>
<line x1="390.50" y1="198.20" x2="390.50" y2="206.83" stroke="#3f5e22" stroke-width="0.7" stroke-opacity="0.75"/>
<line x1="388.40" y1="198.50" x2="391.60" y2="198.50" stroke="#3f5e22" stroke-width="0.7" stroke-opacity="0.75"/>
<line x1="388.40" y1="206.50" x2="391.60" y2="206.50" stroke="#3f5e22" stroke-width="0.7" stroke-opacity="0.75"/>
<line x1="397.50" y1="198.12" x2="397.50" y2="206.91" stroke="#3f5e22" stroke-width="0.7" stroke-opacity="0.75"/>
<line x1="395.65" y1="198.50" x2="398.85" y2="198.50" stroke="#3f5e22" stroke-width="0.7" stroke-opacity="0.75"/>
<line x1="395.65" y1="206.50" x2="398.85" y2="206.50" stroke="#3f5e22" stroke-width="0.7" stroke-opacity="0.75"/>
<line x1="404.50" y1="198.37" x2="404.50" y2="207.32" stroke="#3f5e22" stroke-width="0.7" stroke-opacity="0.75"/>
<line x1="402.90" y1="198.50" x2="406.10" y2="198.50" stroke="#3f5e22" stroke-width="0.7" stroke-opacity="0.75"/>
<line x1="402.90" y1="207.50" x2="406.10" y2="207.50" stroke="#3f5e22" stroke-width="0.7" stroke-opacity="0.75"/>
<line x1="411.50" y1="197.96" x2="411.50" y2="207.07" stroke="#3f5e22" stroke-width="0.7" stroke-opacity="0.75"/>
<line x1="410.15" y1="197.50" x2="413.35" y2="197.50" stroke="#3f5e22" stroke-width="0.7" stroke-opacity="0.75"/>
<line x1="410.15" y1="207.50" x2="413.35" y2="207.50" stroke="#3f5e22" stroke-width="0.7" stroke-opacity="0.75"/>
<line x1="419.50" y1="198.21" x2="419.50" y2="207.48" stroke="#3f5e22" stroke-width="0.7" stroke-opacity="0.75"/>
<line x1="417.40" y1="198.50" x2="420.60" y2="198.50" stroke="#3f5e22" stroke-width="0.7" stroke-opacity="0.75"/>
<line x1="417.40" y1="207.50" x2="420.60" y2="207.50" stroke="#3f5e22" stroke-width="0.7" stroke-opacity="0.75"/>
<line x1="426.50" y1="198.13" x2="426.50" y2="207.56" stroke="#3f5e22" stroke-width="0.7" stroke-opacity="0.75"/>
<line x1="424.65" y1="198.50" x2="427.85" y2="198.50" stroke="#3f5e22" stroke-width="0.7" stroke-opacity="0.75"/>
<line x1="424.65" y1="207.50" x2="427.85" y2="207.50" stroke="#3f5e22" stroke-width="0.7" stroke-opacity="0.75"/>
<line x1="433.50" y1="197.73" x2="433.50" y2="207.31" stroke="#3f5e22" stroke-width="0.7" stroke-opacity="0.75"/>
<line x1="431.90" y1="197.50" x2="435.10" y2="197.50" stroke="#3f5e22" stroke-width="0.7" stroke-opacity="0.75"/>
<line x1="431.90" y1="207.50" x2="435.10" y2="207.50" stroke="#3f5e22" stroke-width="0.7" stroke-opacity="0.75"/>
<line x1="440.50" y1="196.99" x2="440.50" y2="206.73" stroke="#3f5e22" stroke-width="0.7" stroke-opacity="0.75"/>
<line x1="439.15" y1="196.50" x2="442.35" y2="196.50" stroke="#3f5e22" stroke-width="0.7" stroke-opacity="0.75"/>
<line x1="439.15" y1="206.50" x2="442.35" y2="206.50" stroke="#3f5e22" stroke-width="0.7" stroke-opacity="0.75"/>
<line x1="448.50" y1="196.58" x2="448.50" y2="206.48" stroke="#3f5e22" stroke-width="0.7" stroke-opacity="0.75"/>
<line x1="446.40" y1="196.50" x2="449.60" y2="196.50" stroke="#3f5e22" stroke-width="0.7" stroke-opacity="0.75"/>
<line x1="446.40" y1="206.50" x2="449.60" y2="206.50" stroke="#3f5e22" stroke-width="0.7" stroke-opacity="0.75"/>
<line x1="455.50" y1="195.84" x2="455.50" y2="205.90" stroke="#3f5e22" stroke-width="0.7" stroke-opacity="0.75"/>
<line x1="453.65" y1="195.50" x2="456.85" y2="195.50" stroke="#3f5e22" stroke-width="0.7" stroke-opacity="0.75"/>
<line x1="453.65" y1="205.50" x2="456.85" y2="205.50" stroke="#3f5e22" stroke-width="0.7" stroke-opacity="0.75"/>
<line x1="462.50" y1="195.77" x2="462.50" y2="205.98" stroke="#3f5e22" stroke-width="0.7" stroke-opacity="0.75"/>
<line x1="460.90" y1="195.50" x2="464.10" y2="195.50" stroke="#3f5e22" stroke-width="0.7" stroke-opacity="0.75"/>
<line x1="460.90" y1="205.50" x2="464.10" y2="205.50" stroke="#3f5e22" stroke-width="0.7" stroke-opacity="0.75"/>
<line x1="469.50" y1="195.69" x2="469.50" y2="206.06" stroke="#3f5e22" stroke-width="0.7" stroke-opacity="0.75"/>
<line x1="468.15" y1="195.50" x2="471.35" y2="195.50" stroke="#3f5e22" stroke-width="0.7" stroke-opacity="0.75"/>
<line x1="468.15" y1="206.50" x2="471.35" y2="206.50" stroke="#3f5e22" stroke-width="0.7" stroke-opacity="0.75"/>
<line x1="477.50" y1="193.63" x2="477.50" y2="204.16" stroke="#3f5e22" stroke-width="0.7" stroke-opacity="0.75"/>
<line x1="475.40" y1="193.50" x2="478.60" y2="193.50" stroke="#3f5e22" stroke-width="0.7" stroke-opacity="0.75"/>
<line x1="475.40" y1="204.50" x2="478.60" y2="204.50" stroke="#3f5e22" stroke-width="0.7" stroke-opacity="0.75"/>
<polyline points="332.00,200.87 339.25,200.87 346.50,199.88 353.75,201.53 361.00,201.53 368.25,202.85 375.50,203.50 382.75,204.82 390.00,202.52 397.25,202.52 404.50,202.85 411.75,202.52 419.00,202.85 426.25,202.85 433.50,202.52 440.75,201.86 448.00,201.53 455.25,200.87 462.50,200.87 469.75,200.87 477.00,198.90" fill="none" stroke="#3f5e22" stroke-width="0.9"/>
<polygon points="330.16,199.59 333.84,199.59 332.00,202.63" fill="#3f5e22"/>
<polygon points="337.41,199.59 341.09,199.59 339.25,202.63" fill="#3f5e22"/>
<polygon points="344.66,198.60 348.34,198.60 346.50,201.64" fill="#3f5e22"/>
<polygon points="351.91,200.25 355.59,200.25 353.75,203.29" fill="#3f5e22"/>
<polygon points="359.16,200.25 362.84,200.25 361.00,203.29" fill="#3f5e22"/>
<polygon points="366.41,201.57 370.09,201.57 368.25,204.61" fill="#3f5e22"/>
<polygon points="373.66,202.22 377.34,202.22 375.50,205.26" fill="#3f5e22"/>
<polygon points="380.91,203.54 384.59,203.54 382.75,206.58" fill="#3f5e22"/>
<polygon points="388.16,201.24 391.84,201.24 390.00,204.28" fill="#3f5e22"/>
<polygon points="395.41,201.24 399.09,201.24 397.25,204.28" fill="#3f5e22"/>
<polygon points="402.66,201.57 406.34,201.57 404.50,204.61" fill="#3f5e22"/>
<polygon points="409.91,201.24 413.59,201.24 411.75,204.28" fill="#3f5e22"/>
<polygon points="417.16,201.57 420.84,201.57 419.00,204.61" fill="#3f5e22"/>
<polygon points="424.41,201.57 428.09,201.57 426.25,204.61" fill="#3f5e22"/>
<polygon points="431.66,201.24 435.34,201.24 433.50,204.28" fill="#3f5e22"/>
<polygon points="438.91,200.58 442.59,200.58 440.75,203.62" fill="#3f5e22"/>
<polygon points="446.16,200.25 449.84,200.25 448.00,203.29" fill="#3f5e22"/>
<polygon points="453.41,199.59 457.09,199.59 455.25,202.63" fill="#3f5e22"/>
<polygon points="460.66,199.59 464.34,199.59 462.50,202.63" fill="#3f5e22"/>
<polygon points="467.91,199.59 471.59,199.59 469.75,202.63" fill="#3f5e22"/>
<polygon points="475.16,197.62 478.84,197.62 477.00,200.66" fill="#3f5e22"/>
<line x1="332.50" y1="196.20" x2="332.50" y2="203.57" stroke="#4f7d2a" stroke-width="0.7" stroke-opacity="0.75"/>
<line x1="330.40" y1="196.50" x2="333.60" y2="196.50" stroke="#4f7d2a" stroke-width="0.7" stroke-opacity="0.75"/>
<line x1="330.40" y1="203.50" x2="333.60" y2="203.50" stroke="#4f7d2a" stroke-width="0.7" stroke-opacity="0.75"/>
<line x1="339.50" y1="196.45" x2="339.50" y2="203.98" stroke="#4f7d2a" stroke-width="0.7" stroke-opacity="0.75"/>
<line x1="337.65" y1="196.50" x2="340.85" y2="196.50" stroke="#4f7d2a" stroke-width="0.7" stroke-opacity="0.75"/>
<line x1="337.65" y1="203.50" x2="340.85" y2="203.50" stroke="#4f7d2a" stroke-width="0.7" stroke-opacity="0.75"/>
<line x1="346.50" y1="196.37" x2="346.50" y2="204.06" stroke="#4f7d2a" stroke-width="0.7" stroke-opacity="0.75"/>
<line x1="344.90" y1="196.50" x2="348.10" y2="196.50" stroke="#4f7d2a" stroke-width="0.7" stroke-opacity="0.75"/>
<line x1="344.90" y1="204.50" x2="348.10" y2="204.50" stroke="#4f7d2a" stroke-width="0.7" stroke-opacity="0.75"/>
<line x1="353.50" y1="196.95" x2="353.50" y2="204.79" stroke="#4f7d2a" stroke-width="0.7" stroke-opacity="0.75"/>
<line x1="352.15" y1="196.50" x2="355.35" y2="196.50" stroke="#4f7d2a" stroke-width="0.7" stroke-opacity="0.75"/>
<line x1="352.15" y1="204.50" x2="355.35" y2="204.50" stroke="#4f7d2a" stroke-width="0.7" stroke-opacity="0.75"/>
<line x1="361.50" y1="196.87" x2="361.50" y2="204.87" stroke="#4f7d2a" stroke-width="0.7" stroke-opacity="0.75"/>
<line x1="359.40" y1="196.50" x2="362.60" y2="196.50" stroke="#4f7d2a" stroke-width="0.7" stroke-opacity="0.75"/>
<line x1="359.40" y1="204.50" x2="362.60" y2="204.50" stroke="#4f7d2a" stroke-width="0.7" stroke-opacity="0.75"/>
<line x1="368.50" y1="198.44" x2="368.50" y2="206.60" stroke="#4f7d2a" stroke-width="0.7" stroke-opacity="0.75"/>
<line x1="366.65" y1="198.50" x2="369.85" y2="198.50" stroke="#4f7d2a" stroke-width="0.7" stroke-opacity="0.75"/>
<line x1="366.65" y1="206.50" x2="369.85" y2="206.50" stroke="#4f7d2a" stroke-width="0.7" stroke-opacity="0.75"/>
<line x1="375.50" y1="199.02" x2="375.50" y2="207.33" stroke="#4f7d2a" stroke-width="0.7" stroke-opacity="0.75"/>
<line x1="373.90" y1="199.50" x2="377.10" y2="199.50" stroke="#4f7d2a" stroke-width="0.7" stroke-opacity="0.75"/>
<line x1="373.90" y1="207.50" x2="377.10" y2="207.50" stroke="#4f7d2a" stroke-width="0.7" stroke-opacity="0.75"/>
<line x1="382.50" y1="200.25" x2="382.50" y2="208.73" stroke="#4f7d2a" stroke-width="0.7" stroke-opacity="0.75"/>
<line x1="381.15" y1="200.50" x2="384.35" y2="200.50" stroke="#4f7d2a" stroke-width="0.7" stroke-opacity="0.75"/>
<line x1="381.15" y1="208.50" x2="384.35" y2="208.50" stroke="#4f7d2a" stroke-width="0.7" stroke-opacity="0.75"/>
<line x1="390.50" y1="197.54" x2="390.50" y2="206.18" stroke="#4f7d2a" stroke-width="0.7" stroke-opacity="0.75"/>
<line x1="388.40" y1="197.50" x2="391.60" y2="197.50" stroke="#4f7d2a" stroke-width="0.7" stroke-opacity="0.75"/>
<line x1="388.40" y1="206.50" x2="391.60" y2="206.50" stroke="#4f7d2a" stroke-width="0.7" stroke-opacity="0.75"/>
<line x1="397.50" y1="197.46" x2="397.50" y2="206.25" stroke="#4f7d2a" stroke-width="0.7" stroke-opacity="0.75"/>
<line x1="395.65" y1="197.50" x2="398.85" y2="197.50" stroke="#4f7d2a" stroke-width="0.7" stroke-opacity="0.75"/>
<line x1="395.65" y1="206.50" x2="398.85" y2="206.50" stroke="#4f7d2a" stroke-width="0.7" stroke-opacity="0.75"/>
<line x1="404.50" y1="197.38" x2="404.50" y2="206.33" stroke="#4f7d2a" stroke-width="0.7" stroke-opacity="0.75"/>
<line x1="402.90" y1="197.50" x2="406.10" y2="197.50" stroke="#4f7d2a" stroke-width="0.7" stroke-opacity="0.75"/>
<line x1="402.90" y1="206.50" x2="406.10" y2="206.50" stroke="#4f7d2a" stroke-width="0.7" stroke-opacity="0.75"/>
<line x1="411.50" y1="197.31" x2="411.50" y2="206.41" stroke="#4f7d2a" stroke-width="0.7" stroke-opacity="0.75"/>
<line x1="410.15" y1="197.50" x2="413.35" y2="197.50" stroke="#4f7d2a" stroke-width="0.7" stroke-opacity="0.75"/>
<line x1="410.15" y1="206.50" x2="413.35" y2="206.50" stroke="#4f7d2a" stroke-width="0.7" stroke-opacity="0.75"/>
<line x1="419.50" y1="197.23" x2="419.50" y2="206.49" stroke="#4f7d2a" stroke-width="0.7" stroke-opacity="0.75"/>
<line x1="417.40" y1="197.50" x2="420.60" y2="197.50" stroke="#4f7d2a" stroke-width="0.7" stroke-opacity="0.75"/>
<line x1="417.40" y1="206.50" x2="420.60" y2="206.50" stroke="#4f7d2a" stroke-width="0.7" stroke-opacity="0.75"/>
<line x1="426.50" y1="197.48" x2="426.50" y2="206.90" stroke="#4f7d2a" stroke-width="0.7" stroke-opacity="0.75"/>
<line x1="424.65" y1="197.50" x2="427.85" y2="197.50" stroke="#4f7d2a" stroke-width="0.7" stroke-opacity="0.75"/>
<line x1="424.65" y1="206.50" x2="427.85" y2="206.50" stroke="#4f7d2a" stroke-width="0.7" stroke-opacity="0.75"/>
<line x1="433.50" y1="197.07" x2="433.50" y2="206.65" stroke="#4f7d2a" stroke-width="0.7" stroke-opacity="0.75"/>
<line x1="431.90" y1="197.50" x2="435.10" y2="197.50" stroke="#4f7d2a" stroke-width="0.7" stroke-opacity="0.75"/>
<line x1="431.90" y1="206.50" x2="435.10" y2="206.50" stroke="#4f7d2a" stroke-width="0.7" stroke-opacity="0.75"/>
<line x1="440.50" y1="196.00" x2="440.50" y2="205.74" stroke="#4f7d2a" stroke-width="0.7" stroke-opacity="0.75"/>
<line x1="439.15" y1="196.50" x2="442.35" y2="196.50" stroke="#4f7d2a" stroke-width="0.7" stroke-opacity="0.75"/>
<line x1="439.15" y1="205.50" x2="442.35" y2="205.50" stroke="#4f7d2a" stroke-width="0.7" stroke-opacity="0.75"/>
<line x1="448.50" y1="195.27" x2="448.50" y2="205.16" stroke="#4f7d2a" stroke-width="0.7" stroke-opacity="0.75"/>
<line x1="446.40" y1="195.50" x2="449.60" y2="195.50" stroke="#4f7d2a" stroke-width="0.7" stroke-opacity="0.75"/>
<line x1="446.40" y1="205.50" x2="449.60" y2="205.50" stroke="#4f7d2a" stroke-width="0.7" stroke-opacity="0.75"/>
<line x1="455.50" y1="194.53" x2="455.50" y2="204.58" stroke="#4f7d2a" stroke-width="0.7" stroke-opacity="0.75"/>
<line x1="453.65" y1="194.50" x2="456.85" y2="194.50" stroke="#4f7d2a" stroke-width="0.7" stroke-opacity="0.75"/>
<line x1="453.65" y1="204.50" x2="456.85" y2="204.50" stroke="#4f7d2a" stroke-width="0.7" stroke-opacity="0.75"/>
<line x1="462.50" y1="194.45" x2="462.50" y2="204.66" stroke="#4f7d2a" stroke-width="0.7" stroke-opacity="0.75"/>
<line x1="460.90" y1="194.50" x2="464.10" y2="194.50" stroke="#4f7d2a" stroke-width="0.7" stroke-opacity="0.75"/>
<line x1="460.90" y1="204.50" x2="464.10" y2="204.50" stroke="#4f7d2a" stroke-width="0.7" stroke-opacity="0.75"/>
<line x1="469.50" y1="194.37" x2="469.50" y2="204.74" stroke="#4f7d2a" stroke-width="0.7" stroke-opacity="0.75"/>
<line x1="468.15" y1="194.50" x2="471.35" y2="194.50" stroke="#4f7d2a" stroke-width="0.7" stroke-opacity="0.75"/>
<line x1="468.15" y1="204.50" x2="471.35" y2="204.50" stroke="#4f7d2a" stroke-width="0.7" stroke-opacity="0.75"/>
<line x1="477.50" y1="192.32" x2="477.50" y2="202.85" stroke="#4f7d2a" stroke-width="0.7" stroke-opacity="0.75"/>
<line x1="475.40" y1="192.50" x2="478.60" y2="192.50" stroke="#4f7d2a" stroke-width="0.7" stroke-opacity="0.75"/>
<line x1="475.40" y1="202.50" x2="478.60" y2="202.50" stroke="#4f7d2a" stroke-width="0.7" stroke-opacity="0.75"/>
<polyline points="332.00,199.88 339.25,200.21 346.50,200.21 353.75,200.87 361.00,200.87 368.25,202.52 375.50,203.18 382.75,204.49 390.00,201.86 397.25,201.86 404.50,201.86 411.75,201.86 419.00,201.86 426.25,202.19 433.50,201.86 440.75,200.87 448.00,200.21 455.25,199.56 462.50,199.56 469.75,199.56 477.00,197.58" fill="none" stroke="#4f7d2a" stroke-width="0.9"/>
<rect x="330.40" y="198.28" width="3.20" height="3.20" fill="#4f7d2a"/>
<rect x="337.65" y="198.61" width="3.20" height="3.20" fill="#4f7d2a"/>
<rect x="344.90" y="198.61" width="3.20" height="3.20" fill="#4f7d2a"/>
<rect x="352.15" y="199.27" width="3.20" height="3.20" fill="#4f7d2a"/>
<rect x="359.40" y="199.27" width="3.20" height="3.20" fill="#4f7d2a"/>
<rect x="366.65" y="200.92" width="3.20" height="3.20" fill="#4f7d2a"/>
<rect x="373.90" y="201.58" width="3.20" height="3.20" fill="#4f7d2a"/>
<rect x="381.15" y="202.89" width="3.20" height="3.20" fill="#4f7d2a"/>
<rect x="388.40" y="200.26" width="3.20" height="3.20" fill="#4f7d2a"/>
<rect x="395.65" y="200.26" width="3.20" height="3.20" fill="#4f7d2a"/>
<rect x="402.90" y="200.26" width="3.20" height="3.20" fill="#4f7d2a"/>
<rect x="410.15" y="200.26" width="3.20" height="3.20" fill="#4f7d2a"/>
<rect x="417.40" y="200.26" width="3.20" height="3.20" fill="#4f7d2a"/>
<rect x="424.65" y="200.59" width="3.20" height="3.20" fill="#4f7d2a"/>
<rect x="431.90" y="200.26" width="3.20" height="3.20" fill="#4f7d2a"/>
<rect x="439.15" y="199.27" width="3.20" height="3.20" fill="#4f7d2a"/>
<rect x="446.40" y="198.61" width="3.20" height="3.20" fill="#4f7d2a"/>
<rect x="453.65" y="197.96" width="3.20" height="3.20" fill="#4f7d2a"/>
<rect x="460.90" y="197.96" width="3.20" height="3.20" fill="#4f7d2a"/>
<rect x="468.15" y="197.96" width="3.20" height="3.20" fill="#4f7d2a"/>
<rect x="475.40" y="195.98" width="3.20" height="3.20" fill="#4f7d2a"/>
<line x1="332.50" y1="195.25" x2="332.50" y2="202.16" stroke="#222222" stroke-width="0.7" stroke-opacity="0.75"/>
<line x1="330.40" y1="195.50" x2="333.60" y2="195.50" stroke="#222222" stroke-width="0.7" stroke-opacity="0.75"/>
<line x1="330.40" y1="202.50" x2="333.60" y2="202.50" stroke="#222222" stroke-width="0.7" stroke-opacity="0.75"/>
<line x1="339.50" y1="194.71" x2="339.50" y2="201.77" stroke="#222222" stroke-width="0.7" stroke-opacity="0.75"/>
<line x1="337.65" y1="194.50" x2="340.85" y2="194.50" stroke="#222222" stroke-width="0.7" stroke-opacity="0.75"/>
<line x1="337.65" y1="201.50" x2="340.85" y2="201.50" stroke="#222222" stroke-width="0.7" stroke-opacity="0.75"/>
<line x1="346.50" y1="193.98" x2="346.50" y2="201.18" stroke="#222222" stroke-width="0.7" stroke-opacity="0.75"/>
<line x1="344.90" y1="193.50" x2="348.10" y2="193.50" stroke="#222222" stroke-width="0.7" stroke-opacity="0.75"/>
<line x1="344.90" y1="201.50" x2="348.10" y2="201.50" stroke="#222222" stroke-width="0.7" stroke-opacity="0.75"/>
<line x1="353.50" y1="195.55" x2="353.50" y2="202.90" stroke="#222222" stroke-width="0.7" stroke-opacity="0.75"/>
<line x1="352.15" y1="195.50" x2="355.35" y2="195.50" stroke="#222222" stroke-width="0.7" stroke-opacity="0.75"/>
<line x1="352.15" y1="202.50" x2="355.35" y2="202.50" stroke="#222222" stroke-width="0.7" stroke-opacity="0.75"/>
<line x1="361.50" y1="196.46" x2="361.50" y2="203.96" stroke="#222222" stroke-width="0.7" stroke-opacity="0.75"/>
<line x1="359.40" y1="196.50" x2="362.60" y2="196.50" stroke="#222222" stroke-width="0.7" stroke-opacity="0.75"/>
<line x1="359.40" y1="203.50" x2="362.60" y2="203.50" stroke="#222222" stroke-width="0.7" stroke-opacity="0.75"/>
<line x1="368.50" y1="197.05" x2="368.50" y2="204.70" stroke="#222222" stroke-width="0.7" stroke-opacity="0.75"/>
<line x1="366.65" y1="197.50" x2="369.85" y2="197.50" stroke="#222222" stroke-width="0.7" stroke-opacity="0.75"/>
<line x1="366.65" y1="204.50" x2="369.85" y2="204.50" stroke="#222222" stroke-width="0.7" stroke-opacity="0.75"/>
<line x1="375.50" y1="196.97" x2="375.50" y2="204.77" stroke="#222222" stroke-width="0.7" stroke-opacity="0.75"/>
<line x1="373.90" y1="196.50" x2="377.10" y2="196.50" stroke="#222222" stroke-width="0.7" stroke-opacity="0.75"/>
<line x1="373.90" y1="204.50" x2="377.10" y2="204.50" stroke="#222222" stroke-width="0.7" stroke-opacity="0.75"/>
<line x1="382.50" y1="196.24" x2="382.50" y2="204.19" stroke="#222222" stroke-width="0.7" stroke-opacity="0.75"/>
<line x1="381.15" y1="196.50" x2="384.35" y2="196.50" stroke="#222222" stroke-width="0.7" stroke-opacity="0.75"/>
<line x1="381.15" y1="204.50" x2="384.35" y2="204.50" stroke="#222222" stroke-width="0.7" stroke-opacity="0.75"/>
<line x1="390.50" y1="194.39" x2="390.50" y2="202.48" stroke="#222222" stroke-width="0.7" stroke-opacity="0.75"/>
<line x1="388.40" y1="194.50" x2="391.60" y2="194.50" stroke="#222222" stroke-width="0.7" stroke-opacity="0.75"/>
<line x1="388.40" y1="202.50" x2="391.60" y2="202.50" stroke="#222222" stroke-width="0.7" stroke-opacity="0.75"/>
<line x1="397.50" y1="194.12" x2="397.50" y2="202.36" stroke="#222222" stroke-width="0.7" stroke-opacity="0.75"/>
<line x1="395.65" y1="194.50" x2="398.85" y2="194.50" stroke="#222222" stroke-width="0.7" stroke-opacity="0.75"/>
<line x1="395.65" y1="202.50" x2="398.85" y2="202.50" stroke="#222222" stroke-width="0.7" stroke-opacity="0.75"/>
<line x1="404.50" y1="194.05" x2="404.50" y2="202.43" stroke="#222222" stroke-width="0.7" stroke-opacity="0.75"/>
<line x1="402.90" y1="194.50" x2="406.10" y2="194.50" stroke="#222222" stroke-width="0.7" stroke-opacity="0.75"/>
<line x1="402.90" y1="202.50" x2="406.10" y2="202.50" stroke="#222222" stroke-width="0.7" stroke-opacity="0.75"/>
<line x1="411.50" y1="193.97" x2="411.50" y2="202.51" stroke="#222222" stroke-width="0.7" stroke-opacity="0.75"/>
<line x1="410.15" y1="193.50" x2="413.35" y2="193.50" stroke="#222222" stroke-width="0.7" stroke-opacity="0.75"/>
<line x1="410.15" y1="202.50" x2="413.35" y2="202.50" stroke="#222222" stroke-width="0.7" stroke-opacity="0.75"/>
<line x1="419.50" y1="193.90" x2="419.50" y2="202.58" stroke="#222222" stroke-width="0.7" stroke-opacity="0.75"/>
<line x1="417.40" y1="193.50" x2="420.60" y2="193.50" stroke="#222222" stroke-width="0.7" stroke-opacity="0.75"/>
<line x1="417.40" y1="202.50" x2="420.60" y2="202.50" stroke="#222222" stroke-width="0.7" stroke-opacity="0.75"/>
<line x1="426.50" y1="193.82" x2="426.50" y2="202.66" stroke="#222222" stroke-width="0.7" stroke-opacity="0.75"/>
<line x1="424.65" y1="193.50" x2="427.85" y2="193.50" stroke="#222222" stroke-width="0.7" stroke-opacity="0.75"/>
<line x1="424.65" y1="202.50" x2="427.85" y2="202.50" stroke="#222222" stroke-width="0.7" stroke-opacity="0.75"/>
<line x1="433.50" y1="193.75" x2="433.50" y2="202.73" stroke="#222222" stroke-width="0.7" stroke-opacity="0.75"/>
<line x1="431.90" y1="193.50" x2="435.10" y2="193.50" stroke="#222222" stroke-width="0.7" stroke-opacity="0.75"/>
<line x1="431.90" y1="202.50" x2="435.10" y2="202.50" stroke="#222222" stroke-width="0.7" stroke-opacity="0.75"/>
<line x1="440.50" y1="192.36" x2="440.50" y2="201.49" stroke="#222222" stroke-width="0.7" stroke-opacity="0.75"/>
<line x1="439.15" y1="192.50" x2="442.35" y2="192.50" stroke="#222222" stroke-width="0.7" stroke-opacity="0.75"/>
<line x1="439.15" y1="201.50" x2="442.35" y2="201.50" stroke="#222222" stroke-width="0.7" stroke-opacity="0.75"/>
<line x1="448.50" y1="191.63" x2="448.50" y2="200.90" stroke="#222222" stroke-width="0.7" stroke-opacity="0.75"/>
<line x1="446.40" y1="191.50" x2="449.60" y2="191.50" stroke="#222222" stroke-width="0.7" stroke-opacity="0.75"/>
<line x1="446.40" y1="200.50" x2="449.60" y2="200.50" stroke="#222222" stroke-width="0.7" stroke-opacity="0.75"/>
<line x1="455.50" y1="191.22" x2="455.50" y2="200.65" stroke="#222222" stroke-width="0.7" stroke-opacity="0.75"/>
<line x1="453.65" y1="191.50" x2="456.85" y2="191.50" stroke="#222222" stroke-width="0.7" stroke-opacity="0.75"/>
<line x1="453.65" y1="200.50" x2="456.85" y2="200.50" stroke="#222222" stroke-width="0.7" stroke-opacity="0.75"/>
<line x1="462.50" y1="190.82" x2="462.50" y2="200.39" stroke="#222222" stroke-width="0.7" stroke-opacity="0.75"/>
<line x1="460.90" y1="190.50" x2="464.10" y2="190.50" stroke="#222222" stroke-width="0.7" stroke-opacity="0.75"/>
<line x1="460.90" y1="200.50" x2="464.10" y2="200.50" stroke="#222222" stroke-width="0.7" stroke-opacity="0.75"/>
<line x1="469.50" y1="191.41" x2="469.50" y2="201.13" stroke="#222222" stroke-width="0.7" stroke-opacity="0.75"/>
<line x1="468.15" y1="191.50" x2="471.35" y2="191.50" stroke="#222222" stroke-width="0.7" stroke-opacity="0.75"/>
<line x1="468.15" y1="201.50" x2="471.35" y2="201.50" stroke="#222222" stroke-width="0.7" stroke-opacity="0.75"/>
<line x1="477.50" y1="190.02" x2="477.50" y2="199.89" stroke="#222222" stroke-width="0.7" stroke-opacity="0.75"/>
<line x1="475.40" y1="190.50" x2="478.60" y2="190.50" stroke="#222222" stroke-width="0.7" stroke-opacity="0.75"/>
<line x1="475.40" y1="199.50" x2="478.60" y2="199.50" stroke="#222222" stroke-width="0.7" stroke-opacity="0.75"/>
<polyline points="332.00,198.70 339.25,198.24 346.50,197.58 353.75,199.23 361.00,200.21 368.25,200.87 375.50,200.87 382.75,200.21 390.00,198.44 397.25,198.24 404.50,198.24 411.75,198.24 419.00,198.24 426.25,198.24 433.50,198.24 440.75,196.92 448.00,196.27 455.25,195.94 462.50,195.61 469.75,196.27 477.00,194.95" fill="none" stroke="#222222" stroke-width="0.9"/>
<circle cx="332.00" cy="198.70" r="1.60" fill="#222222"/>
<circle cx="339.25" cy="198.24" r="1.60" fill="#222222"/>
<circle cx="346.50" cy="197.58" r="1.60" fill="#222222"/>
<circle cx="353.75" cy="199.23" r="1.60" fill="#222222"/>
<circle cx="361.00" cy="200.21" r="1.60" fill="#222222"/>
<circle cx="368.25" cy="200.87" r="1.60" fill="#222222"/>
<circle cx="375.50" cy="200.87" r="1.60" fill="#222222"/>
<circle cx="382.75" cy="200.21" r="1.60" fill="#222222"/>
<circle cx="390.00" cy="198.44" r="1.60" fill="#222222"/>
<circle cx="397.25" cy="198.24" r="1.60" fill="#222222"/>
<circle cx="404.50" cy="198.24" r="1.60" fill="#222222"/>
<circle cx="411.75" cy="198.24" r="1.60" fill="#222222"/>
<circle cx="419.00" cy="198.24" r="1.60" fill="#222222"/>
<circle cx="426.25" cy="198.24" r="1.60" fill="#222222"/>
<circle cx="433.50" cy="198.24" r="1.60" fill="#222222"/>
<circle cx="440.75" cy="196.92" r="1.60" fill="#222222"/>
<circle cx="448.00" cy="196.27" r="1.60" fill="#222222"/>
<circle cx="455.25" cy="195.94" r="1.60" fill="#222222"/>
<circle cx="462.50" cy="195.61" r="1.60" fill="#222222"/>
<circle cx="469.75" cy="196.27" r="1.60" fill="#222222"/>
<circle cx="477.00" cy="194.95" r="1.60" fill="#222222"/>
<polygon points="409.00,269.00 409.58,270.40 411.09,270.52 409.94,271.51 410.29,272.98 409.00,272.19 407.71,272.98 408.06,271.51 406.91,270.52 408.42,270.40" fill="#2458b5"/>
<line x1="413.00" y1="271.20" x2="477.50" y2="271.20" stroke="#2458b5" stroke-width="2"/>
<polygon points="418.00,263.40 418.58,264.80 420.09,264.92 418.94,265.91 419.29,267.38 418.00,266.59 416.71,267.38 417.06,265.91 415.91,264.92 417.42,264.80" fill="#3b7fd4"/>
<line x1="422.00" y1="265.70" x2="477.50" y2="265.70" stroke="#3b7fd4" stroke-width="2"/>
<text x="495.40" y="164.70" font-size="12.5" fill="#111" font-weight="bold" stroke="#111" stroke-width="0.4">d</text>
<text x="557.20" y="167.40" font-size="9" textLength="92.20" lengthAdjust="spacingAndGlyphs">Cumulative food intake</text>
<text x="500.60" y="224.50" font-size="9" text-anchor="middle" textLength="107.60" lengthAdjust="spacingAndGlyphs" transform="rotate(-90 500.60 224.50)">Cumulative food intake (g)</text>
<line x1="525.50" y1="174.40" x2="525.50" y2="277.40" stroke="#8a8a8a" stroke-width="1"/>
<line x1="521.90" y1="174.50" x2="525.40" y2="174.50" stroke="#8a8a8a" stroke-width="1"/>
<text x="518.30" y="177.20" font-size="7.8" text-anchor="end">80</text>
<line x1="521.90" y1="200.50" x2="525.40" y2="200.50" stroke="#8a8a8a" stroke-width="1"/>
<text x="518.30" y="202.95" font-size="7.8" text-anchor="end">60</text>
<line x1="521.90" y1="225.50" x2="525.40" y2="225.50" stroke="#8a8a8a" stroke-width="1"/>
<text x="518.30" y="228.70" font-size="7.8" text-anchor="end">40</text>
<line x1="521.90" y1="251.50" x2="525.40" y2="251.50" stroke="#8a8a8a" stroke-width="1"/>
<text x="518.30" y="254.45" font-size="7.8" text-anchor="end">20</text>
<line x1="521.90" y1="277.50" x2="525.40" y2="277.50" stroke="#8a8a8a" stroke-width="1"/>
<text x="518.30" y="280.20" font-size="7.8" text-anchor="end">0</text>
<line x1="523.40" y1="264.50" x2="525.40" y2="264.50" stroke="#8a8a8a" stroke-width="0.8"/>
<line x1="523.40" y1="238.50" x2="525.40" y2="238.50" stroke="#8a8a8a" stroke-width="0.8"/>
<line x1="523.40" y1="213.50" x2="525.40" y2="213.50" stroke="#8a8a8a" stroke-width="0.8"/>
<line x1="523.40" y1="187.50" x2="525.40" y2="187.50" stroke="#8a8a8a" stroke-width="0.8"/>
<line x1="525.40" y1="277.50" x2="681.00" y2="277.50" stroke="#8a8a8a" stroke-width="1"/>
<line x1="525.50" y1="277.40" x2="525.50" y2="281.40" stroke="#8a8a8a" stroke-width="1"/>
<text x="525.40" y="290.90" font-size="6.9" text-anchor="middle">0</text>
<line x1="541.50" y1="277.40" x2="541.50" y2="281.40" stroke="#8a8a8a" stroke-width="1"/>
<text x="541.00" y="290.90" font-size="6.9" text-anchor="middle">2</text>
<line x1="556.50" y1="277.40" x2="556.50" y2="281.40" stroke="#8a8a8a" stroke-width="1"/>
<text x="556.60" y="290.90" font-size="6.9" text-anchor="middle">4</text>
<line x1="572.50" y1="277.40" x2="572.50" y2="281.40" stroke="#8a8a8a" stroke-width="1"/>
<text x="572.20" y="290.90" font-size="6.9" text-anchor="middle">6</text>
<line x1="587.50" y1="277.40" x2="587.50" y2="281.40" stroke="#8a8a8a" stroke-width="1"/>
<text x="587.80" y="290.90" font-size="6.9" text-anchor="middle">8</text>
<line x1="603.50" y1="277.40" x2="603.50" y2="281.40" stroke="#8a8a8a" stroke-width="1"/>
<text x="603.40" y="290.90" font-size="6.9" text-anchor="middle">10</text>
<line x1="619.50" y1="277.40" x2="619.50" y2="281.40" stroke="#8a8a8a" stroke-width="1"/>
<text x="619.00" y="290.90" font-size="6.9" text-anchor="middle">12</text>
<line x1="634.50" y1="277.40" x2="634.50" y2="281.40" stroke="#8a8a8a" stroke-width="1"/>
<text x="634.60" y="290.90" font-size="6.9" text-anchor="middle">14</text>
<line x1="650.50" y1="277.40" x2="650.50" y2="281.40" stroke="#8a8a8a" stroke-width="1"/>
<text x="650.20" y="290.90" font-size="6.9" text-anchor="middle">16</text>
<line x1="665.50" y1="277.40" x2="665.50" y2="281.40" stroke="#8a8a8a" stroke-width="1"/>
<text x="665.80" y="290.90" font-size="6.9" text-anchor="middle">18</text>
<line x1="681.50" y1="277.40" x2="681.50" y2="281.40" stroke="#8a8a8a" stroke-width="1"/>
<text x="681.40" y="290.90" font-size="6.9" text-anchor="middle">20</text>
<line x1="522.50" y1="277.50" x2="525.40" y2="277.50" stroke="#8a8a8a" stroke-width="1"/>
<text x="596.00" y="303.20" font-size="9" textLength="14.40" lengthAdjust="spacingAndGlyphs">Day</text>
<line x1="533.50" y1="272.25" x2="533.50" y2="274.05" stroke="#2458b5" stroke-width="0.7" stroke-opacity="0.75"/>
<line x1="531.60" y1="272.50" x2="534.80" y2="272.50" stroke="#2458b5" stroke-width="0.7" stroke-opacity="0.75"/>
<line x1="531.60" y1="274.50" x2="534.80" y2="274.50" stroke="#2458b5" stroke-width="0.7" stroke-opacity="0.75"/>
<line x1="541.50" y1="269.07" x2="541.50" y2="270.97" stroke="#2458b5" stroke-width="0.7" stroke-opacity="0.75"/>
<line x1="539.40" y1="269.50" x2="542.60" y2="269.50" stroke="#2458b5" stroke-width="0.7" stroke-opacity="0.75"/>
<line x1="539.40" y1="270.50" x2="542.60" y2="270.50" stroke="#2458b5" stroke-width="0.7" stroke-opacity="0.75"/>
<line x1="548.50" y1="265.89" x2="548.50" y2="267.89" stroke="#2458b5" stroke-width="0.7" stroke-opacity="0.75"/>
<line x1="547.20" y1="265.50" x2="550.40" y2="265.50" stroke="#2458b5" stroke-width="0.7" stroke-opacity="0.75"/>
<line x1="547.20" y1="267.50" x2="550.40" y2="267.50" stroke="#2458b5" stroke-width="0.7" stroke-opacity="0.75"/>
<line x1="556.50" y1="262.72" x2="556.50" y2="264.82" stroke="#2458b5" stroke-width="0.7" stroke-opacity="0.75"/>
<line x1="555.00" y1="262.50" x2="558.20" y2="262.50" stroke="#2458b5" stroke-width="0.7" stroke-opacity="0.75"/>
<line x1="555.00" y1="264.50" x2="558.20" y2="264.50" stroke="#2458b5" stroke-width="0.7" stroke-opacity="0.75"/>
<line x1="564.50" y1="259.54" x2="564.50" y2="261.74" stroke="#2458b5" stroke-width="0.7" stroke-opacity="0.75"/>
<line x1="562.80" y1="259.50" x2="566.00" y2="259.50" stroke="#2458b5" stroke-width="0.7" stroke-opacity="0.75"/>
<line x1="562.80" y1="261.50" x2="566.00" y2="261.50" stroke="#2458b5" stroke-width="0.7" stroke-opacity="0.75"/>
<line x1="572.50" y1="256.36" x2="572.50" y2="258.66" stroke="#2458b5" stroke-width="0.7" stroke-opacity="0.75"/>
<line x1="570.60" y1="256.50" x2="573.80" y2="256.50" stroke="#2458b5" stroke-width="0.7" stroke-opacity="0.75"/>
<line x1="570.60" y1="258.50" x2="573.80" y2="258.50" stroke="#2458b5" stroke-width="0.7" stroke-opacity="0.75"/>
<line x1="580.50" y1="253.18" x2="580.50" y2="255.58" stroke="#2458b5" stroke-width="0.7" stroke-opacity="0.75"/>
<line x1="578.40" y1="253.50" x2="581.60" y2="253.50" stroke="#2458b5" stroke-width="0.7" stroke-opacity="0.75"/>
<line x1="578.40" y1="255.50" x2="581.60" y2="255.50" stroke="#2458b5" stroke-width="0.7" stroke-opacity="0.75"/>
<line x1="587.50" y1="250.00" x2="587.50" y2="252.50" stroke="#2458b5" stroke-width="0.7" stroke-opacity="0.75"/>
<line x1="586.20" y1="250.50" x2="589.40" y2="250.50" stroke="#2458b5" stroke-width="0.7" stroke-opacity="0.75"/>
<line x1="586.20" y1="252.50" x2="589.40" y2="252.50" stroke="#2458b5" stroke-width="0.7" stroke-opacity="0.75"/>
<line x1="595.50" y1="246.82" x2="595.50" y2="249.42" stroke="#2458b5" stroke-width="0.7" stroke-opacity="0.75"/>
<line x1="594.00" y1="246.50" x2="597.20" y2="246.50" stroke="#2458b5" stroke-width="0.7" stroke-opacity="0.75"/>
<line x1="594.00" y1="249.50" x2="597.20" y2="249.50" stroke="#2458b5" stroke-width="0.7" stroke-opacity="0.75"/>
<line x1="603.50" y1="243.64" x2="603.50" y2="246.34" stroke="#2458b5" stroke-width="0.7" stroke-opacity="0.75"/>
<line x1="601.80" y1="243.50" x2="605.00" y2="243.50" stroke="#2458b5" stroke-width="0.7" stroke-opacity="0.75"/>
<line x1="601.80" y1="246.50" x2="605.00" y2="246.50" stroke="#2458b5" stroke-width="0.7" stroke-opacity="0.75"/>
<line x1="611.50" y1="240.46" x2="611.50" y2="243.26" stroke="#2458b5" stroke-width="0.7" stroke-opacity="0.75"/>
<line x1="609.60" y1="240.50" x2="612.80" y2="240.50" stroke="#2458b5" stroke-width="0.7" stroke-opacity="0.75"/>
<line x1="609.60" y1="243.50" x2="612.80" y2="243.50" stroke="#2458b5" stroke-width="0.7" stroke-opacity="0.75"/>
<line x1="619.50" y1="237.29" x2="619.50" y2="240.19" stroke="#2458b5" stroke-width="0.7" stroke-opacity="0.75"/>
<line x1="617.40" y1="237.50" x2="620.60" y2="237.50" stroke="#2458b5" stroke-width="0.7" stroke-opacity="0.75"/>
<line x1="617.40" y1="240.50" x2="620.60" y2="240.50" stroke="#2458b5" stroke-width="0.7" stroke-opacity="0.75"/>
<line x1="626.50" y1="234.11" x2="626.50" y2="237.11" stroke="#2458b5" stroke-width="0.7" stroke-opacity="0.75"/>
<line x1="625.20" y1="234.50" x2="628.40" y2="234.50" stroke="#2458b5" stroke-width="0.7" stroke-opacity="0.75"/>
<line x1="625.20" y1="237.50" x2="628.40" y2="237.50" stroke="#2458b5" stroke-width="0.7" stroke-opacity="0.75"/>
<line x1="634.50" y1="230.93" x2="634.50" y2="234.03" stroke="#2458b5" stroke-width="0.7" stroke-opacity="0.75"/>
<line x1="633.00" y1="230.50" x2="636.20" y2="230.50" stroke="#2458b5" stroke-width="0.7" stroke-opacity="0.75"/>
<line x1="633.00" y1="234.50" x2="636.20" y2="234.50" stroke="#2458b5" stroke-width="0.7" stroke-opacity="0.75"/>
<line x1="642.50" y1="227.75" x2="642.50" y2="230.95" stroke="#2458b5" stroke-width="0.7" stroke-opacity="0.75"/>
<line x1="640.80" y1="227.50" x2="644.00" y2="227.50" stroke="#2458b5" stroke-width="0.7" stroke-opacity="0.75"/>
<line x1="640.80" y1="230.50" x2="644.00" y2="230.50" stroke="#2458b5" stroke-width="0.7" stroke-opacity="0.75"/>
<line x1="650.50" y1="224.57" x2="650.50" y2="227.87" stroke="#2458b5" stroke-width="0.7" stroke-opacity="0.75"/>
<line x1="648.60" y1="224.50" x2="651.80" y2="224.50" stroke="#2458b5" stroke-width="0.7" stroke-opacity="0.75"/>
<line x1="648.60" y1="227.50" x2="651.80" y2="227.50" stroke="#2458b5" stroke-width="0.7" stroke-opacity="0.75"/>
<line x1="658.50" y1="221.39" x2="658.50" y2="224.79" stroke="#2458b5" stroke-width="0.7" stroke-opacity="0.75"/>
<line x1="656.40" y1="221.50" x2="659.60" y2="221.50" stroke="#2458b5" stroke-width="0.7" stroke-opacity="0.75"/>
<line x1="656.40" y1="224.50" x2="659.60" y2="224.50" stroke="#2458b5" stroke-width="0.7" stroke-opacity="0.75"/>
<line x1="665.50" y1="218.21" x2="665.50" y2="221.71" stroke="#2458b5" stroke-width="0.7" stroke-opacity="0.75"/>
<line x1="664.20" y1="218.50" x2="667.40" y2="218.50" stroke="#2458b5" stroke-width="0.7" stroke-opacity="0.75"/>
<line x1="664.20" y1="221.50" x2="667.40" y2="221.50" stroke="#2458b5" stroke-width="0.7" stroke-opacity="0.75"/>
<line x1="673.50" y1="215.04" x2="673.50" y2="218.64" stroke="#2458b5" stroke-width="0.7" stroke-opacity="0.75"/>
<line x1="672.00" y1="215.50" x2="675.20" y2="215.50" stroke="#2458b5" stroke-width="0.7" stroke-opacity="0.75"/>
<line x1="672.00" y1="218.50" x2="675.20" y2="218.50" stroke="#2458b5" stroke-width="0.7" stroke-opacity="0.75"/>
<line x1="681.50" y1="211.86" x2="681.50" y2="215.56" stroke="#2458b5" stroke-width="0.7" stroke-opacity="0.75"/>
<line x1="679.80" y1="211.50" x2="683.00" y2="211.50" stroke="#2458b5" stroke-width="0.7" stroke-opacity="0.75"/>
<line x1="679.80" y1="215.50" x2="683.00" y2="215.50" stroke="#2458b5" stroke-width="0.7" stroke-opacity="0.75"/>
<polyline points="533.20,273.15 541.00,270.02 548.80,266.89 556.60,263.77 564.40,260.64 572.20,257.51 580.00,254.38 587.80,251.25 595.60,248.12 603.40,244.99 611.20,241.86 619.00,238.74 626.80,235.61 634.60,232.48 642.40,229.35 650.20,226.22 658.00,223.09 665.80,219.96 673.60,216.84 681.40,213.71" fill="none" stroke="#2458b5" stroke-width="0.8"/>
<polygon points="531.47,274.35 534.92,274.35 533.20,271.50" fill="#2458b5"/>
<polygon points="539.27,271.22 542.73,271.22 541.00,268.37" fill="#2458b5"/>
<polygon points="547.07,268.09 550.52,268.09 548.80,265.24" fill="#2458b5"/>
<polygon points="554.88,264.97 558.33,264.97 556.60,262.12" fill="#2458b5"/>
<polygon points="562.67,261.84 566.12,261.84 564.40,258.99" fill="#2458b5"/>
<polygon points="570.47,258.71 573.92,258.71 572.20,255.86" fill="#2458b5"/>
<polygon points="578.27,255.58 581.73,255.58 580.00,252.73" fill="#2458b5"/>
<polygon points="586.07,252.45 589.52,252.45 587.80,249.60" fill="#2458b5"/>
<polygon points="593.88,249.32 597.33,249.32 595.60,246.47" fill="#2458b5"/>
<polygon points="601.67,246.19 605.12,246.19 603.40,243.34" fill="#2458b5"/>
<polygon points="609.47,243.06 612.92,243.06 611.20,240.21" fill="#2458b5"/>
<polygon points="617.27,239.94 620.73,239.94 619.00,237.09" fill="#2458b5"/>
<polygon points="625.07,236.81 628.52,236.81 626.80,233.96" fill="#2458b5"/>
<polygon points="632.88,233.68 636.33,233.68 634.60,230.83" fill="#2458b5"/>
<polygon points="640.67,230.55 644.12,230.55 642.40,227.70" fill="#2458b5"/>
<polygon points="648.47,227.42 651.92,227.42 650.20,224.57" fill="#2458b5"/>
<polygon points="656.27,224.29 659.73,224.29 658.00,221.44" fill="#2458b5"/>
<polygon points="664.07,221.16 667.52,221.16 665.80,218.31" fill="#2458b5"/>
<polygon points="671.87,218.04 675.32,218.04 673.60,215.19" fill="#2458b5"/>
<polygon points="679.67,214.91 683.12,214.91 681.40,212.06" fill="#2458b5"/>
<line x1="533.50" y1="272.25" x2="533.50" y2="274.05" stroke="#3b7fd4" stroke-width="0.7" stroke-opacity="0.75"/>
<line x1="531.60" y1="272.50" x2="534.80" y2="272.50" stroke="#3b7fd4" stroke-width="0.7" stroke-opacity="0.75"/>
<line x1="531.60" y1="274.50" x2="534.80" y2="274.50" stroke="#3b7fd4" stroke-width="0.7" stroke-opacity="0.75"/>
<line x1="541.50" y1="268.98" x2="541.50" y2="270.88" stroke="#3b7fd4" stroke-width="0.7" stroke-opacity="0.75"/>
<line x1="539.40" y1="268.50" x2="542.60" y2="268.50" stroke="#3b7fd4" stroke-width="0.7" stroke-opacity="0.75"/>
<line x1="539.40" y1="270.50" x2="542.60" y2="270.50" stroke="#3b7fd4" stroke-width="0.7" stroke-opacity="0.75"/>
<line x1="548.50" y1="265.71" x2="548.50" y2="267.71" stroke="#3b7fd4" stroke-width="0.7" stroke-opacity="0.75"/>
<line x1="547.20" y1="265.50" x2="550.40" y2="265.50" stroke="#3b7fd4" stroke-width="0.7" stroke-opacity="0.75"/>
<line x1="547.20" y1="267.50" x2="550.40" y2="267.50" stroke="#3b7fd4" stroke-width="0.7" stroke-opacity="0.75"/>
<line x1="556.50" y1="262.44" x2="556.50" y2="264.55" stroke="#3b7fd4" stroke-width="0.7" stroke-opacity="0.75"/>
<line x1="555.00" y1="262.50" x2="558.20" y2="262.50" stroke="#3b7fd4" stroke-width="0.7" stroke-opacity="0.75"/>
<line x1="555.00" y1="264.50" x2="558.20" y2="264.50" stroke="#3b7fd4" stroke-width="0.7" stroke-opacity="0.75"/>
<line x1="564.50" y1="259.18" x2="564.50" y2="261.38" stroke="#3b7fd4" stroke-width="0.7" stroke-opacity="0.75"/>
<line x1="562.80" y1="259.50" x2="566.00" y2="259.50" stroke="#3b7fd4" stroke-width="0.7" stroke-opacity="0.75"/>
<line x1="562.80" y1="261.50" x2="566.00" y2="261.50" stroke="#3b7fd4" stroke-width="0.7" stroke-opacity="0.75"/>
<line x1="572.50" y1="255.91" x2="572.50" y2="258.21" stroke="#3b7fd4" stroke-width="0.7" stroke-opacity="0.75"/>
<line x1="570.60" y1="255.50" x2="573.80" y2="255.50" stroke="#3b7fd4" stroke-width="0.7" stroke-opacity="0.75"/>
<line x1="570.60" y1="258.50" x2="573.80" y2="258.50" stroke="#3b7fd4" stroke-width="0.7" stroke-opacity="0.75"/>
<line x1="580.50" y1="252.64" x2="580.50" y2="255.04" stroke="#3b7fd4" stroke-width="0.7" stroke-opacity="0.75"/>
<line x1="578.40" y1="252.50" x2="581.60" y2="252.50" stroke="#3b7fd4" stroke-width="0.7" stroke-opacity="0.75"/>
<line x1="578.40" y1="255.50" x2="581.60" y2="255.50" stroke="#3b7fd4" stroke-width="0.7" stroke-opacity="0.75"/>
<line x1="587.50" y1="249.37" x2="587.50" y2="251.87" stroke="#3b7fd4" stroke-width="0.7" stroke-opacity="0.75"/>
<line x1="586.20" y1="249.50" x2="589.40" y2="249.50" stroke="#3b7fd4" stroke-width="0.7" stroke-opacity="0.75"/>
<line x1="586.20" y1="251.50" x2="589.40" y2="251.50" stroke="#3b7fd4" stroke-width="0.7" stroke-opacity="0.75"/>
<line x1="595.50" y1="246.10" x2="595.50" y2="248.70" stroke="#3b7fd4" stroke-width="0.7" stroke-opacity="0.75"/>
<line x1="594.00" y1="246.50" x2="597.20" y2="246.50" stroke="#3b7fd4" stroke-width="0.7" stroke-opacity="0.75"/>
<line x1="594.00" y1="248.50" x2="597.20" y2="248.50" stroke="#3b7fd4" stroke-width="0.7" stroke-opacity="0.75"/>
<line x1="603.50" y1="242.83" x2="603.50" y2="245.53" stroke="#3b7fd4" stroke-width="0.7" stroke-opacity="0.75"/>
<line x1="601.80" y1="242.50" x2="605.00" y2="242.50" stroke="#3b7fd4" stroke-width="0.7" stroke-opacity="0.75"/>
<line x1="601.80" y1="245.50" x2="605.00" y2="245.50" stroke="#3b7fd4" stroke-width="0.7" stroke-opacity="0.75"/>
<line x1="611.50" y1="239.56" x2="611.50" y2="242.36" stroke="#3b7fd4" stroke-width="0.7" stroke-opacity="0.75"/>
<line x1="609.60" y1="239.50" x2="612.80" y2="239.50" stroke="#3b7fd4" stroke-width="0.7" stroke-opacity="0.75"/>
<line x1="609.60" y1="242.50" x2="612.80" y2="242.50" stroke="#3b7fd4" stroke-width="0.7" stroke-opacity="0.75"/>
<line x1="619.50" y1="236.29" x2="619.50" y2="239.19" stroke="#3b7fd4" stroke-width="0.7" stroke-opacity="0.75"/>
<line x1="617.40" y1="236.50" x2="620.60" y2="236.50" stroke="#3b7fd4" stroke-width="0.7" stroke-opacity="0.75"/>
<line x1="617.40" y1="239.50" x2="620.60" y2="239.50" stroke="#3b7fd4" stroke-width="0.7" stroke-opacity="0.75"/>
<line x1="626.50" y1="233.03" x2="626.50" y2="236.03" stroke="#3b7fd4" stroke-width="0.7" stroke-opacity="0.75"/>
<line x1="625.20" y1="233.50" x2="628.40" y2="233.50" stroke="#3b7fd4" stroke-width="0.7" stroke-opacity="0.75"/>
<line x1="625.20" y1="236.50" x2="628.40" y2="236.50" stroke="#3b7fd4" stroke-width="0.7" stroke-opacity="0.75"/>
<line x1="634.50" y1="229.76" x2="634.50" y2="232.86" stroke="#3b7fd4" stroke-width="0.7" stroke-opacity="0.75"/>
<line x1="633.00" y1="229.50" x2="636.20" y2="229.50" stroke="#3b7fd4" stroke-width="0.7" stroke-opacity="0.75"/>
<line x1="633.00" y1="232.50" x2="636.20" y2="232.50" stroke="#3b7fd4" stroke-width="0.7" stroke-opacity="0.75"/>
<line x1="642.50" y1="226.49" x2="642.50" y2="229.69" stroke="#3b7fd4" stroke-width="0.7" stroke-opacity="0.75"/>
<line x1="640.80" y1="226.50" x2="644.00" y2="226.50" stroke="#3b7fd4" stroke-width="0.7" stroke-opacity="0.75"/>
<line x1="640.80" y1="229.50" x2="644.00" y2="229.50" stroke="#3b7fd4" stroke-width="0.7" stroke-opacity="0.75"/>
<line x1="650.50" y1="223.22" x2="650.50" y2="226.52" stroke="#3b7fd4" stroke-width="0.7" stroke-opacity="0.75"/>
<line x1="648.60" y1="223.50" x2="651.80" y2="223.50" stroke="#3b7fd4" stroke-width="0.7" stroke-opacity="0.75"/>
<line x1="648.60" y1="226.50" x2="651.80" y2="226.50" stroke="#3b7fd4" stroke-width="0.7" stroke-opacity="0.75"/>
<line x1="658.50" y1="219.95" x2="658.50" y2="223.35" stroke="#3b7fd4" stroke-width="0.7" stroke-opacity="0.75"/>
<line x1="656.40" y1="219.50" x2="659.60" y2="219.50" stroke="#3b7fd4" stroke-width="0.7" stroke-opacity="0.75"/>
<line x1="656.40" y1="223.50" x2="659.60" y2="223.50" stroke="#3b7fd4" stroke-width="0.7" stroke-opacity="0.75"/>
<line x1="665.50" y1="216.68" x2="665.50" y2="220.18" stroke="#3b7fd4" stroke-width="0.7" stroke-opacity="0.75"/>
<line x1="664.20" y1="216.50" x2="667.40" y2="216.50" stroke="#3b7fd4" stroke-width="0.7" stroke-opacity="0.75"/>
<line x1="664.20" y1="220.50" x2="667.40" y2="220.50" stroke="#3b7fd4" stroke-width="0.7" stroke-opacity="0.75"/>
<line x1="673.50" y1="213.41" x2="673.50" y2="217.01" stroke="#3b7fd4" stroke-width="0.7" stroke-opacity="0.75"/>
<line x1="672.00" y1="213.50" x2="675.20" y2="213.50" stroke="#3b7fd4" stroke-width="0.7" stroke-opacity="0.75"/>
<line x1="672.00" y1="217.50" x2="675.20" y2="217.50" stroke="#3b7fd4" stroke-width="0.7" stroke-opacity="0.75"/>
<line x1="681.50" y1="210.14" x2="681.50" y2="213.84" stroke="#3b7fd4" stroke-width="0.7" stroke-opacity="0.75"/>
<line x1="679.80" y1="210.50" x2="683.00" y2="210.50" stroke="#3b7fd4" stroke-width="0.7" stroke-opacity="0.75"/>
<line x1="679.80" y1="213.50" x2="683.00" y2="213.50" stroke="#3b7fd4" stroke-width="0.7" stroke-opacity="0.75"/>
<polyline points="533.20,273.15 541.00,269.93 548.80,266.71 556.60,263.50 564.40,260.28 572.20,257.06 580.00,253.84 587.80,250.62 595.60,247.40 603.40,244.18 611.20,240.96 619.00,237.74 626.80,234.53 634.60,231.31 642.40,228.09 650.20,224.87 658.00,221.65 665.80,218.43 673.60,215.21 681.40,211.99" fill="none" stroke="#3b7fd4" stroke-width="0.8"/>
<circle cx="533.20" cy="273.15" r="1.50" fill="#3b7fd4"/>
<circle cx="541.00" cy="269.93" r="1.50" fill="#3b7fd4"/>
<circle cx="548.80" cy="266.71" r="1.50" fill="#3b7fd4"/>
<circle cx="556.60" cy="263.50" r="1.50" fill="#3b7fd4"/>
<circle cx="564.40" cy="260.28" r="1.50" fill="#3b7fd4"/>
<circle cx="572.20" cy="257.06" r="1.50" fill="#3b7fd4"/>
<circle cx="580.00" cy="253.84" r="1.50" fill="#3b7fd4"/>
<circle cx="587.80" cy="250.62" r="1.50" fill="#3b7fd4"/>
<circle cx="595.60" cy="247.40" r="1.50" fill="#3b7fd4"/>
<circle cx="603.40" cy="244.18" r="1.50" fill="#3b7fd4"/>
<circle cx="611.20" cy="240.96" r="1.50" fill="#3b7fd4"/>
<circle cx="619.00" cy="237.74" r="1.50" fill="#3b7fd4"/>
<circle cx="626.80" cy="234.53" r="1.50" fill="#3b7fd4"/>
<circle cx="634.60" cy="231.31" r="1.50" fill="#3b7fd4"/>
<circle cx="642.40" cy="228.09" r="1.50" fill="#3b7fd4"/>
<circle cx="650.20" cy="224.87" r="1.50" fill="#3b7fd4"/>
<circle cx="658.00" cy="221.65" r="1.50" fill="#3b7fd4"/>
<circle cx="665.80" cy="218.43" r="1.50" fill="#3b7fd4"/>
<circle cx="673.60" cy="215.21" r="1.50" fill="#3b7fd4"/>
<circle cx="681.40" cy="211.99" r="1.50" fill="#3b7fd4"/>
<line x1="533.50" y1="272.25" x2="533.50" y2="274.05" stroke="#4cc3d6" stroke-width="0.7" stroke-opacity="0.75"/>
<line x1="531.60" y1="272.50" x2="534.80" y2="272.50" stroke="#4cc3d6" stroke-width="0.7" stroke-opacity="0.75"/>
<line x1="531.60" y1="274.50" x2="534.80" y2="274.50" stroke="#4cc3d6" stroke-width="0.7" stroke-opacity="0.75"/>
<line x1="541.50" y1="268.75" x2="541.50" y2="270.65" stroke="#4cc3d6" stroke-width="0.7" stroke-opacity="0.75"/>
<line x1="539.40" y1="268.50" x2="542.60" y2="268.50" stroke="#4cc3d6" stroke-width="0.7" stroke-opacity="0.75"/>
<line x1="539.40" y1="270.50" x2="542.60" y2="270.50" stroke="#4cc3d6" stroke-width="0.7" stroke-opacity="0.75"/>
<line x1="548.50" y1="265.25" x2="548.50" y2="267.25" stroke="#4cc3d6" stroke-width="0.7" stroke-opacity="0.75"/>
<line x1="547.20" y1="265.50" x2="550.40" y2="265.50" stroke="#4cc3d6" stroke-width="0.7" stroke-opacity="0.75"/>
<line x1="547.20" y1="267.50" x2="550.40" y2="267.50" stroke="#4cc3d6" stroke-width="0.7" stroke-opacity="0.75"/>
<line x1="556.50" y1="261.75" x2="556.50" y2="263.85" stroke="#4cc3d6" stroke-width="0.7" stroke-opacity="0.75"/>
<line x1="555.00" y1="261.50" x2="558.20" y2="261.50" stroke="#4cc3d6" stroke-width="0.7" stroke-opacity="0.75"/>
<line x1="555.00" y1="263.50" x2="558.20" y2="263.50" stroke="#4cc3d6" stroke-width="0.7" stroke-opacity="0.75"/>
<line x1="564.50" y1="258.25" x2="564.50" y2="260.45" stroke="#4cc3d6" stroke-width="0.7" stroke-opacity="0.75"/>
<line x1="562.80" y1="258.50" x2="566.00" y2="258.50" stroke="#4cc3d6" stroke-width="0.7" stroke-opacity="0.75"/>
<line x1="562.80" y1="260.50" x2="566.00" y2="260.50" stroke="#4cc3d6" stroke-width="0.7" stroke-opacity="0.75"/>
<line x1="572.50" y1="254.75" x2="572.50" y2="257.05" stroke="#4cc3d6" stroke-width="0.7" stroke-opacity="0.75"/>
<line x1="570.60" y1="254.50" x2="573.80" y2="254.50" stroke="#4cc3d6" stroke-width="0.7" stroke-opacity="0.75"/>
<line x1="570.60" y1="257.50" x2="573.80" y2="257.50" stroke="#4cc3d6" stroke-width="0.7" stroke-opacity="0.75"/>
<line x1="580.50" y1="251.25" x2="580.50" y2="253.65" stroke="#4cc3d6" stroke-width="0.7" stroke-opacity="0.75"/>
<line x1="578.40" y1="251.50" x2="581.60" y2="251.50" stroke="#4cc3d6" stroke-width="0.7" stroke-opacity="0.75"/>
<line x1="578.40" y1="253.50" x2="581.60" y2="253.50" stroke="#4cc3d6" stroke-width="0.7" stroke-opacity="0.75"/>
<line x1="587.50" y1="247.75" x2="587.50" y2="250.25" stroke="#4cc3d6" stroke-width="0.7" stroke-opacity="0.75"/>
<line x1="586.20" y1="247.50" x2="589.40" y2="247.50" stroke="#4cc3d6" stroke-width="0.7" stroke-opacity="0.75"/>
<line x1="586.20" y1="250.50" x2="589.40" y2="250.50" stroke="#4cc3d6" stroke-width="0.7" stroke-opacity="0.75"/>
<line x1="595.50" y1="244.25" x2="595.50" y2="246.85" stroke="#4cc3d6" stroke-width="0.7" stroke-opacity="0.75"/>
<line x1="594.00" y1="244.50" x2="597.20" y2="244.50" stroke="#4cc3d6" stroke-width="0.7" stroke-opacity="0.75"/>
<line x1="594.00" y1="246.50" x2="597.20" y2="246.50" stroke="#4cc3d6" stroke-width="0.7" stroke-opacity="0.75"/>
<line x1="603.50" y1="240.75" x2="603.50" y2="243.45" stroke="#4cc3d6" stroke-width="0.7" stroke-opacity="0.75"/>
<line x1="601.80" y1="240.50" x2="605.00" y2="240.50" stroke="#4cc3d6" stroke-width="0.7" stroke-opacity="0.75"/>
<line x1="601.80" y1="243.50" x2="605.00" y2="243.50" stroke="#4cc3d6" stroke-width="0.7" stroke-opacity="0.75"/>
<line x1="611.50" y1="237.25" x2="611.50" y2="240.05" stroke="#4cc3d6" stroke-width="0.7" stroke-opacity="0.75"/>
<line x1="609.60" y1="237.50" x2="612.80" y2="237.50" stroke="#4cc3d6" stroke-width="0.7" stroke-opacity="0.75"/>
<line x1="609.60" y1="240.50" x2="612.80" y2="240.50" stroke="#4cc3d6" stroke-width="0.7" stroke-opacity="0.75"/>
<line x1="619.50" y1="233.75" x2="619.50" y2="236.65" stroke="#4cc3d6" stroke-width="0.7" stroke-opacity="0.75"/>
<line x1="617.40" y1="233.50" x2="620.60" y2="233.50" stroke="#4cc3d6" stroke-width="0.7" stroke-opacity="0.75"/>
<line x1="617.40" y1="236.50" x2="620.60" y2="236.50" stroke="#4cc3d6" stroke-width="0.7" stroke-opacity="0.75"/>
<line x1="626.50" y1="230.25" x2="626.50" y2="233.25" stroke="#4cc3d6" stroke-width="0.7" stroke-opacity="0.75"/>
<line x1="625.20" y1="230.50" x2="628.40" y2="230.50" stroke="#4cc3d6" stroke-width="0.7" stroke-opacity="0.75"/>
<line x1="625.20" y1="233.50" x2="628.40" y2="233.50" stroke="#4cc3d6" stroke-width="0.7" stroke-opacity="0.75"/>
<line x1="634.50" y1="226.74" x2="634.50" y2="229.84" stroke="#4cc3d6" stroke-width="0.7" stroke-opacity="0.75"/>
<line x1="633.00" y1="226.50" x2="636.20" y2="226.50" stroke="#4cc3d6" stroke-width="0.7" stroke-opacity="0.75"/>
<line x1="633.00" y1="229.50" x2="636.20" y2="229.50" stroke="#4cc3d6" stroke-width="0.7" stroke-opacity="0.75"/>
<line x1="642.50" y1="223.24" x2="642.50" y2="226.44" stroke="#4cc3d6" stroke-width="0.7" stroke-opacity="0.75"/>
<line x1="640.80" y1="223.50" x2="644.00" y2="223.50" stroke="#4cc3d6" stroke-width="0.7" stroke-opacity="0.75"/>
<line x1="640.80" y1="226.50" x2="644.00" y2="226.50" stroke="#4cc3d6" stroke-width="0.7" stroke-opacity="0.75"/>
<line x1="650.50" y1="219.74" x2="650.50" y2="223.04" stroke="#4cc3d6" stroke-width="0.7" stroke-opacity="0.75"/>
<line x1="648.60" y1="219.50" x2="651.80" y2="219.50" stroke="#4cc3d6" stroke-width="0.7" stroke-opacity="0.75"/>
<line x1="648.60" y1="223.50" x2="651.80" y2="223.50" stroke="#4cc3d6" stroke-width="0.7" stroke-opacity="0.75"/>
<line x1="658.50" y1="216.24" x2="658.50" y2="219.64" stroke="#4cc3d6" stroke-width="0.7" stroke-opacity="0.75"/>
<line x1="656.40" y1="216.50" x2="659.60" y2="216.50" stroke="#4cc3d6" stroke-width="0.7" stroke-opacity="0.75"/>
<line x1="656.40" y1="219.50" x2="659.60" y2="219.50" stroke="#4cc3d6" stroke-width="0.7" stroke-opacity="0.75"/>
<line x1="665.50" y1="212.74" x2="665.50" y2="216.24" stroke="#4cc3d6" stroke-width="0.7" stroke-opacity="0.75"/>
<line x1="664.20" y1="212.50" x2="667.40" y2="212.50" stroke="#4cc3d6" stroke-width="0.7" stroke-opacity="0.75"/>
<line x1="664.20" y1="216.50" x2="667.40" y2="216.50" stroke="#4cc3d6" stroke-width="0.7" stroke-opacity="0.75"/>
<line x1="673.50" y1="209.24" x2="673.50" y2="212.84" stroke="#4cc3d6" stroke-width="0.7" stroke-opacity="0.75"/>
<line x1="672.00" y1="209.50" x2="675.20" y2="209.50" stroke="#4cc3d6" stroke-width="0.7" stroke-opacity="0.75"/>
<line x1="672.00" y1="212.50" x2="675.20" y2="212.50" stroke="#4cc3d6" stroke-width="0.7" stroke-opacity="0.75"/>
<line x1="681.50" y1="205.74" x2="681.50" y2="209.44" stroke="#4cc3d6" stroke-width="0.7" stroke-opacity="0.75"/>
<line x1="679.80" y1="205.50" x2="683.00" y2="205.50" stroke="#4cc3d6" stroke-width="0.7" stroke-opacity="0.75"/>
<line x1="679.80" y1="209.50" x2="683.00" y2="209.50" stroke="#4cc3d6" stroke-width="0.7" stroke-opacity="0.75"/>
<polyline points="533.20,273.15 541.00,269.70 548.80,266.25 556.60,262.80 564.40,259.35 572.20,255.90 580.00,252.45 587.80,249.00 595.60,245.55 603.40,242.10 611.20,238.65 619.00,235.20 626.80,231.75 634.60,228.29 642.40,224.84 650.20,221.39 658.00,217.94 665.80,214.49 673.60,211.04 681.40,207.59" fill="none" stroke="#4cc3d6" stroke-width="0.8"/>
<polygon points="533.20,271.35 534.70,273.15 533.20,274.95 531.70,273.15" fill="#4cc3d6"/>
<polygon points="541.00,267.90 542.50,269.70 541.00,271.50 539.50,269.70" fill="#4cc3d6"/>
<polygon points="548.80,264.45 550.30,266.25 548.80,268.05 547.30,266.25" fill="#4cc3d6"/>
<polygon points="556.60,261.00 558.10,262.80 556.60,264.60 555.10,262.80" fill="#4cc3d6"/>
<polygon points="564.40,257.55 565.90,259.35 564.40,261.15 562.90,259.35" fill="#4cc3d6"/>
<polygon points="572.20,254.10 573.70,255.90 572.20,257.70 570.70,255.90" fill="#4cc3d6"/>
<polygon points="580.00,250.65 581.50,252.45 580.00,254.25 578.50,252.45" fill="#4cc3d6"/>
<polygon points="587.80,247.20 589.30,249.00 587.80,250.80 586.30,249.00" fill="#4cc3d6"/>
<polygon points="595.60,243.75 597.10,245.55 595.60,247.35 594.10,245.55" fill="#4cc3d6"/>
<polygon points="603.40,240.30 604.90,242.10 603.40,243.90 601.90,242.10" fill="#4cc3d6"/>
<polygon points="611.20,236.85 612.70,238.65 611.20,240.45 609.70,238.65" fill="#4cc3d6"/>
<polygon points="619.00,233.40 620.50,235.20 619.00,237.00 617.50,235.20" fill="#4cc3d6"/>
<polygon points="626.80,229.95 628.30,231.75 626.80,233.55 625.30,231.75" fill="#4cc3d6"/>
<polygon points="634.60,226.49 636.10,228.29 634.60,230.09 633.10,228.29" fill="#4cc3d6"/>
<polygon points="642.40,223.04 643.90,224.84 642.40,226.64 640.90,224.84" fill="#4cc3d6"/>
<polygon points="650.20,219.59 651.70,221.39 650.20,223.19 648.70,221.39" fill="#4cc3d6"/>
<polygon points="658.00,216.14 659.50,217.94 658.00,219.74 656.50,217.94" fill="#4cc3d6"/>
<polygon points="665.80,212.69 667.30,214.49 665.80,216.29 664.30,214.49" fill="#4cc3d6"/>
<polygon points="673.60,209.24 675.10,211.04 673.60,212.84 672.10,211.04" fill="#4cc3d6"/>
<polygon points="681.40,205.79 682.90,207.59 681.40,209.39 679.90,207.59" fill="#4cc3d6"/>
<line x1="533.50" y1="272.25" x2="533.50" y2="274.05" stroke="#222222" stroke-width="0.7" stroke-opacity="0.75"/>
<line x1="531.60" y1="272.50" x2="534.80" y2="272.50" stroke="#222222" stroke-width="0.7" stroke-opacity="0.75"/>
<line x1="531.60" y1="274.50" x2="534.80" y2="274.50" stroke="#222222" stroke-width="0.7" stroke-opacity="0.75"/>
<line x1="541.50" y1="268.34" x2="541.50" y2="270.24" stroke="#222222" stroke-width="0.7" stroke-opacity="0.75"/>
<line x1="539.40" y1="268.50" x2="542.60" y2="268.50" stroke="#222222" stroke-width="0.7" stroke-opacity="0.75"/>
<line x1="539.40" y1="270.50" x2="542.60" y2="270.50" stroke="#222222" stroke-width="0.7" stroke-opacity="0.75"/>
<line x1="548.50" y1="264.43" x2="548.50" y2="266.43" stroke="#222222" stroke-width="0.7" stroke-opacity="0.75"/>
<line x1="547.20" y1="264.50" x2="550.40" y2="264.50" stroke="#222222" stroke-width="0.7" stroke-opacity="0.75"/>
<line x1="547.20" y1="266.50" x2="550.40" y2="266.50" stroke="#222222" stroke-width="0.7" stroke-opacity="0.75"/>
<line x1="556.50" y1="260.51" x2="556.50" y2="262.61" stroke="#222222" stroke-width="0.7" stroke-opacity="0.75"/>
<line x1="555.00" y1="260.50" x2="558.20" y2="260.50" stroke="#222222" stroke-width="0.7" stroke-opacity="0.75"/>
<line x1="555.00" y1="262.50" x2="558.20" y2="262.50" stroke="#222222" stroke-width="0.7" stroke-opacity="0.75"/>
<line x1="564.50" y1="256.60" x2="564.50" y2="258.80" stroke="#222222" stroke-width="0.7" stroke-opacity="0.75"/>
<line x1="562.80" y1="256.50" x2="566.00" y2="256.50" stroke="#222222" stroke-width="0.7" stroke-opacity="0.75"/>
<line x1="562.80" y1="258.50" x2="566.00" y2="258.50" stroke="#222222" stroke-width="0.7" stroke-opacity="0.75"/>
<line x1="572.50" y1="252.69" x2="572.50" y2="254.99" stroke="#222222" stroke-width="0.7" stroke-opacity="0.75"/>
<line x1="570.60" y1="252.50" x2="573.80" y2="252.50" stroke="#222222" stroke-width="0.7" stroke-opacity="0.75"/>
<line x1="570.60" y1="254.50" x2="573.80" y2="254.50" stroke="#222222" stroke-width="0.7" stroke-opacity="0.75"/>
<line x1="580.50" y1="248.78" x2="580.50" y2="251.18" stroke="#222222" stroke-width="0.7" stroke-opacity="0.75"/>
<line x1="578.40" y1="248.50" x2="581.60" y2="248.50" stroke="#222222" stroke-width="0.7" stroke-opacity="0.75"/>
<line x1="578.40" y1="251.50" x2="581.60" y2="251.50" stroke="#222222" stroke-width="0.7" stroke-opacity="0.75"/>
<line x1="587.50" y1="244.86" x2="587.50" y2="247.36" stroke="#222222" stroke-width="0.7" stroke-opacity="0.75"/>
<line x1="586.20" y1="244.50" x2="589.40" y2="244.50" stroke="#222222" stroke-width="0.7" stroke-opacity="0.75"/>
<line x1="586.20" y1="247.50" x2="589.40" y2="247.50" stroke="#222222" stroke-width="0.7" stroke-opacity="0.75"/>
<line x1="595.50" y1="240.95" x2="595.50" y2="243.55" stroke="#222222" stroke-width="0.7" stroke-opacity="0.75"/>
<line x1="594.00" y1="240.50" x2="597.20" y2="240.50" stroke="#222222" stroke-width="0.7" stroke-opacity="0.75"/>
<line x1="594.00" y1="243.50" x2="597.20" y2="243.50" stroke="#222222" stroke-width="0.7" stroke-opacity="0.75"/>
<line x1="603.50" y1="237.04" x2="603.50" y2="239.74" stroke="#222222" stroke-width="0.7" stroke-opacity="0.75"/>
<line x1="601.80" y1="237.50" x2="605.00" y2="237.50" stroke="#222222" stroke-width="0.7" stroke-opacity="0.75"/>
<line x1="601.80" y1="239.50" x2="605.00" y2="239.50" stroke="#222222" stroke-width="0.7" stroke-opacity="0.75"/>
<line x1="611.50" y1="233.13" x2="611.50" y2="235.93" stroke="#222222" stroke-width="0.7" stroke-opacity="0.75"/>
<line x1="609.60" y1="233.50" x2="612.80" y2="233.50" stroke="#222222" stroke-width="0.7" stroke-opacity="0.75"/>
<line x1="609.60" y1="235.50" x2="612.80" y2="235.50" stroke="#222222" stroke-width="0.7" stroke-opacity="0.75"/>
<line x1="619.50" y1="229.21" x2="619.50" y2="232.11" stroke="#222222" stroke-width="0.7" stroke-opacity="0.75"/>
<line x1="617.40" y1="229.50" x2="620.60" y2="229.50" stroke="#222222" stroke-width="0.7" stroke-opacity="0.75"/>
<line x1="617.40" y1="232.50" x2="620.60" y2="232.50" stroke="#222222" stroke-width="0.7" stroke-opacity="0.75"/>
<line x1="626.50" y1="225.30" x2="626.50" y2="228.30" stroke="#222222" stroke-width="0.7" stroke-opacity="0.75"/>
<line x1="625.20" y1="225.50" x2="628.40" y2="225.50" stroke="#222222" stroke-width="0.7" stroke-opacity="0.75"/>
<line x1="625.20" y1="228.50" x2="628.40" y2="228.50" stroke="#222222" stroke-width="0.7" stroke-opacity="0.75"/>
<line x1="634.50" y1="221.39" x2="634.50" y2="224.49" stroke="#222222" stroke-width="0.7" stroke-opacity="0.75"/>
<line x1="633.00" y1="221.50" x2="636.20" y2="221.50" stroke="#222222" stroke-width="0.7" stroke-opacity="0.75"/>
<line x1="633.00" y1="224.50" x2="636.20" y2="224.50" stroke="#222222" stroke-width="0.7" stroke-opacity="0.75"/>
<line x1="642.50" y1="217.48" x2="642.50" y2="220.68" stroke="#222222" stroke-width="0.7" stroke-opacity="0.75"/>
<line x1="640.80" y1="217.50" x2="644.00" y2="217.50" stroke="#222222" stroke-width="0.7" stroke-opacity="0.75"/>
<line x1="640.80" y1="220.50" x2="644.00" y2="220.50" stroke="#222222" stroke-width="0.7" stroke-opacity="0.75"/>
<line x1="650.50" y1="213.56" x2="650.50" y2="216.86" stroke="#222222" stroke-width="0.7" stroke-opacity="0.75"/>
<line x1="648.60" y1="213.50" x2="651.80" y2="213.50" stroke="#222222" stroke-width="0.7" stroke-opacity="0.75"/>
<line x1="648.60" y1="216.50" x2="651.80" y2="216.50" stroke="#222222" stroke-width="0.7" stroke-opacity="0.75"/>
<line x1="658.50" y1="209.65" x2="658.50" y2="213.05" stroke="#222222" stroke-width="0.7" stroke-opacity="0.75"/>
<line x1="656.40" y1="209.50" x2="659.60" y2="209.50" stroke="#222222" stroke-width="0.7" stroke-opacity="0.75"/>
<line x1="656.40" y1="213.50" x2="659.60" y2="213.50" stroke="#222222" stroke-width="0.7" stroke-opacity="0.75"/>
<line x1="665.50" y1="205.74" x2="665.50" y2="209.24" stroke="#222222" stroke-width="0.7" stroke-opacity="0.75"/>
<line x1="664.20" y1="205.50" x2="667.40" y2="205.50" stroke="#222222" stroke-width="0.7" stroke-opacity="0.75"/>
<line x1="664.20" y1="209.50" x2="667.40" y2="209.50" stroke="#222222" stroke-width="0.7" stroke-opacity="0.75"/>
<line x1="673.50" y1="201.83" x2="673.50" y2="205.43" stroke="#222222" stroke-width="0.7" stroke-opacity="0.75"/>
<line x1="672.00" y1="201.50" x2="675.20" y2="201.50" stroke="#222222" stroke-width="0.7" stroke-opacity="0.75"/>
<line x1="672.00" y1="205.50" x2="675.20" y2="205.50" stroke="#222222" stroke-width="0.7" stroke-opacity="0.75"/>
<line x1="681.50" y1="197.91" x2="681.50" y2="201.61" stroke="#222222" stroke-width="0.7" stroke-opacity="0.75"/>
<line x1="679.80" y1="197.50" x2="683.00" y2="197.50" stroke="#222222" stroke-width="0.7" stroke-opacity="0.75"/>
<line x1="679.80" y1="201.50" x2="683.00" y2="201.50" stroke="#222222" stroke-width="0.7" stroke-opacity="0.75"/>
<polyline points="533.20,273.15 541.00,269.29 548.80,265.43 556.60,261.56 564.40,257.70 572.20,253.84 580.00,249.98 587.80,246.11 595.60,242.25 603.40,238.39 611.20,234.53 619.00,230.66 626.80,226.80 634.60,222.94 642.40,219.08 650.20,215.21 658.00,211.35 665.80,207.49 673.60,203.63 681.40,199.76" fill="none" stroke="#222222" stroke-width="0.8"/>
<circle cx="533.20" cy="273.15" r="1.50" fill="#222222"/>
<circle cx="541.00" cy="269.29" r="1.50" fill="#222222"/>
<circle cx="548.80" cy="265.43" r="1.50" fill="#222222"/>
<circle cx="556.60" cy="261.56" r="1.50" fill="#222222"/>
<circle cx="564.40" cy="257.70" r="1.50" fill="#222222"/>
<circle cx="572.20" cy="253.84" r="1.50" fill="#222222"/>
<circle cx="580.00" cy="249.98" r="1.50" fill="#222222"/>
<circle cx="587.80" cy="246.11" r="1.50" fill="#222222"/>
<circle cx="595.60" cy="242.25" r="1.50" fill="#222222"/>
<circle cx="603.40" cy="238.39" r="1.50" fill="#222222"/>
<circle cx="611.20" cy="234.53" r="1.50" fill="#222222"/>
<circle cx="619.00" cy="230.66" r="1.50" fill="#222222"/>
<circle cx="626.80" cy="226.80" r="1.50" fill="#222222"/>
<circle cx="634.60" cy="222.94" r="1.50" fill="#222222"/>
<circle cx="642.40" cy="219.08" r="1.50" fill="#222222"/>
<circle cx="650.20" cy="215.21" r="1.50" fill="#222222"/>
<circle cx="658.00" cy="211.35" r="1.50" fill="#222222"/>
<circle cx="665.80" cy="207.49" r="1.50" fill="#222222"/>
<circle cx="673.60" cy="203.63" r="1.50" fill="#222222"/>
<circle cx="681.40" cy="199.76" r="1.50" fill="#222222"/>
<line x1="533.50" y1="272.25" x2="533.50" y2="274.05" stroke="#3f5e22" stroke-width="0.7" stroke-opacity="0.75"/>
<line x1="531.60" y1="272.50" x2="534.80" y2="272.50" stroke="#3f5e22" stroke-width="0.7" stroke-opacity="0.75"/>
<line x1="531.60" y1="274.50" x2="534.80" y2="274.50" stroke="#3f5e22" stroke-width="0.7" stroke-opacity="0.75"/>
<line x1="541.50" y1="268.36" x2="541.50" y2="270.26" stroke="#3f5e22" stroke-width="0.7" stroke-opacity="0.75"/>
<line x1="539.40" y1="268.50" x2="542.60" y2="268.50" stroke="#3f5e22" stroke-width="0.7" stroke-opacity="0.75"/>
<line x1="539.40" y1="270.50" x2="542.60" y2="270.50" stroke="#3f5e22" stroke-width="0.7" stroke-opacity="0.75"/>
<line x1="548.50" y1="264.48" x2="548.50" y2="266.48" stroke="#3f5e22" stroke-width="0.7" stroke-opacity="0.75"/>
<line x1="547.20" y1="264.50" x2="550.40" y2="264.50" stroke="#3f5e22" stroke-width="0.7" stroke-opacity="0.75"/>
<line x1="547.20" y1="266.50" x2="550.40" y2="266.50" stroke="#3f5e22" stroke-width="0.7" stroke-opacity="0.75"/>
<line x1="556.50" y1="260.59" x2="556.50" y2="262.69" stroke="#3f5e22" stroke-width="0.7" stroke-opacity="0.75"/>
<line x1="555.00" y1="260.50" x2="558.20" y2="260.50" stroke="#3f5e22" stroke-width="0.7" stroke-opacity="0.75"/>
<line x1="555.00" y1="262.50" x2="558.20" y2="262.50" stroke="#3f5e22" stroke-width="0.7" stroke-opacity="0.75"/>
<line x1="564.50" y1="256.70" x2="564.50" y2="258.90" stroke="#3f5e22" stroke-width="0.7" stroke-opacity="0.75"/>
<line x1="562.80" y1="256.50" x2="566.00" y2="256.50" stroke="#3f5e22" stroke-width="0.7" stroke-opacity="0.75"/>
<line x1="562.80" y1="258.50" x2="566.00" y2="258.50" stroke="#3f5e22" stroke-width="0.7" stroke-opacity="0.75"/>
<line x1="572.50" y1="252.82" x2="572.50" y2="255.12" stroke="#3f5e22" stroke-width="0.7" stroke-opacity="0.75"/>
<line x1="570.60" y1="252.50" x2="573.80" y2="252.50" stroke="#3f5e22" stroke-width="0.7" stroke-opacity="0.75"/>
<line x1="570.60" y1="255.50" x2="573.80" y2="255.50" stroke="#3f5e22" stroke-width="0.7" stroke-opacity="0.75"/>
<line x1="580.50" y1="248.93" x2="580.50" y2="251.33" stroke="#3f5e22" stroke-width="0.7" stroke-opacity="0.75"/>
<line x1="578.40" y1="248.50" x2="581.60" y2="248.50" stroke="#3f5e22" stroke-width="0.7" stroke-opacity="0.75"/>
<line x1="578.40" y1="251.50" x2="581.60" y2="251.50" stroke="#3f5e22" stroke-width="0.7" stroke-opacity="0.75"/>
<line x1="587.50" y1="245.04" x2="587.50" y2="247.54" stroke="#3f5e22" stroke-width="0.7" stroke-opacity="0.75"/>
<line x1="586.20" y1="245.50" x2="589.40" y2="245.50" stroke="#3f5e22" stroke-width="0.7" stroke-opacity="0.75"/>
<line x1="586.20" y1="247.50" x2="589.40" y2="247.50" stroke="#3f5e22" stroke-width="0.7" stroke-opacity="0.75"/>
<line x1="595.50" y1="241.16" x2="595.50" y2="243.76" stroke="#3f5e22" stroke-width="0.7" stroke-opacity="0.75"/>
<line x1="594.00" y1="241.50" x2="597.20" y2="241.50" stroke="#3f5e22" stroke-width="0.7" stroke-opacity="0.75"/>
<line x1="594.00" y1="243.50" x2="597.20" y2="243.50" stroke="#3f5e22" stroke-width="0.7" stroke-opacity="0.75"/>
<line x1="603.50" y1="237.27" x2="603.50" y2="239.97" stroke="#3f5e22" stroke-width="0.7" stroke-opacity="0.75"/>
<line x1="601.80" y1="237.50" x2="605.00" y2="237.50" stroke="#3f5e22" stroke-width="0.7" stroke-opacity="0.75"/>
<line x1="601.80" y1="239.50" x2="605.00" y2="239.50" stroke="#3f5e22" stroke-width="0.7" stroke-opacity="0.75"/>
<line x1="611.50" y1="233.38" x2="611.50" y2="236.18" stroke="#3f5e22" stroke-width="0.7" stroke-opacity="0.75"/>
<line x1="609.60" y1="233.50" x2="612.80" y2="233.50" stroke="#3f5e22" stroke-width="0.7" stroke-opacity="0.75"/>
<line x1="609.60" y1="236.50" x2="612.80" y2="236.50" stroke="#3f5e22" stroke-width="0.7" stroke-opacity="0.75"/>
<line x1="619.50" y1="229.50" x2="619.50" y2="232.40" stroke="#3f5e22" stroke-width="0.7" stroke-opacity="0.75"/>
<line x1="617.40" y1="229.50" x2="620.60" y2="229.50" stroke="#3f5e22" stroke-width="0.7" stroke-opacity="0.75"/>
<line x1="617.40" y1="232.50" x2="620.60" y2="232.50" stroke="#3f5e22" stroke-width="0.7" stroke-opacity="0.75"/>
<line x1="626.50" y1="225.61" x2="626.50" y2="228.61" stroke="#3f5e22" stroke-width="0.7" stroke-opacity="0.75"/>
<line x1="625.20" y1="225.50" x2="628.40" y2="225.50" stroke="#3f5e22" stroke-width="0.7" stroke-opacity="0.75"/>
<line x1="625.20" y1="228.50" x2="628.40" y2="228.50" stroke="#3f5e22" stroke-width="0.7" stroke-opacity="0.75"/>
<line x1="634.50" y1="221.72" x2="634.50" y2="224.82" stroke="#3f5e22" stroke-width="0.7" stroke-opacity="0.75"/>
<line x1="633.00" y1="221.50" x2="636.20" y2="221.50" stroke="#3f5e22" stroke-width="0.7" stroke-opacity="0.75"/>
<line x1="633.00" y1="224.50" x2="636.20" y2="224.50" stroke="#3f5e22" stroke-width="0.7" stroke-opacity="0.75"/>
<line x1="642.50" y1="217.84" x2="642.50" y2="221.04" stroke="#3f5e22" stroke-width="0.7" stroke-opacity="0.75"/>
<line x1="640.80" y1="217.50" x2="644.00" y2="217.50" stroke="#3f5e22" stroke-width="0.7" stroke-opacity="0.75"/>
<line x1="640.80" y1="221.50" x2="644.00" y2="221.50" stroke="#3f5e22" stroke-width="0.7" stroke-opacity="0.75"/>
<line x1="650.50" y1="213.95" x2="650.50" y2="217.25" stroke="#3f5e22" stroke-width="0.7" stroke-opacity="0.75"/>
<line x1="648.60" y1="213.50" x2="651.80" y2="213.50" stroke="#3f5e22" stroke-width="0.7" stroke-opacity="0.75"/>
<line x1="648.60" y1="217.50" x2="651.80" y2="217.50" stroke="#3f5e22" stroke-width="0.7" stroke-opacity="0.75"/>
<line x1="658.50" y1="210.06" x2="658.50" y2="213.46" stroke="#3f5e22" stroke-width="0.7" stroke-opacity="0.75"/>
<line x1="656.40" y1="210.50" x2="659.60" y2="210.50" stroke="#3f5e22" stroke-width="0.7" stroke-opacity="0.75"/>
<line x1="656.40" y1="213.50" x2="659.60" y2="213.50" stroke="#3f5e22" stroke-width="0.7" stroke-opacity="0.75"/>
<line x1="665.50" y1="206.18" x2="665.50" y2="209.68" stroke="#3f5e22" stroke-width="0.7" stroke-opacity="0.75"/>
<line x1="664.20" y1="206.50" x2="667.40" y2="206.50" stroke="#3f5e22" stroke-width="0.7" stroke-opacity="0.75"/>
<line x1="664.20" y1="209.50" x2="667.40" y2="209.50" stroke="#3f5e22" stroke-width="0.7" stroke-opacity="0.75"/>
<line x1="673.50" y1="202.29" x2="673.50" y2="205.89" stroke="#3f5e22" stroke-width="0.7" stroke-opacity="0.75"/>
<line x1="672.00" y1="202.50" x2="675.20" y2="202.50" stroke="#3f5e22" stroke-width="0.7" stroke-opacity="0.75"/>
<line x1="672.00" y1="205.50" x2="675.20" y2="205.50" stroke="#3f5e22" stroke-width="0.7" stroke-opacity="0.75"/>
<line x1="681.50" y1="198.40" x2="681.50" y2="202.10" stroke="#3f5e22" stroke-width="0.7" stroke-opacity="0.75"/>
<line x1="679.80" y1="198.50" x2="683.00" y2="198.50" stroke="#3f5e22" stroke-width="0.7" stroke-opacity="0.75"/>
<line x1="679.80" y1="202.50" x2="683.00" y2="202.50" stroke="#3f5e22" stroke-width="0.7" stroke-opacity="0.75"/>
<polyline points="533.20,273.15 541.00,269.31 548.80,265.48 556.60,261.64 564.40,257.80 572.20,253.97 580.00,250.13 587.80,246.29 595.60,242.46 603.40,238.62 611.20,234.78 619.00,230.95 626.80,227.11 634.60,223.27 642.40,219.44 650.20,215.60 658.00,211.76 665.80,207.93 673.60,204.09 681.40,200.25" fill="none" stroke="#3f5e22" stroke-width="0.8"/>
<polygon points="531.47,271.95 534.92,271.95 533.20,274.80" fill="#3f5e22"/>
<polygon points="539.27,268.11 542.73,268.11 541.00,270.96" fill="#3f5e22"/>
<polygon points="547.07,264.28 550.52,264.28 548.80,267.13" fill="#3f5e22"/>
<polygon points="554.88,260.44 558.33,260.44 556.60,263.29" fill="#3f5e22"/>
<polygon points="562.67,256.60 566.12,256.60 564.40,259.45" fill="#3f5e22"/>
<polygon points="570.47,252.77 573.92,252.77 572.20,255.62" fill="#3f5e22"/>
<polygon points="578.27,248.93 581.73,248.93 580.00,251.78" fill="#3f5e22"/>
<polygon points="586.07,245.09 589.52,245.09 587.80,247.94" fill="#3f5e22"/>
<polygon points="593.88,241.26 597.33,241.26 595.60,244.11" fill="#3f5e22"/>
<polygon points="601.67,237.42 605.12,237.42 603.40,240.27" fill="#3f5e22"/>
<polygon points="609.47,233.58 612.92,233.58 611.20,236.43" fill="#3f5e22"/>
<polygon points="617.27,229.75 620.73,229.75 619.00,232.60" fill="#3f5e22"/>
<polygon points="625.07,225.91 628.52,225.91 626.80,228.76" fill="#3f5e22"/>
<polygon points="632.88,222.07 636.33,222.07 634.60,224.92" fill="#3f5e22"/>
<polygon points="640.67,218.24 644.12,218.24 642.40,221.09" fill="#3f5e22"/>
<polygon points="648.47,214.40 651.92,214.40 650.20,217.25" fill="#3f5e22"/>
<polygon points="656.27,210.56 659.73,210.56 658.00,213.41" fill="#3f5e22"/>
<polygon points="664.07,206.73 667.52,206.73 665.80,209.58" fill="#3f5e22"/>
<polygon points="671.87,202.89 675.32,202.89 673.60,205.74" fill="#3f5e22"/>
<polygon points="679.67,199.05 683.12,199.05 681.40,201.90" fill="#3f5e22"/>
<line x1="533.50" y1="272.25" x2="533.50" y2="274.05" stroke="#4f7d2a" stroke-width="0.7" stroke-opacity="0.75"/>
<line x1="531.60" y1="272.50" x2="534.80" y2="272.50" stroke="#4f7d2a" stroke-width="0.7" stroke-opacity="0.75"/>
<line x1="531.60" y1="274.50" x2="534.80" y2="274.50" stroke="#4f7d2a" stroke-width="0.7" stroke-opacity="0.75"/>
<line x1="541.50" y1="268.35" x2="541.50" y2="270.25" stroke="#4f7d2a" stroke-width="0.7" stroke-opacity="0.75"/>
<line x1="539.40" y1="268.50" x2="542.60" y2="268.50" stroke="#4f7d2a" stroke-width="0.7" stroke-opacity="0.75"/>
<line x1="539.40" y1="270.50" x2="542.60" y2="270.50" stroke="#4f7d2a" stroke-width="0.7" stroke-opacity="0.75"/>
<line x1="548.50" y1="264.45" x2="548.50" y2="266.45" stroke="#4f7d2a" stroke-width="0.7" stroke-opacity="0.75"/>
<line x1="547.20" y1="264.50" x2="550.40" y2="264.50" stroke="#4f7d2a" stroke-width="0.7" stroke-opacity="0.75"/>
<line x1="547.20" y1="266.50" x2="550.40" y2="266.50" stroke="#4f7d2a" stroke-width="0.7" stroke-opacity="0.75"/>
<line x1="556.50" y1="260.55" x2="556.50" y2="262.65" stroke="#4f7d2a" stroke-width="0.7" stroke-opacity="0.75"/>
<line x1="555.00" y1="260.50" x2="558.20" y2="260.50" stroke="#4f7d2a" stroke-width="0.7" stroke-opacity="0.75"/>
<line x1="555.00" y1="262.50" x2="558.20" y2="262.50" stroke="#4f7d2a" stroke-width="0.7" stroke-opacity="0.75"/>
<line x1="564.50" y1="256.65" x2="564.50" y2="258.85" stroke="#4f7d2a" stroke-width="0.7" stroke-opacity="0.75"/>
<line x1="562.80" y1="256.50" x2="566.00" y2="256.50" stroke="#4f7d2a" stroke-width="0.7" stroke-opacity="0.75"/>
<line x1="562.80" y1="258.50" x2="566.00" y2="258.50" stroke="#4f7d2a" stroke-width="0.7" stroke-opacity="0.75"/>
<line x1="572.50" y1="252.75" x2="572.50" y2="255.05" stroke="#4f7d2a" stroke-width="0.7" stroke-opacity="0.75"/>
<line x1="570.60" y1="252.50" x2="573.80" y2="252.50" stroke="#4f7d2a" stroke-width="0.7" stroke-opacity="0.75"/>
<line x1="570.60" y1="255.50" x2="573.80" y2="255.50" stroke="#4f7d2a" stroke-width="0.7" stroke-opacity="0.75"/>
<line x1="580.50" y1="248.85" x2="580.50" y2="251.25" stroke="#4f7d2a" stroke-width="0.7" stroke-opacity="0.75"/>
<line x1="578.40" y1="248.50" x2="581.60" y2="248.50" stroke="#4f7d2a" stroke-width="0.7" stroke-opacity="0.75"/>
<line x1="578.40" y1="251.50" x2="581.60" y2="251.50" stroke="#4f7d2a" stroke-width="0.7" stroke-opacity="0.75"/>
<line x1="587.50" y1="244.95" x2="587.50" y2="247.45" stroke="#4f7d2a" stroke-width="0.7" stroke-opacity="0.75"/>
<line x1="586.20" y1="244.50" x2="589.40" y2="244.50" stroke="#4f7d2a" stroke-width="0.7" stroke-opacity="0.75"/>
<line x1="586.20" y1="247.50" x2="589.40" y2="247.50" stroke="#4f7d2a" stroke-width="0.7" stroke-opacity="0.75"/>
<line x1="595.50" y1="241.05" x2="595.50" y2="243.65" stroke="#4f7d2a" stroke-width="0.7" stroke-opacity="0.75"/>
<line x1="594.00" y1="241.50" x2="597.20" y2="241.50" stroke="#4f7d2a" stroke-width="0.7" stroke-opacity="0.75"/>
<line x1="594.00" y1="243.50" x2="597.20" y2="243.50" stroke="#4f7d2a" stroke-width="0.7" stroke-opacity="0.75"/>
<line x1="603.50" y1="237.15" x2="603.50" y2="239.85" stroke="#4f7d2a" stroke-width="0.7" stroke-opacity="0.75"/>
<line x1="601.80" y1="237.50" x2="605.00" y2="237.50" stroke="#4f7d2a" stroke-width="0.7" stroke-opacity="0.75"/>
<line x1="601.80" y1="239.50" x2="605.00" y2="239.50" stroke="#4f7d2a" stroke-width="0.7" stroke-opacity="0.75"/>
<line x1="611.50" y1="233.25" x2="611.50" y2="236.05" stroke="#4f7d2a" stroke-width="0.7" stroke-opacity="0.75"/>
<line x1="609.60" y1="233.50" x2="612.80" y2="233.50" stroke="#4f7d2a" stroke-width="0.7" stroke-opacity="0.75"/>
<line x1="609.60" y1="236.50" x2="612.80" y2="236.50" stroke="#4f7d2a" stroke-width="0.7" stroke-opacity="0.75"/>
<line x1="619.50" y1="229.36" x2="619.50" y2="232.26" stroke="#4f7d2a" stroke-width="0.7" stroke-opacity="0.75"/>
<line x1="617.40" y1="229.50" x2="620.60" y2="229.50" stroke="#4f7d2a" stroke-width="0.7" stroke-opacity="0.75"/>
<line x1="617.40" y1="232.50" x2="620.60" y2="232.50" stroke="#4f7d2a" stroke-width="0.7" stroke-opacity="0.75"/>
<line x1="626.50" y1="225.46" x2="626.50" y2="228.46" stroke="#4f7d2a" stroke-width="0.7" stroke-opacity="0.75"/>
<line x1="625.20" y1="225.50" x2="628.40" y2="225.50" stroke="#4f7d2a" stroke-width="0.7" stroke-opacity="0.75"/>
<line x1="625.20" y1="228.50" x2="628.40" y2="228.50" stroke="#4f7d2a" stroke-width="0.7" stroke-opacity="0.75"/>
<line x1="634.50" y1="221.56" x2="634.50" y2="224.66" stroke="#4f7d2a" stroke-width="0.7" stroke-opacity="0.75"/>
<line x1="633.00" y1="221.50" x2="636.20" y2="221.50" stroke="#4f7d2a" stroke-width="0.7" stroke-opacity="0.75"/>
<line x1="633.00" y1="224.50" x2="636.20" y2="224.50" stroke="#4f7d2a" stroke-width="0.7" stroke-opacity="0.75"/>
<line x1="642.50" y1="217.66" x2="642.50" y2="220.86" stroke="#4f7d2a" stroke-width="0.7" stroke-opacity="0.75"/>
<line x1="640.80" y1="217.50" x2="644.00" y2="217.50" stroke="#4f7d2a" stroke-width="0.7" stroke-opacity="0.75"/>
<line x1="640.80" y1="220.50" x2="644.00" y2="220.50" stroke="#4f7d2a" stroke-width="0.7" stroke-opacity="0.75"/>
<line x1="650.50" y1="213.76" x2="650.50" y2="217.06" stroke="#4f7d2a" stroke-width="0.7" stroke-opacity="0.75"/>
<line x1="648.60" y1="213.50" x2="651.80" y2="213.50" stroke="#4f7d2a" stroke-width="0.7" stroke-opacity="0.75"/>
<line x1="648.60" y1="217.50" x2="651.80" y2="217.50" stroke="#4f7d2a" stroke-width="0.7" stroke-opacity="0.75"/>
<line x1="658.50" y1="209.86" x2="658.50" y2="213.26" stroke="#4f7d2a" stroke-width="0.7" stroke-opacity="0.75"/>
<line x1="656.40" y1="209.50" x2="659.60" y2="209.50" stroke="#4f7d2a" stroke-width="0.7" stroke-opacity="0.75"/>
<line x1="656.40" y1="213.50" x2="659.60" y2="213.50" stroke="#4f7d2a" stroke-width="0.7" stroke-opacity="0.75"/>
<line x1="665.50" y1="205.96" x2="665.50" y2="209.46" stroke="#4f7d2a" stroke-width="0.7" stroke-opacity="0.75"/>
<line x1="664.20" y1="205.50" x2="667.40" y2="205.50" stroke="#4f7d2a" stroke-width="0.7" stroke-opacity="0.75"/>
<line x1="664.20" y1="209.50" x2="667.40" y2="209.50" stroke="#4f7d2a" stroke-width="0.7" stroke-opacity="0.75"/>
<line x1="673.50" y1="202.06" x2="673.50" y2="205.66" stroke="#4f7d2a" stroke-width="0.7" stroke-opacity="0.75"/>
<line x1="672.00" y1="202.50" x2="675.20" y2="202.50" stroke="#4f7d2a" stroke-width="0.7" stroke-opacity="0.75"/>
<line x1="672.00" y1="205.50" x2="675.20" y2="205.50" stroke="#4f7d2a" stroke-width="0.7" stroke-opacity="0.75"/>
<line x1="681.50" y1="198.16" x2="681.50" y2="201.86" stroke="#4f7d2a" stroke-width="0.7" stroke-opacity="0.75"/>
<line x1="679.80" y1="198.50" x2="683.00" y2="198.50" stroke="#4f7d2a" stroke-width="0.7" stroke-opacity="0.75"/>
<line x1="679.80" y1="201.50" x2="683.00" y2="201.50" stroke="#4f7d2a" stroke-width="0.7" stroke-opacity="0.75"/>
<polyline points="533.20,273.15 541.00,269.30 548.80,265.45 556.60,261.60 564.40,257.75 572.20,253.90 580.00,250.05 587.80,246.20 595.60,242.35 603.40,238.50 611.20,234.65 619.00,230.81 626.80,226.96 634.60,223.11 642.40,219.26 650.20,215.41 658.00,211.56 665.80,207.71 673.60,203.86 681.40,200.01" fill="none" stroke="#4f7d2a" stroke-width="0.8"/>
<circle cx="533.20" cy="273.15" r="1.50" fill="#4f7d2a"/>
<circle cx="541.00" cy="269.30" r="1.50" fill="#4f7d2a"/>
<circle cx="548.80" cy="265.45" r="1.50" fill="#4f7d2a"/>
<circle cx="556.60" cy="261.60" r="1.50" fill="#4f7d2a"/>
<circle cx="564.40" cy="257.75" r="1.50" fill="#4f7d2a"/>
<circle cx="572.20" cy="253.90" r="1.50" fill="#4f7d2a"/>
<circle cx="580.00" cy="250.05" r="1.50" fill="#4f7d2a"/>
<circle cx="587.80" cy="246.20" r="1.50" fill="#4f7d2a"/>
<circle cx="595.60" cy="242.35" r="1.50" fill="#4f7d2a"/>
<circle cx="603.40" cy="238.50" r="1.50" fill="#4f7d2a"/>
<circle cx="611.20" cy="234.65" r="1.50" fill="#4f7d2a"/>
<circle cx="619.00" cy="230.81" r="1.50" fill="#4f7d2a"/>
<circle cx="626.80" cy="226.96" r="1.50" fill="#4f7d2a"/>
<circle cx="634.60" cy="223.11" r="1.50" fill="#4f7d2a"/>
<circle cx="642.40" cy="219.26" r="1.50" fill="#4f7d2a"/>
<circle cx="650.20" cy="215.41" r="1.50" fill="#4f7d2a"/>
<circle cx="658.00" cy="211.56" r="1.50" fill="#4f7d2a"/>
<circle cx="665.80" cy="207.71" r="1.50" fill="#4f7d2a"/>
<circle cx="673.60" cy="203.86" r="1.50" fill="#4f7d2a"/>
<circle cx="681.40" cy="200.01" r="1.50" fill="#4f7d2a"/>
<rect x="540.00" y="271.40" width="2" height="1.6" fill="#3b7fd4" opacity="0.8"/>
<rect x="540.00" y="274.40" width="2" height="1.6" fill="#3b7fd4" opacity="0.8"/>
<polygon points="586.60,272.60 587.13,273.87 588.50,273.98 587.46,274.88 587.78,276.22 586.60,275.50 585.42,276.22 585.74,274.88 584.70,273.98 586.07,273.87" fill="#3b7fd4"/>
<line x1="590.30" y1="274.70" x2="681.00" y2="274.70" stroke="#3b7fd4" stroke-width="2"/>
<polygon points="617.80,269.70 618.33,270.97 619.70,271.08 618.66,271.98 618.98,273.32 617.80,272.60 616.62,273.32 616.94,271.98 615.90,271.08 617.27,270.97" fill="#3b7fd4"/>
<line x1="621.30" y1="272.00" x2="681.00" y2="272.00" stroke="#3b7fd4" stroke-width="1.6"/>
<line x1="0.00" y1="387.50" x2="13.00" y2="387.50" stroke="#6a9a3a" stroke-width="1"/>
<rect x="4.50" y="385.30" width="4.20" height="4.20" fill="#4f7d2a"/>
<text x="18.00" y="390.00" font-size="7.4">Central IgG1</text>
<text x="18.00" y="398.60" font-size="7.4">(15 µg per µl per mouse)</text>
<line x1="0.00" y1="408.50" x2="13.00" y2="408.50" stroke="#4a88d8" stroke-width="1"/>
<circle cx="6.60" cy="408.40" r="2.10" fill="#3b7fd4"/>
<text x="18.00" y="411.00" font-size="7.4">Central mGIPR-Ab</text>
<text x="18.00" y="419.60" font-size="7.4">(15 µg per µl per mouse)</text>
<line x1="0.00" y1="429.50" x2="13.00" y2="429.50" stroke="#b0b0b0" stroke-width="1"/>
<polygon points="4.18,427.92 9.02,427.92 6.60,431.91" fill="#a3a3a3"/>
<text x="18.00" y="432.20" font-size="7.4">Systemic IgG1 (5 mg kg<tspan dy="-3" font-size="5">−1</tspan><tspan dy="3">)</tspan></text>
<line x1="0.00" y1="443.50" x2="13.00" y2="443.50" stroke="#c03030" stroke-width="1"/>
<polygon points="4.18,444.68 9.02,444.68 6.60,440.69" fill="#b3151b"/>
<text x="18.00" y="445.60" font-size="7.4">Systemic mGIPR-Ab (5 mg kg<tspan dy="-3" font-size="5">−1</tspan><tspan dy="3">)</tspan></text>
<text x="154.00" y="342.20" font-size="12.5" fill="#111" font-weight="bold" stroke="#111" stroke-width="0.4">e</text>
<text x="180.00" y="345.60" font-size="9.0" textLength="92.00" lengthAdjust="spacingAndGlyphs">Change in body weight</text>
<line x1="180.50" y1="366.00" x2="180.50" y2="457.00" stroke="#8a8a8a" stroke-width="1"/>
<line x1="177.00" y1="366.50" x2="180.00" y2="366.50" stroke="#8a8a8a" stroke-width="1"/>
<text x="175.50" y="368.50" font-size="7" text-anchor="end">5</text>
<line x1="177.00" y1="384.50" x2="180.00" y2="384.50" stroke="#8a8a8a" stroke-width="1"/>
<text x="175.50" y="386.70" font-size="7" text-anchor="end">0</text>
<line x1="177.00" y1="402.50" x2="180.00" y2="402.50" stroke="#8a8a8a" stroke-width="1"/>
<text x="175.50" y="404.90" font-size="7" text-anchor="end">−5</text>
<line x1="177.00" y1="420.50" x2="180.00" y2="420.50" stroke="#8a8a8a" stroke-width="1"/>
<text x="175.50" y="423.10" font-size="7" text-anchor="end">−10</text>
<line x1="177.00" y1="438.50" x2="180.00" y2="438.50" stroke="#8a8a8a" stroke-width="1"/>
<text x="175.50" y="441.30" font-size="7" text-anchor="end">−15</text>
<line x1="177.00" y1="457.50" x2="180.00" y2="457.50" stroke="#8a8a8a" stroke-width="1"/>
<text x="175.50" y="459.50" font-size="7" text-anchor="end">−20</text>
<line x1="180.00" y1="457.50" x2="271.50" y2="457.50" stroke="#8a8a8a" stroke-width="1"/>
<text x="152.50" y="411.30" font-size="9" text-anchor="middle" textLength="106.00" lengthAdjust="spacingAndGlyphs" transform="rotate(-90 152.50 411.30)">Change in body weight (%)</text>
<rect x="188.40" y="384.20" width="12" height="4.73" fill="#a8c090" stroke="#333" stroke-width="1.1"/>
<rect x="209.20" y="384.20" width="12" height="13.47" fill="#bcd0ee" stroke="#333" stroke-width="1.1"/>
<rect x="230.40" y="381.29" width="12" height="2.91" fill="#d6d6d6" stroke="#333" stroke-width="1.1"/>
<rect x="251.60" y="384.20" width="12" height="5.46" fill="#e8b8b0" stroke="#333" stroke-width="1.1"/>
<rect x="192.60" y="382.40" width="3.60" height="3.60" fill="#4f7d2a"/>
<rect x="197.82" y="383.49" width="3.60" height="3.60" fill="#4f7d2a"/>
<rect x="189.99" y="384.22" width="3.60" height="3.60" fill="#4f7d2a"/>
<rect x="195.21" y="384.95" width="3.60" height="3.60" fill="#4f7d2a"/>
<rect x="199.10" y="385.31" width="3.60" height="3.60" fill="#4f7d2a"/>
<rect x="199.10" y="386.04" width="3.60" height="3.60" fill="#4f7d2a"/>
<rect x="192.60" y="386.40" width="3.60" height="3.60" fill="#4f7d2a"/>
<rect x="199.10" y="386.77" width="3.60" height="3.60" fill="#4f7d2a"/>
<rect x="199.10" y="387.13" width="3.60" height="3.60" fill="#4f7d2a"/>
<rect x="195.21" y="387.86" width="3.60" height="3.60" fill="#4f7d2a"/>
<rect x="189.99" y="388.22" width="3.60" height="3.60" fill="#4f7d2a"/>
<rect x="199.10" y="388.95" width="3.60" height="3.60" fill="#4f7d2a"/>
<rect x="192.60" y="389.68" width="3.60" height="3.60" fill="#4f7d2a"/>
<rect x="187.38" y="390.41" width="3.60" height="3.60" fill="#4f7d2a"/>
<rect x="195.21" y="391.50" width="3.60" height="3.60" fill="#4f7d2a"/>
<rect x="187.38" y="385.68" width="3.60" height="3.60" fill="#4f7d2a"/>
<rect x="199.10" y="387.50" width="3.60" height="3.60" fill="#4f7d2a"/>
<circle cx="215.20" cy="384.20" r="1.80" fill="#3b7fd4"/>
<circle cx="215.20" cy="387.11" r="1.80" fill="#3b7fd4"/>
<circle cx="215.20" cy="390.02" r="1.80" fill="#3b7fd4"/>
<circle cx="215.20" cy="392.94" r="1.80" fill="#3b7fd4"/>
<circle cx="217.81" cy="395.12" r="1.80" fill="#3b7fd4"/>
<circle cx="215.20" cy="396.94" r="1.80" fill="#3b7fd4"/>
<circle cx="217.81" cy="398.76" r="1.80" fill="#3b7fd4"/>
<circle cx="212.59" cy="399.85" r="1.80" fill="#3b7fd4"/>
<circle cx="220.42" cy="400.94" r="1.80" fill="#3b7fd4"/>
<circle cx="215.20" cy="401.67" r="1.80" fill="#3b7fd4"/>
<circle cx="209.98" cy="402.04" r="1.80" fill="#3b7fd4"/>
<circle cx="221.70" cy="402.40" r="1.80" fill="#3b7fd4"/>
<circle cx="221.70" cy="402.76" r="1.80" fill="#3b7fd4"/>
<circle cx="217.81" cy="403.13" r="1.80" fill="#3b7fd4"/>
<circle cx="212.59" cy="403.49" r="1.80" fill="#3b7fd4"/>
<circle cx="221.70" cy="404.22" r="1.80" fill="#3b7fd4"/>
<circle cx="221.70" cy="402.04" r="1.80" fill="#3b7fd4"/>
<circle cx="221.70" cy="403.13" r="1.80" fill="#3b7fd4"/>
<polygon points="234.33,373.66 238.47,373.66 236.40,377.08" fill="#a3a3a3"/>
<polygon points="236.94,375.12 241.08,375.12 239.01,378.54" fill="#a3a3a3"/>
<polygon points="234.33,376.57 238.47,376.57 236.40,379.99" fill="#a3a3a3"/>
<polygon points="236.94,378.03 241.08,378.03 239.01,381.45" fill="#a3a3a3"/>
<polygon points="231.72,379.12 235.86,379.12 233.79,382.54" fill="#a3a3a3"/>
<polygon points="240.83,379.85 244.97,379.85 242.90,383.27" fill="#a3a3a3"/>
<polygon points="234.33,380.58 238.47,380.58 236.40,384.00" fill="#a3a3a3"/>
<polygon points="240.83,381.30 244.97,381.30 242.90,384.72" fill="#a3a3a3"/>
<polygon points="240.83,381.67 244.97,381.67 242.90,385.09" fill="#a3a3a3"/>
<polygon points="236.94,382.03 241.08,382.03 239.01,385.45" fill="#a3a3a3"/>
<polygon points="231.72,382.40 235.86,382.40 233.79,385.82" fill="#a3a3a3"/>
<polygon points="240.83,382.76 244.97,382.76 242.90,386.18" fill="#a3a3a3"/>
<polygon points="229.11,380.94 233.25,380.94 231.18,384.36" fill="#a3a3a3"/>
<polygon points="239.55,379.48 243.69,379.48 241.62,382.90" fill="#a3a3a3"/>
<polygon points="255.53,385.64 259.67,385.64 257.60,382.22" fill="#b3151b"/>
<polygon points="258.14,387.82 262.28,387.82 260.21,384.40" fill="#b3151b"/>
<polygon points="252.92,388.92 257.06,388.92 254.99,385.50" fill="#b3151b"/>
<polygon points="262.03,390.01 266.17,390.01 264.10,386.59" fill="#b3151b"/>
<polygon points="255.53,390.74 259.67,390.74 257.60,387.32" fill="#b3151b"/>
<polygon points="250.31,391.46 254.45,391.46 252.38,388.04" fill="#b3151b"/>
<polygon points="258.14,392.19 262.28,392.19 260.21,388.77" fill="#b3151b"/>
<polygon points="252.92,392.92 257.06,392.92 254.99,389.50" fill="#b3151b"/>
<polygon points="262.03,393.28 266.17,393.28 264.10,389.86" fill="#b3151b"/>
<polygon points="262.03,393.65 266.17,393.65 264.10,390.23" fill="#b3151b"/>
<polygon points="262.03,394.01 266.17,394.01 264.10,390.59" fill="#b3151b"/>
<polygon points="260.75,389.28 264.89,389.28 262.82,385.86" fill="#b3151b"/>
<polygon points="262.03,391.83 266.17,391.83 264.10,388.41" fill="#b3151b"/>
<polygon points="262.03,392.92 266.17,392.92 264.10,389.50" fill="#b3151b"/>
<polygon points="255.53,394.38 259.67,394.38 257.60,390.96" fill="#b3151b"/>
<line x1="180.00" y1="384.50" x2="271.50" y2="384.50" stroke="#222" stroke-width="1.2"/>
<line x1="192.00" y1="362.50" x2="214.60" y2="362.50" stroke="#777" stroke-width="0.8"/>
<line x1="192.50" y1="362.60" x2="192.50" y2="381.00" stroke="#777" stroke-width="0.8"/>
<line x1="214.50" y1="362.60" x2="214.50" y2="383.00" stroke="#777" stroke-width="0.8"/>
<line x1="233.60" y1="362.50" x2="256.00" y2="362.50" stroke="#777" stroke-width="0.8"/>
<line x1="233.50" y1="362.60" x2="233.50" y2="370.00" stroke="#777" stroke-width="0.8"/>
<line x1="256.50" y1="362.60" x2="256.50" y2="384.00" stroke="#777" stroke-width="0.8"/>
<text x="203.60" y="358.70" font-size="6" text-anchor="middle" textLength="28.40" lengthAdjust="spacingAndGlyphs"><tspan font-style="italic">P</tspan> &lt; 0.0001</text>
<text x="244.60" y="358.70" font-size="6" text-anchor="middle" textLength="28.40" lengthAdjust="spacingAndGlyphs"><tspan font-style="italic">P</tspan> &lt; 0.0001</text>
<text x="311.00" y="341.60" font-size="12.5" fill="#111" font-weight="bold" stroke="#111" stroke-width="0.4">f</text>
<text x="378.00" y="344.40" font-size="9" textLength="49.50" lengthAdjust="spacingAndGlyphs">Body weight</text>
<text x="301.20" y="406.50" font-size="9" text-anchor="middle" textLength="63.80" lengthAdjust="spacingAndGlyphs" transform="rotate(-90 301.20 406.50)">Body weight (g)</text>
<line x1="328.50" y1="356.60" x2="328.50" y2="455.00" stroke="#8a8a8a" stroke-width="1"/>
<line x1="324.50" y1="356.50" x2="328.00" y2="356.50" stroke="#8a8a8a" stroke-width="1"/>
<text x="320.90" y="359.40" font-size="7.8" text-anchor="end">55</text>
<line x1="324.50" y1="389.50" x2="328.00" y2="389.50" stroke="#8a8a8a" stroke-width="1"/>
<text x="320.90" y="392.20" font-size="7.8" text-anchor="end">50</text>
<line x1="324.50" y1="422.50" x2="328.00" y2="422.50" stroke="#8a8a8a" stroke-width="1"/>
<text x="320.90" y="425.00" font-size="7.8" text-anchor="end">45</text>
<line x1="324.50" y1="455.50" x2="328.00" y2="455.50" stroke="#8a8a8a" stroke-width="1"/>
<text x="320.90" y="457.80" font-size="7.8" text-anchor="end">40</text>
<line x1="326.00" y1="444.50" x2="328.00" y2="444.50" stroke="#8a8a8a" stroke-width="0.8"/>
<line x1="326.00" y1="433.50" x2="328.00" y2="433.50" stroke="#8a8a8a" stroke-width="0.8"/>
<line x1="326.00" y1="411.50" x2="328.00" y2="411.50" stroke="#8a8a8a" stroke-width="0.8"/>
<line x1="326.00" y1="400.50" x2="328.00" y2="400.50" stroke="#8a8a8a" stroke-width="0.8"/>
<line x1="326.00" y1="378.50" x2="328.00" y2="378.50" stroke="#8a8a8a" stroke-width="0.8"/>
<line x1="326.00" y1="367.50" x2="328.00" y2="367.50" stroke="#8a8a8a" stroke-width="0.8"/>
<line x1="328.00" y1="455.50" x2="474.00" y2="455.50" stroke="#8a8a8a" stroke-width="1"/>
<line x1="333.50" y1="455.00" x2="333.50" y2="459.00" stroke="#8a8a8a" stroke-width="1"/>
<text x="333.00" y="469.20" font-size="6.9" text-anchor="middle">0</text>
<line x1="343.50" y1="455.00" x2="343.50" y2="459.00" stroke="#8a8a8a" stroke-width="1"/>
<text x="343.70" y="469.20" font-size="6.9" text-anchor="middle">1</text>
<line x1="354.50" y1="455.00" x2="354.50" y2="459.00" stroke="#8a8a8a" stroke-width="1"/>
<text x="354.40" y="469.20" font-size="6.9" text-anchor="middle">2</text>
<line x1="365.50" y1="455.00" x2="365.50" y2="459.00" stroke="#8a8a8a" stroke-width="1"/>
<text x="365.10" y="469.20" font-size="6.9" text-anchor="middle">3</text>
<line x1="375.50" y1="455.00" x2="375.50" y2="459.00" stroke="#8a8a8a" stroke-width="1"/>
<text x="375.80" y="469.20" font-size="6.9" text-anchor="middle">4</text>
<line x1="386.50" y1="455.00" x2="386.50" y2="459.00" stroke="#8a8a8a" stroke-width="1"/>
<text x="386.50" y="469.20" font-size="6.9" text-anchor="middle">5</text>
<line x1="397.50" y1="455.00" x2="397.50" y2="459.00" stroke="#8a8a8a" stroke-width="1"/>
<text x="397.20" y="469.20" font-size="6.9" text-anchor="middle">6</text>
<line x1="407.50" y1="455.00" x2="407.50" y2="459.00" stroke="#8a8a8a" stroke-width="1"/>
<text x="407.90" y="469.20" font-size="6.9" text-anchor="middle">7</text>
<line x1="418.50" y1="455.00" x2="418.50" y2="459.00" stroke="#8a8a8a" stroke-width="1"/>
<text x="418.60" y="469.20" font-size="6.9" text-anchor="middle">8</text>
<line x1="429.50" y1="455.00" x2="429.50" y2="459.00" stroke="#8a8a8a" stroke-width="1"/>
<text x="429.30" y="469.20" font-size="6.9" text-anchor="middle">9</text>
<line x1="440.50" y1="455.00" x2="440.50" y2="459.00" stroke="#8a8a8a" stroke-width="1"/>
<text x="440.00" y="469.20" font-size="6.9" text-anchor="middle">10</text>
<line x1="450.50" y1="455.00" x2="450.50" y2="459.00" stroke="#8a8a8a" stroke-width="1"/>
<text x="450.70" y="469.20" font-size="6.9" text-anchor="middle">11</text>
<line x1="461.50" y1="455.00" x2="461.50" y2="459.00" stroke="#8a8a8a" stroke-width="1"/>
<text x="461.40" y="469.20" font-size="6.9" text-anchor="middle">12</text>
<line x1="472.50" y1="455.00" x2="472.50" y2="459.00" stroke="#8a8a8a" stroke-width="1"/>
<text x="472.10" y="469.20" font-size="6.9" text-anchor="middle">13</text>
<text x="396.00" y="480.80" font-size="9" textLength="14.40" lengthAdjust="spacingAndGlyphs">Day</text>
<line x1="333.50" y1="384.15" x2="333.50" y2="390.06" stroke="#a3a3a3" stroke-width="0.7" stroke-opacity="0.75"/>
<line x1="331.20" y1="384.50" x2="334.80" y2="384.50" stroke="#a3a3a3" stroke-width="0.7" stroke-opacity="0.75"/>
<line x1="331.20" y1="390.50" x2="334.80" y2="390.50" stroke="#a3a3a3" stroke-width="0.7" stroke-opacity="0.75"/>
<line x1="343.50" y1="383.50" x2="343.50" y2="389.40" stroke="#a3a3a3" stroke-width="0.7" stroke-opacity="0.75"/>
<line x1="341.90" y1="383.50" x2="345.50" y2="383.50" stroke="#a3a3a3" stroke-width="0.7" stroke-opacity="0.75"/>
<line x1="341.90" y1="389.50" x2="345.50" y2="389.50" stroke="#a3a3a3" stroke-width="0.7" stroke-opacity="0.75"/>
<line x1="354.50" y1="384.15" x2="354.50" y2="390.06" stroke="#a3a3a3" stroke-width="0.7" stroke-opacity="0.75"/>
<line x1="352.60" y1="384.50" x2="356.20" y2="384.50" stroke="#a3a3a3" stroke-width="0.7" stroke-opacity="0.75"/>
<line x1="352.60" y1="390.50" x2="356.20" y2="390.50" stroke="#a3a3a3" stroke-width="0.7" stroke-opacity="0.75"/>
<line x1="365.50" y1="383.50" x2="365.50" y2="389.40" stroke="#a3a3a3" stroke-width="0.7" stroke-opacity="0.75"/>
<line x1="363.30" y1="383.50" x2="366.90" y2="383.50" stroke="#a3a3a3" stroke-width="0.7" stroke-opacity="0.75"/>
<line x1="363.30" y1="389.50" x2="366.90" y2="389.50" stroke="#a3a3a3" stroke-width="0.7" stroke-opacity="0.75"/>
<line x1="375.50" y1="383.50" x2="375.50" y2="389.40" stroke="#a3a3a3" stroke-width="0.7" stroke-opacity="0.75"/>
<line x1="374.00" y1="383.50" x2="377.60" y2="383.50" stroke="#a3a3a3" stroke-width="0.7" stroke-opacity="0.75"/>
<line x1="374.00" y1="389.50" x2="377.60" y2="389.50" stroke="#a3a3a3" stroke-width="0.7" stroke-opacity="0.75"/>
<line x1="386.50" y1="382.51" x2="386.50" y2="388.42" stroke="#a3a3a3" stroke-width="0.7" stroke-opacity="0.75"/>
<line x1="384.70" y1="382.50" x2="388.30" y2="382.50" stroke="#a3a3a3" stroke-width="0.7" stroke-opacity="0.75"/>
<line x1="384.70" y1="388.50" x2="388.30" y2="388.50" stroke="#a3a3a3" stroke-width="0.7" stroke-opacity="0.75"/>
<line x1="397.50" y1="382.51" x2="397.50" y2="388.42" stroke="#a3a3a3" stroke-width="0.7" stroke-opacity="0.75"/>
<line x1="395.40" y1="382.50" x2="399.00" y2="382.50" stroke="#a3a3a3" stroke-width="0.7" stroke-opacity="0.75"/>
<line x1="395.40" y1="388.50" x2="399.00" y2="388.50" stroke="#a3a3a3" stroke-width="0.7" stroke-opacity="0.75"/>
<line x1="407.50" y1="381.86" x2="407.50" y2="387.76" stroke="#a3a3a3" stroke-width="0.7" stroke-opacity="0.75"/>
<line x1="406.10" y1="381.50" x2="409.70" y2="381.50" stroke="#a3a3a3" stroke-width="0.7" stroke-opacity="0.75"/>
<line x1="406.10" y1="387.50" x2="409.70" y2="387.50" stroke="#a3a3a3" stroke-width="0.7" stroke-opacity="0.75"/>
<line x1="418.50" y1="379.56" x2="418.50" y2="385.46" stroke="#a3a3a3" stroke-width="0.7" stroke-opacity="0.75"/>
<line x1="416.80" y1="379.50" x2="420.40" y2="379.50" stroke="#a3a3a3" stroke-width="0.7" stroke-opacity="0.75"/>
<line x1="416.80" y1="385.50" x2="420.40" y2="385.50" stroke="#a3a3a3" stroke-width="0.7" stroke-opacity="0.75"/>
<line x1="429.50" y1="377.92" x2="429.50" y2="383.82" stroke="#a3a3a3" stroke-width="0.7" stroke-opacity="0.75"/>
<line x1="427.50" y1="377.50" x2="431.10" y2="377.50" stroke="#a3a3a3" stroke-width="0.7" stroke-opacity="0.75"/>
<line x1="427.50" y1="383.50" x2="431.10" y2="383.50" stroke="#a3a3a3" stroke-width="0.7" stroke-opacity="0.75"/>
<line x1="440.50" y1="377.92" x2="440.50" y2="383.82" stroke="#a3a3a3" stroke-width="0.7" stroke-opacity="0.75"/>
<line x1="438.20" y1="377.50" x2="441.80" y2="377.50" stroke="#a3a3a3" stroke-width="0.7" stroke-opacity="0.75"/>
<line x1="438.20" y1="383.50" x2="441.80" y2="383.50" stroke="#a3a3a3" stroke-width="0.7" stroke-opacity="0.75"/>
<line x1="450.50" y1="376.94" x2="450.50" y2="382.84" stroke="#a3a3a3" stroke-width="0.7" stroke-opacity="0.75"/>
<line x1="448.90" y1="376.50" x2="452.50" y2="376.50" stroke="#a3a3a3" stroke-width="0.7" stroke-opacity="0.75"/>
<line x1="448.90" y1="382.50" x2="452.50" y2="382.50" stroke="#a3a3a3" stroke-width="0.7" stroke-opacity="0.75"/>
<line x1="461.50" y1="376.94" x2="461.50" y2="382.84" stroke="#a3a3a3" stroke-width="0.7" stroke-opacity="0.75"/>
<line x1="459.60" y1="376.50" x2="463.20" y2="376.50" stroke="#a3a3a3" stroke-width="0.7" stroke-opacity="0.75"/>
<line x1="459.60" y1="382.50" x2="463.20" y2="382.50" stroke="#a3a3a3" stroke-width="0.7" stroke-opacity="0.75"/>
<line x1="472.50" y1="376.28" x2="472.50" y2="382.18" stroke="#a3a3a3" stroke-width="0.7" stroke-opacity="0.75"/>
<line x1="470.30" y1="376.50" x2="473.90" y2="376.50" stroke="#a3a3a3" stroke-width="0.7" stroke-opacity="0.75"/>
<line x1="470.30" y1="382.50" x2="473.90" y2="382.50" stroke="#a3a3a3" stroke-width="0.7" stroke-opacity="0.75"/>
<polyline points="333.00,387.10 343.70,386.45 354.40,387.10 365.10,386.45 375.80,386.45 386.50,385.46 397.20,385.46 407.90,384.81 418.60,382.51 429.30,380.87 440.00,380.87 450.70,379.89 461.40,379.89 472.10,379.23" fill="none" stroke="#a3a3a3" stroke-width="0.9"/>
<polygon points="330.58,385.42 335.42,385.42 333.00,389.41" fill="#a3a3a3"/>
<polygon points="341.28,384.77 346.12,384.77 343.70,388.76" fill="#a3a3a3"/>
<polygon points="351.98,385.42 356.81,385.42 354.40,389.41" fill="#a3a3a3"/>
<polygon points="362.69,384.77 367.52,384.77 365.10,388.76" fill="#a3a3a3"/>
<polygon points="373.38,384.77 378.22,384.77 375.80,388.76" fill="#a3a3a3"/>
<polygon points="384.08,383.78 388.92,383.78 386.50,387.77" fill="#a3a3a3"/>
<polygon points="394.78,383.78 399.62,383.78 397.20,387.77" fill="#a3a3a3"/>
<polygon points="405.48,383.13 410.31,383.13 407.90,387.12" fill="#a3a3a3"/>
<polygon points="416.19,380.83 421.02,380.83 418.60,384.82" fill="#a3a3a3"/>
<polygon points="426.88,379.19 431.72,379.19 429.30,383.18" fill="#a3a3a3"/>
<polygon points="437.58,379.19 442.42,379.19 440.00,383.18" fill="#a3a3a3"/>
<polygon points="448.28,378.21 453.12,378.21 450.70,382.20" fill="#a3a3a3"/>
<polygon points="458.98,378.21 463.81,378.21 461.40,382.20" fill="#a3a3a3"/>
<polygon points="469.69,377.55 474.52,377.55 472.10,381.54" fill="#a3a3a3"/>
<line x1="333.50" y1="383.50" x2="333.50" y2="389.40" stroke="#b3151b" stroke-width="0.7" stroke-opacity="0.75"/>
<line x1="331.20" y1="383.50" x2="334.80" y2="383.50" stroke="#b3151b" stroke-width="0.7" stroke-opacity="0.75"/>
<line x1="331.20" y1="389.50" x2="334.80" y2="389.50" stroke="#b3151b" stroke-width="0.7" stroke-opacity="0.75"/>
<line x1="343.50" y1="385.79" x2="343.50" y2="391.70" stroke="#b3151b" stroke-width="0.7" stroke-opacity="0.75"/>
<line x1="341.90" y1="385.50" x2="345.50" y2="385.50" stroke="#b3151b" stroke-width="0.7" stroke-opacity="0.75"/>
<line x1="341.90" y1="391.50" x2="345.50" y2="391.50" stroke="#b3151b" stroke-width="0.7" stroke-opacity="0.75"/>
<line x1="354.50" y1="388.42" x2="354.50" y2="394.32" stroke="#b3151b" stroke-width="0.7" stroke-opacity="0.75"/>
<line x1="352.60" y1="388.50" x2="356.20" y2="388.50" stroke="#b3151b" stroke-width="0.7" stroke-opacity="0.75"/>
<line x1="352.60" y1="394.50" x2="356.20" y2="394.50" stroke="#b3151b" stroke-width="0.7" stroke-opacity="0.75"/>
<line x1="365.50" y1="390.06" x2="365.50" y2="395.96" stroke="#b3151b" stroke-width="0.7" stroke-opacity="0.75"/>
<line x1="363.30" y1="390.50" x2="366.90" y2="390.50" stroke="#b3151b" stroke-width="0.7" stroke-opacity="0.75"/>
<line x1="363.30" y1="395.50" x2="366.90" y2="395.50" stroke="#b3151b" stroke-width="0.7" stroke-opacity="0.75"/>
<line x1="375.50" y1="390.38" x2="375.50" y2="396.29" stroke="#b3151b" stroke-width="0.7" stroke-opacity="0.75"/>
<line x1="374.00" y1="390.50" x2="377.60" y2="390.50" stroke="#b3151b" stroke-width="0.7" stroke-opacity="0.75"/>
<line x1="374.00" y1="396.50" x2="377.60" y2="396.50" stroke="#b3151b" stroke-width="0.7" stroke-opacity="0.75"/>
<line x1="386.50" y1="391.04" x2="386.50" y2="396.94" stroke="#b3151b" stroke-width="0.7" stroke-opacity="0.75"/>
<line x1="384.70" y1="391.50" x2="388.30" y2="391.50" stroke="#b3151b" stroke-width="0.7" stroke-opacity="0.75"/>
<line x1="384.70" y1="396.50" x2="388.30" y2="396.50" stroke="#b3151b" stroke-width="0.7" stroke-opacity="0.75"/>
<line x1="397.50" y1="391.04" x2="397.50" y2="396.94" stroke="#b3151b" stroke-width="0.7" stroke-opacity="0.75"/>
<line x1="395.40" y1="391.50" x2="399.00" y2="391.50" stroke="#b3151b" stroke-width="0.7" stroke-opacity="0.75"/>
<line x1="395.40" y1="396.50" x2="399.00" y2="396.50" stroke="#b3151b" stroke-width="0.7" stroke-opacity="0.75"/>
<line x1="407.50" y1="390.71" x2="407.50" y2="396.62" stroke="#b3151b" stroke-width="0.7" stroke-opacity="0.75"/>
<line x1="406.10" y1="390.50" x2="409.70" y2="390.50" stroke="#b3151b" stroke-width="0.7" stroke-opacity="0.75"/>
<line x1="406.10" y1="396.50" x2="409.70" y2="396.50" stroke="#b3151b" stroke-width="0.7" stroke-opacity="0.75"/>
<line x1="418.50" y1="388.42" x2="418.50" y2="394.32" stroke="#b3151b" stroke-width="0.7" stroke-opacity="0.75"/>
<line x1="416.80" y1="388.50" x2="420.40" y2="388.50" stroke="#b3151b" stroke-width="0.7" stroke-opacity="0.75"/>
<line x1="416.80" y1="394.50" x2="420.40" y2="394.50" stroke="#b3151b" stroke-width="0.7" stroke-opacity="0.75"/>
<line x1="429.50" y1="388.42" x2="429.50" y2="394.32" stroke="#b3151b" stroke-width="0.7" stroke-opacity="0.75"/>
<line x1="427.50" y1="388.50" x2="431.10" y2="388.50" stroke="#b3151b" stroke-width="0.7" stroke-opacity="0.75"/>
<line x1="427.50" y1="394.50" x2="431.10" y2="394.50" stroke="#b3151b" stroke-width="0.7" stroke-opacity="0.75"/>
<line x1="440.50" y1="389.07" x2="440.50" y2="394.98" stroke="#b3151b" stroke-width="0.7" stroke-opacity="0.75"/>
<line x1="438.20" y1="389.50" x2="441.80" y2="389.50" stroke="#b3151b" stroke-width="0.7" stroke-opacity="0.75"/>
<line x1="438.20" y1="394.50" x2="441.80" y2="394.50" stroke="#b3151b" stroke-width="0.7" stroke-opacity="0.75"/>
<line x1="450.50" y1="388.42" x2="450.50" y2="394.32" stroke="#b3151b" stroke-width="0.7" stroke-opacity="0.75"/>
<line x1="448.90" y1="388.50" x2="452.50" y2="388.50" stroke="#b3151b" stroke-width="0.7" stroke-opacity="0.75"/>
<line x1="448.90" y1="394.50" x2="452.50" y2="394.50" stroke="#b3151b" stroke-width="0.7" stroke-opacity="0.75"/>
<line x1="461.50" y1="390.06" x2="461.50" y2="395.96" stroke="#b3151b" stroke-width="0.7" stroke-opacity="0.75"/>
<line x1="459.60" y1="390.50" x2="463.20" y2="390.50" stroke="#b3151b" stroke-width="0.7" stroke-opacity="0.75"/>
<line x1="459.60" y1="395.50" x2="463.20" y2="395.50" stroke="#b3151b" stroke-width="0.7" stroke-opacity="0.75"/>
<line x1="472.50" y1="388.42" x2="472.50" y2="394.32" stroke="#b3151b" stroke-width="0.7" stroke-opacity="0.75"/>
<line x1="470.30" y1="388.50" x2="473.90" y2="388.50" stroke="#b3151b" stroke-width="0.7" stroke-opacity="0.75"/>
<line x1="470.30" y1="394.50" x2="473.90" y2="394.50" stroke="#b3151b" stroke-width="0.7" stroke-opacity="0.75"/>
<polyline points="333.00,386.45 343.70,388.74 354.40,391.37 365.10,393.01 375.80,393.34 386.50,393.99 397.20,393.99 407.90,393.66 418.60,391.37 429.30,391.37 440.00,392.02 450.70,391.37 461.40,393.01 472.10,391.37" fill="none" stroke="#b3151b" stroke-width="0.9"/>
<polygon points="330.58,388.13 335.42,388.13 333.00,384.14" fill="#b3151b"/>
<polygon points="341.28,390.42 346.12,390.42 343.70,386.43" fill="#b3151b"/>
<polygon points="351.98,393.05 356.81,393.05 354.40,389.06" fill="#b3151b"/>
<polygon points="362.69,394.69 367.52,394.69 365.10,390.70" fill="#b3151b"/>
<polygon points="373.38,395.02 378.22,395.02 375.80,391.03" fill="#b3151b"/>
<polygon points="384.08,395.67 388.92,395.67 386.50,391.68" fill="#b3151b"/>
<polygon points="394.78,395.67 399.62,395.67 397.20,391.68" fill="#b3151b"/>
<polygon points="405.48,395.34 410.31,395.34 407.90,391.35" fill="#b3151b"/>
<polygon points="416.19,393.05 421.02,393.05 418.60,389.06" fill="#b3151b"/>
<polygon points="426.88,393.05 431.72,393.05 429.30,389.06" fill="#b3151b"/>
<polygon points="437.58,393.70 442.42,393.70 440.00,389.71" fill="#b3151b"/>
<polygon points="448.28,393.05 453.12,393.05 450.70,389.06" fill="#b3151b"/>
<polygon points="458.98,394.69 463.81,394.69 461.40,390.70" fill="#b3151b"/>
<polygon points="469.69,393.05 474.52,393.05 472.10,389.06" fill="#b3151b"/>
<line x1="333.50" y1="389.07" x2="333.50" y2="394.98" stroke="#4f7d2a" stroke-width="0.7" stroke-opacity="0.75"/>
<line x1="331.20" y1="389.50" x2="334.80" y2="389.50" stroke="#4f7d2a" stroke-width="0.7" stroke-opacity="0.75"/>
<line x1="331.20" y1="394.50" x2="334.80" y2="394.50" stroke="#4f7d2a" stroke-width="0.7" stroke-opacity="0.75"/>
<line x1="343.50" y1="389.07" x2="343.50" y2="394.98" stroke="#4f7d2a" stroke-width="0.7" stroke-opacity="0.75"/>
<line x1="341.90" y1="389.50" x2="345.50" y2="389.50" stroke="#4f7d2a" stroke-width="0.7" stroke-opacity="0.75"/>
<line x1="341.90" y1="394.50" x2="345.50" y2="394.50" stroke="#4f7d2a" stroke-width="0.7" stroke-opacity="0.75"/>
<line x1="354.50" y1="389.73" x2="354.50" y2="395.63" stroke="#4f7d2a" stroke-width="0.7" stroke-opacity="0.75"/>
<line x1="352.60" y1="389.50" x2="356.20" y2="389.50" stroke="#4f7d2a" stroke-width="0.7" stroke-opacity="0.75"/>
<line x1="352.60" y1="395.50" x2="356.20" y2="395.50" stroke="#4f7d2a" stroke-width="0.7" stroke-opacity="0.75"/>
<line x1="365.50" y1="391.70" x2="365.50" y2="397.60" stroke="#4f7d2a" stroke-width="0.7" stroke-opacity="0.75"/>
<line x1="363.30" y1="391.50" x2="366.90" y2="391.50" stroke="#4f7d2a" stroke-width="0.7" stroke-opacity="0.75"/>
<line x1="363.30" y1="397.50" x2="366.90" y2="397.50" stroke="#4f7d2a" stroke-width="0.7" stroke-opacity="0.75"/>
<line x1="375.50" y1="393.01" x2="375.50" y2="398.91" stroke="#4f7d2a" stroke-width="0.7" stroke-opacity="0.75"/>
<line x1="374.00" y1="393.50" x2="377.60" y2="393.50" stroke="#4f7d2a" stroke-width="0.7" stroke-opacity="0.75"/>
<line x1="374.00" y1="398.50" x2="377.60" y2="398.50" stroke="#4f7d2a" stroke-width="0.7" stroke-opacity="0.75"/>
<line x1="386.50" y1="393.34" x2="386.50" y2="399.24" stroke="#4f7d2a" stroke-width="0.7" stroke-opacity="0.75"/>
<line x1="384.70" y1="393.50" x2="388.30" y2="393.50" stroke="#4f7d2a" stroke-width="0.7" stroke-opacity="0.75"/>
<line x1="384.70" y1="399.50" x2="388.30" y2="399.50" stroke="#4f7d2a" stroke-width="0.7" stroke-opacity="0.75"/>
<line x1="397.50" y1="393.34" x2="397.50" y2="399.24" stroke="#4f7d2a" stroke-width="0.7" stroke-opacity="0.75"/>
<line x1="395.40" y1="393.50" x2="399.00" y2="393.50" stroke="#4f7d2a" stroke-width="0.7" stroke-opacity="0.75"/>
<line x1="395.40" y1="399.50" x2="399.00" y2="399.50" stroke="#4f7d2a" stroke-width="0.7" stroke-opacity="0.75"/>
<line x1="407.50" y1="395.63" x2="407.50" y2="401.54" stroke="#4f7d2a" stroke-width="0.7" stroke-opacity="0.75"/>
<line x1="406.10" y1="395.50" x2="409.70" y2="395.50" stroke="#4f7d2a" stroke-width="0.7" stroke-opacity="0.75"/>
<line x1="406.10" y1="401.50" x2="409.70" y2="401.50" stroke="#4f7d2a" stroke-width="0.7" stroke-opacity="0.75"/>
<line x1="418.50" y1="391.70" x2="418.50" y2="397.60" stroke="#4f7d2a" stroke-width="0.7" stroke-opacity="0.75"/>
<line x1="416.80" y1="391.50" x2="420.40" y2="391.50" stroke="#4f7d2a" stroke-width="0.7" stroke-opacity="0.75"/>
<line x1="416.80" y1="397.50" x2="420.40" y2="397.50" stroke="#4f7d2a" stroke-width="0.7" stroke-opacity="0.75"/>
<line x1="429.50" y1="390.71" x2="429.50" y2="396.62" stroke="#4f7d2a" stroke-width="0.7" stroke-opacity="0.75"/>
<line x1="427.50" y1="390.50" x2="431.10" y2="390.50" stroke="#4f7d2a" stroke-width="0.7" stroke-opacity="0.75"/>
<line x1="427.50" y1="396.50" x2="431.10" y2="396.50" stroke="#4f7d2a" stroke-width="0.7" stroke-opacity="0.75"/>
<line x1="440.50" y1="391.04" x2="440.50" y2="396.94" stroke="#4f7d2a" stroke-width="0.7" stroke-opacity="0.75"/>
<line x1="438.20" y1="391.50" x2="441.80" y2="391.50" stroke="#4f7d2a" stroke-width="0.7" stroke-opacity="0.75"/>
<line x1="438.20" y1="396.50" x2="441.80" y2="396.50" stroke="#4f7d2a" stroke-width="0.7" stroke-opacity="0.75"/>
<line x1="450.50" y1="390.71" x2="450.50" y2="396.62" stroke="#4f7d2a" stroke-width="0.7" stroke-opacity="0.75"/>
<line x1="448.90" y1="390.50" x2="452.50" y2="390.50" stroke="#4f7d2a" stroke-width="0.7" stroke-opacity="0.75"/>
<line x1="448.90" y1="396.50" x2="452.50" y2="396.50" stroke="#4f7d2a" stroke-width="0.7" stroke-opacity="0.75"/>
<line x1="461.50" y1="390.71" x2="461.50" y2="396.62" stroke="#4f7d2a" stroke-width="0.7" stroke-opacity="0.75"/>
<line x1="459.60" y1="390.50" x2="463.20" y2="390.50" stroke="#4f7d2a" stroke-width="0.7" stroke-opacity="0.75"/>
<line x1="459.60" y1="396.50" x2="463.20" y2="396.50" stroke="#4f7d2a" stroke-width="0.7" stroke-opacity="0.75"/>
<line x1="472.50" y1="389.73" x2="472.50" y2="395.63" stroke="#4f7d2a" stroke-width="0.7" stroke-opacity="0.75"/>
<line x1="470.30" y1="389.50" x2="473.90" y2="389.50" stroke="#4f7d2a" stroke-width="0.7" stroke-opacity="0.75"/>
<line x1="470.30" y1="395.50" x2="473.90" y2="395.50" stroke="#4f7d2a" stroke-width="0.7" stroke-opacity="0.75"/>
<polyline points="333.00,392.02 343.70,392.02 354.40,392.68 365.10,394.65 375.80,395.96 386.50,396.29 397.20,396.29 407.90,398.58 418.60,394.65 429.30,393.66 440.00,393.99 450.70,393.66 461.40,393.66 472.10,392.68" fill="none" stroke="#4f7d2a" stroke-width="0.9"/>
<rect x="330.90" y="389.92" width="4.20" height="4.20" fill="#4f7d2a"/>
<rect x="341.60" y="389.92" width="4.20" height="4.20" fill="#4f7d2a"/>
<rect x="352.30" y="390.58" width="4.20" height="4.20" fill="#4f7d2a"/>
<rect x="363.00" y="392.55" width="4.20" height="4.20" fill="#4f7d2a"/>
<rect x="373.70" y="393.86" width="4.20" height="4.20" fill="#4f7d2a"/>
<rect x="384.40" y="394.19" width="4.20" height="4.20" fill="#4f7d2a"/>
<rect x="395.10" y="394.19" width="4.20" height="4.20" fill="#4f7d2a"/>
<rect x="405.80" y="396.48" width="4.20" height="4.20" fill="#4f7d2a"/>
<rect x="416.50" y="392.55" width="4.20" height="4.20" fill="#4f7d2a"/>
<rect x="427.20" y="391.56" width="4.20" height="4.20" fill="#4f7d2a"/>
<rect x="437.90" y="391.89" width="4.20" height="4.20" fill="#4f7d2a"/>
<rect x="448.60" y="391.56" width="4.20" height="4.20" fill="#4f7d2a"/>
<rect x="459.30" y="391.56" width="4.20" height="4.20" fill="#4f7d2a"/>
<rect x="470.00" y="390.58" width="4.20" height="4.20" fill="#4f7d2a"/>
<line x1="333.50" y1="386.45" x2="333.50" y2="392.35" stroke="#3b7fd4" stroke-width="0.7" stroke-opacity="0.75"/>
<line x1="331.20" y1="386.50" x2="334.80" y2="386.50" stroke="#3b7fd4" stroke-width="0.7" stroke-opacity="0.75"/>
<line x1="331.20" y1="392.50" x2="334.80" y2="392.50" stroke="#3b7fd4" stroke-width="0.7" stroke-opacity="0.75"/>
<line x1="343.50" y1="389.07" x2="343.50" y2="394.98" stroke="#3b7fd4" stroke-width="0.7" stroke-opacity="0.75"/>
<line x1="341.90" y1="389.50" x2="345.50" y2="389.50" stroke="#3b7fd4" stroke-width="0.7" stroke-opacity="0.75"/>
<line x1="341.90" y1="394.50" x2="345.50" y2="394.50" stroke="#3b7fd4" stroke-width="0.7" stroke-opacity="0.75"/>
<line x1="354.50" y1="392.68" x2="354.50" y2="398.58" stroke="#3b7fd4" stroke-width="0.7" stroke-opacity="0.75"/>
<line x1="352.60" y1="392.50" x2="356.20" y2="392.50" stroke="#3b7fd4" stroke-width="0.7" stroke-opacity="0.75"/>
<line x1="352.60" y1="398.50" x2="356.20" y2="398.50" stroke="#3b7fd4" stroke-width="0.7" stroke-opacity="0.75"/>
<line x1="365.50" y1="395.96" x2="365.50" y2="401.86" stroke="#3b7fd4" stroke-width="0.7" stroke-opacity="0.75"/>
<line x1="363.30" y1="395.50" x2="366.90" y2="395.50" stroke="#3b7fd4" stroke-width="0.7" stroke-opacity="0.75"/>
<line x1="363.30" y1="401.50" x2="366.90" y2="401.50" stroke="#3b7fd4" stroke-width="0.7" stroke-opacity="0.75"/>
<line x1="375.50" y1="398.26" x2="375.50" y2="404.16" stroke="#3b7fd4" stroke-width="0.7" stroke-opacity="0.75"/>
<line x1="374.00" y1="398.50" x2="377.60" y2="398.50" stroke="#3b7fd4" stroke-width="0.7" stroke-opacity="0.75"/>
<line x1="374.00" y1="404.50" x2="377.60" y2="404.50" stroke="#3b7fd4" stroke-width="0.7" stroke-opacity="0.75"/>
<line x1="386.50" y1="400.22" x2="386.50" y2="406.13" stroke="#3b7fd4" stroke-width="0.7" stroke-opacity="0.75"/>
<line x1="384.70" y1="400.50" x2="388.30" y2="400.50" stroke="#3b7fd4" stroke-width="0.7" stroke-opacity="0.75"/>
<line x1="384.70" y1="406.50" x2="388.30" y2="406.50" stroke="#3b7fd4" stroke-width="0.7" stroke-opacity="0.75"/>
<line x1="397.50" y1="401.54" x2="397.50" y2="407.44" stroke="#3b7fd4" stroke-width="0.7" stroke-opacity="0.75"/>
<line x1="395.40" y1="401.50" x2="399.00" y2="401.50" stroke="#3b7fd4" stroke-width="0.7" stroke-opacity="0.75"/>
<line x1="395.40" y1="407.50" x2="399.00" y2="407.50" stroke="#3b7fd4" stroke-width="0.7" stroke-opacity="0.75"/>
<line x1="407.50" y1="404.16" x2="407.50" y2="410.06" stroke="#3b7fd4" stroke-width="0.7" stroke-opacity="0.75"/>
<line x1="406.10" y1="404.50" x2="409.70" y2="404.50" stroke="#3b7fd4" stroke-width="0.7" stroke-opacity="0.75"/>
<line x1="406.10" y1="410.50" x2="409.70" y2="410.50" stroke="#3b7fd4" stroke-width="0.7" stroke-opacity="0.75"/>
<line x1="418.50" y1="400.88" x2="418.50" y2="406.78" stroke="#3b7fd4" stroke-width="0.7" stroke-opacity="0.75"/>
<line x1="416.80" y1="400.50" x2="420.40" y2="400.50" stroke="#3b7fd4" stroke-width="0.7" stroke-opacity="0.75"/>
<line x1="416.80" y1="406.50" x2="420.40" y2="406.50" stroke="#3b7fd4" stroke-width="0.7" stroke-opacity="0.75"/>
<line x1="429.50" y1="400.88" x2="429.50" y2="406.78" stroke="#3b7fd4" stroke-width="0.7" stroke-opacity="0.75"/>
<line x1="427.50" y1="400.50" x2="431.10" y2="400.50" stroke="#3b7fd4" stroke-width="0.7" stroke-opacity="0.75"/>
<line x1="427.50" y1="406.50" x2="431.10" y2="406.50" stroke="#3b7fd4" stroke-width="0.7" stroke-opacity="0.75"/>
<line x1="440.50" y1="402.85" x2="440.50" y2="408.75" stroke="#3b7fd4" stroke-width="0.7" stroke-opacity="0.75"/>
<line x1="438.20" y1="402.50" x2="441.80" y2="402.50" stroke="#3b7fd4" stroke-width="0.7" stroke-opacity="0.75"/>
<line x1="438.20" y1="408.50" x2="441.80" y2="408.50" stroke="#3b7fd4" stroke-width="0.7" stroke-opacity="0.75"/>
<line x1="450.50" y1="402.85" x2="450.50" y2="408.75" stroke="#3b7fd4" stroke-width="0.7" stroke-opacity="0.75"/>
<line x1="448.90" y1="402.50" x2="452.50" y2="402.50" stroke="#3b7fd4" stroke-width="0.7" stroke-opacity="0.75"/>
<line x1="448.90" y1="408.50" x2="452.50" y2="408.50" stroke="#3b7fd4" stroke-width="0.7" stroke-opacity="0.75"/>
<line x1="461.50" y1="403.50" x2="461.50" y2="409.41" stroke="#3b7fd4" stroke-width="0.7" stroke-opacity="0.75"/>
<line x1="459.60" y1="403.50" x2="463.20" y2="403.50" stroke="#3b7fd4" stroke-width="0.7" stroke-opacity="0.75"/>
<line x1="459.60" y1="409.50" x2="463.20" y2="409.50" stroke="#3b7fd4" stroke-width="0.7" stroke-opacity="0.75"/>
<line x1="472.50" y1="403.50" x2="472.50" y2="409.41" stroke="#3b7fd4" stroke-width="0.7" stroke-opacity="0.75"/>
<line x1="470.30" y1="403.50" x2="473.90" y2="403.50" stroke="#3b7fd4" stroke-width="0.7" stroke-opacity="0.75"/>
<line x1="470.30" y1="409.50" x2="473.90" y2="409.50" stroke="#3b7fd4" stroke-width="0.7" stroke-opacity="0.75"/>
<polyline points="333.00,389.40 343.70,392.02 354.40,395.63 365.10,398.91 375.80,401.21 386.50,403.18 397.20,404.49 407.90,407.11 418.60,403.83 429.30,403.83 440.00,405.80 450.70,405.80 461.40,406.46 472.10,406.46" fill="none" stroke="#3b7fd4" stroke-width="0.9"/>
<circle cx="333.00" cy="389.40" r="1.90" fill="#3b7fd4"/>
<circle cx="343.70" cy="392.02" r="1.90" fill="#3b7fd4"/>
<circle cx="354.40" cy="395.63" r="1.90" fill="#3b7fd4"/>
<circle cx="365.10" cy="398.91" r="1.90" fill="#3b7fd4"/>
<circle cx="375.80" cy="401.21" r="1.90" fill="#3b7fd4"/>
<circle cx="386.50" cy="403.18" r="1.90" fill="#3b7fd4"/>
<circle cx="397.20" cy="404.49" r="1.90" fill="#3b7fd4"/>
<circle cx="407.90" cy="407.11" r="1.90" fill="#3b7fd4"/>
<circle cx="418.60" cy="403.83" r="1.90" fill="#3b7fd4"/>
<circle cx="429.30" cy="403.83" r="1.90" fill="#3b7fd4"/>
<circle cx="440.00" cy="405.80" r="1.90" fill="#3b7fd4"/>
<circle cx="450.70" cy="405.80" r="1.90" fill="#3b7fd4"/>
<circle cx="461.40" cy="406.46" r="1.90" fill="#3b7fd4"/>
<circle cx="472.10" cy="406.46" r="1.90" fill="#3b7fd4"/>
<circle cx="440" cy="441" r="0.9" fill="#3b7fd4"/>
<line x1="443.60" y1="441.00" x2="472.00" y2="441.00" stroke="#3b7fd4" stroke-width="1.9"/>
<text x="430" y="447.5" font-size="6.5" fill="#b3151b" text-anchor="middle">*</text>
<line x1="433.00" y1="444.80" x2="472.00" y2="444.80" stroke="#b3151b" stroke-width="1.9"/>
<text x="409.00" y="451.20" font-size="7" text-anchor="middle" fill="#222">#</text>
<line x1="411.60" y1="448.60" x2="472.00" y2="448.60" stroke="#222" stroke-width="1.9"/>
<text x="397.40" y="455.20" font-size="7.5" text-anchor="middle" fill="#222">+</text>
<line x1="402.60" y1="452.40" x2="472.00" y2="452.40" stroke="#222" stroke-width="1.9"/>
<text x="495.40" y="342.60" font-size="12.5" fill="#111" font-weight="bold" stroke="#111" stroke-width="0.4">g</text>
<text x="551.00" y="345.00" font-size="9" textLength="92.20" lengthAdjust="spacingAndGlyphs">Cumulative food intake</text>
<text x="500.20" y="408.60" font-size="9" text-anchor="middle" textLength="107.60" lengthAdjust="spacingAndGlyphs" transform="rotate(-90 500.20 408.60)">Cumulative food intake (g)</text>
<line x1="525.60" y1="362.00" x2="525.60" y2="455.60" stroke="#c6c6c6" stroke-width="1.6"/>
<line x1="522.10" y1="362.50" x2="525.10" y2="362.50" stroke="#8a8a8a" stroke-width="1"/>
<text x="518.50" y="364.80" font-size="7.8" text-anchor="end">40</text>
<line x1="522.10" y1="385.50" x2="525.10" y2="385.50" stroke="#8a8a8a" stroke-width="1"/>
<text x="518.50" y="388.20" font-size="7.8" text-anchor="end">30</text>
<line x1="522.10" y1="408.50" x2="525.10" y2="408.50" stroke="#8a8a8a" stroke-width="1"/>
<text x="518.50" y="411.60" font-size="7.8" text-anchor="end">20</text>
<line x1="522.10" y1="432.50" x2="525.10" y2="432.50" stroke="#8a8a8a" stroke-width="1"/>
<text x="518.50" y="435.00" font-size="7.8" text-anchor="end">10</text>
<line x1="522.10" y1="455.50" x2="525.10" y2="455.50" stroke="#8a8a8a" stroke-width="1"/>
<text x="518.50" y="458.40" font-size="7.8" text-anchor="end">0</text>
<line x1="525.60" y1="455.60" x2="668.00" y2="455.60" stroke="#c6c6c6" stroke-width="1.6"/>
<line x1="536.50" y1="456.40" x2="536.50" y2="459.60" stroke="#8a8a8a" stroke-width="1"/>
<text x="536.00" y="469.20" font-size="6.9" text-anchor="middle">0</text>
<line x1="546.50" y1="456.40" x2="546.50" y2="459.60" stroke="#8a8a8a" stroke-width="1"/>
<text x="546.13" y="469.20" font-size="6.9" text-anchor="middle">1</text>
<line x1="556.50" y1="456.40" x2="556.50" y2="459.60" stroke="#8a8a8a" stroke-width="1"/>
<text x="556.26" y="469.20" font-size="6.9" text-anchor="middle">2</text>
<line x1="566.50" y1="456.40" x2="566.50" y2="459.60" stroke="#8a8a8a" stroke-width="1"/>
<text x="566.39" y="469.20" font-size="6.9" text-anchor="middle">3</text>
<line x1="576.50" y1="456.40" x2="576.50" y2="459.60" stroke="#8a8a8a" stroke-width="1"/>
<text x="576.52" y="469.20" font-size="6.9" text-anchor="middle">4</text>
<line x1="586.50" y1="456.40" x2="586.50" y2="459.60" stroke="#8a8a8a" stroke-width="1"/>
<text x="586.65" y="469.20" font-size="6.9" text-anchor="middle">5</text>
<line x1="596.50" y1="456.40" x2="596.50" y2="459.60" stroke="#8a8a8a" stroke-width="1"/>
<text x="596.78" y="469.20" font-size="6.9" text-anchor="middle">6</text>
<line x1="606.50" y1="456.40" x2="606.50" y2="459.60" stroke="#8a8a8a" stroke-width="1"/>
<text x="606.91" y="469.20" font-size="6.9" text-anchor="middle">7</text>
<line x1="617.50" y1="456.40" x2="617.50" y2="459.60" stroke="#8a8a8a" stroke-width="1"/>
<text x="617.04" y="469.20" font-size="6.9" text-anchor="middle">8</text>
<line x1="627.50" y1="456.40" x2="627.50" y2="459.60" stroke="#8a8a8a" stroke-width="1"/>
<text x="627.17" y="469.20" font-size="6.9" text-anchor="middle">9</text>
<line x1="637.50" y1="456.40" x2="637.50" y2="459.60" stroke="#8a8a8a" stroke-width="1"/>
<text x="637.30" y="469.20" font-size="6.9" text-anchor="middle">10</text>
<line x1="647.50" y1="456.40" x2="647.50" y2="459.60" stroke="#8a8a8a" stroke-width="1"/>
<text x="647.43" y="469.20" font-size="6.9" text-anchor="middle">11</text>
<line x1="657.50" y1="456.40" x2="657.50" y2="459.60" stroke="#8a8a8a" stroke-width="1"/>
<text x="657.56" y="469.20" font-size="6.9" text-anchor="middle">12</text>
<line x1="667.50" y1="456.40" x2="667.50" y2="459.60" stroke="#8a8a8a" stroke-width="1"/>
<text x="667.69" y="469.20" font-size="6.9" text-anchor="middle">13</text>
<line x1="522.00" y1="455.50" x2="525.60" y2="455.50" stroke="#8a8a8a" stroke-width="1"/>
<text x="589.60" y="480.80" font-size="9" textLength="14.80" lengthAdjust="spacingAndGlyphs">Day</text>
<line x1="536.50" y1="455.00" x2="536.50" y2="456.20" stroke="#a3a3a3" stroke-width="0.7" stroke-opacity="0.75"/>
<line x1="534.40" y1="455.50" x2="537.60" y2="455.50" stroke="#a3a3a3" stroke-width="0.7" stroke-opacity="0.75"/>
<line x1="534.40" y1="456.50" x2="537.60" y2="456.50" stroke="#a3a3a3" stroke-width="0.7" stroke-opacity="0.75"/>
<line x1="546.50" y1="448.21" x2="546.50" y2="449.41" stroke="#a3a3a3" stroke-width="0.7" stroke-opacity="0.75"/>
<line x1="544.53" y1="448.50" x2="547.73" y2="448.50" stroke="#a3a3a3" stroke-width="0.7" stroke-opacity="0.75"/>
<line x1="544.53" y1="449.50" x2="547.73" y2="449.50" stroke="#a3a3a3" stroke-width="0.7" stroke-opacity="0.75"/>
<line x1="556.50" y1="441.92" x2="556.50" y2="443.12" stroke="#a3a3a3" stroke-width="0.7" stroke-opacity="0.75"/>
<line x1="554.66" y1="441.50" x2="557.86" y2="441.50" stroke="#a3a3a3" stroke-width="0.7" stroke-opacity="0.75"/>
<line x1="554.66" y1="443.50" x2="557.86" y2="443.50" stroke="#a3a3a3" stroke-width="0.7" stroke-opacity="0.75"/>
<line x1="566.50" y1="435.62" x2="566.50" y2="436.82" stroke="#a3a3a3" stroke-width="0.7" stroke-opacity="0.75"/>
<line x1="564.79" y1="435.50" x2="567.99" y2="435.50" stroke="#a3a3a3" stroke-width="0.7" stroke-opacity="0.75"/>
<line x1="564.79" y1="436.50" x2="567.99" y2="436.50" stroke="#a3a3a3" stroke-width="0.7" stroke-opacity="0.75"/>
<line x1="576.50" y1="429.33" x2="576.50" y2="430.53" stroke="#a3a3a3" stroke-width="0.7" stroke-opacity="0.75"/>
<line x1="574.92" y1="429.50" x2="578.12" y2="429.50" stroke="#a3a3a3" stroke-width="0.7" stroke-opacity="0.75"/>
<line x1="574.92" y1="430.50" x2="578.12" y2="430.50" stroke="#a3a3a3" stroke-width="0.7" stroke-opacity="0.75"/>
<line x1="586.50" y1="423.04" x2="586.50" y2="424.24" stroke="#a3a3a3" stroke-width="0.7" stroke-opacity="0.75"/>
<line x1="585.05" y1="423.50" x2="588.25" y2="423.50" stroke="#a3a3a3" stroke-width="0.7" stroke-opacity="0.75"/>
<line x1="585.05" y1="424.50" x2="588.25" y2="424.50" stroke="#a3a3a3" stroke-width="0.7" stroke-opacity="0.75"/>
<line x1="596.50" y1="416.74" x2="596.50" y2="417.94" stroke="#a3a3a3" stroke-width="0.7" stroke-opacity="0.75"/>
<line x1="595.18" y1="416.50" x2="598.38" y2="416.50" stroke="#a3a3a3" stroke-width="0.7" stroke-opacity="0.75"/>
<line x1="595.18" y1="417.50" x2="598.38" y2="417.50" stroke="#a3a3a3" stroke-width="0.7" stroke-opacity="0.75"/>
<line x1="606.50" y1="410.45" x2="606.50" y2="411.65" stroke="#a3a3a3" stroke-width="0.7" stroke-opacity="0.75"/>
<line x1="605.31" y1="410.50" x2="608.51" y2="410.50" stroke="#a3a3a3" stroke-width="0.7" stroke-opacity="0.75"/>
<line x1="605.31" y1="411.50" x2="608.51" y2="411.50" stroke="#a3a3a3" stroke-width="0.7" stroke-opacity="0.75"/>
<line x1="617.50" y1="404.15" x2="617.50" y2="405.35" stroke="#a3a3a3" stroke-width="0.7" stroke-opacity="0.75"/>
<line x1="615.44" y1="404.50" x2="618.64" y2="404.50" stroke="#a3a3a3" stroke-width="0.7" stroke-opacity="0.75"/>
<line x1="615.44" y1="405.50" x2="618.64" y2="405.50" stroke="#a3a3a3" stroke-width="0.7" stroke-opacity="0.75"/>
<line x1="627.50" y1="397.86" x2="627.50" y2="399.06" stroke="#a3a3a3" stroke-width="0.7" stroke-opacity="0.75"/>
<line x1="625.57" y1="397.50" x2="628.77" y2="397.50" stroke="#a3a3a3" stroke-width="0.7" stroke-opacity="0.75"/>
<line x1="625.57" y1="399.50" x2="628.77" y2="399.50" stroke="#a3a3a3" stroke-width="0.7" stroke-opacity="0.75"/>
<line x1="637.50" y1="391.56" x2="637.50" y2="392.76" stroke="#a3a3a3" stroke-width="0.7" stroke-opacity="0.75"/>
<line x1="635.70" y1="391.50" x2="638.90" y2="391.50" stroke="#a3a3a3" stroke-width="0.7" stroke-opacity="0.75"/>
<line x1="635.70" y1="392.50" x2="638.90" y2="392.50" stroke="#a3a3a3" stroke-width="0.7" stroke-opacity="0.75"/>
<line x1="647.50" y1="385.27" x2="647.50" y2="386.47" stroke="#a3a3a3" stroke-width="0.7" stroke-opacity="0.75"/>
<line x1="645.83" y1="385.50" x2="649.03" y2="385.50" stroke="#a3a3a3" stroke-width="0.7" stroke-opacity="0.75"/>
<line x1="645.83" y1="386.50" x2="649.03" y2="386.50" stroke="#a3a3a3" stroke-width="0.7" stroke-opacity="0.75"/>
<line x1="657.50" y1="378.97" x2="657.50" y2="380.17" stroke="#a3a3a3" stroke-width="0.7" stroke-opacity="0.75"/>
<line x1="655.96" y1="378.50" x2="659.16" y2="378.50" stroke="#a3a3a3" stroke-width="0.7" stroke-opacity="0.75"/>
<line x1="655.96" y1="380.50" x2="659.16" y2="380.50" stroke="#a3a3a3" stroke-width="0.7" stroke-opacity="0.75"/>
<line x1="667.50" y1="372.68" x2="667.50" y2="373.88" stroke="#a3a3a3" stroke-width="0.7" stroke-opacity="0.75"/>
<line x1="666.09" y1="372.50" x2="669.29" y2="372.50" stroke="#a3a3a3" stroke-width="0.7" stroke-opacity="0.75"/>
<line x1="666.09" y1="373.50" x2="669.29" y2="373.50" stroke="#a3a3a3" stroke-width="0.7" stroke-opacity="0.75"/>
<polyline points="536.00,455.60 546.13,448.81 556.26,442.52 566.39,436.22 576.52,429.93 586.65,423.64 596.78,417.34 606.91,411.05 617.04,404.75 627.17,398.46 637.30,392.16 647.43,385.87 657.56,379.57 667.69,373.28" fill="none" stroke="#a3a3a3" stroke-width="0.9"/>
<polygon points="533.59,453.92 538.41,453.92 536.00,457.91" fill="#a3a3a3"/>
<polygon points="543.72,447.13 548.54,447.13 546.13,451.12" fill="#a3a3a3"/>
<polygon points="553.85,440.84 558.67,440.84 556.26,444.83" fill="#a3a3a3"/>
<polygon points="563.98,434.54 568.80,434.54 566.39,438.53" fill="#a3a3a3"/>
<polygon points="574.11,428.25 578.93,428.25 576.52,432.24" fill="#a3a3a3"/>
<polygon points="584.24,421.96 589.06,421.96 586.65,425.95" fill="#a3a3a3"/>
<polygon points="594.37,415.66 599.19,415.66 596.78,419.65" fill="#a3a3a3"/>
<polygon points="604.50,409.37 609.32,409.37 606.91,413.36" fill="#a3a3a3"/>
<polygon points="614.62,403.07 619.45,403.07 617.04,407.06" fill="#a3a3a3"/>
<polygon points="624.75,396.78 629.58,396.78 627.17,400.77" fill="#a3a3a3"/>
<polygon points="634.88,390.48 639.71,390.48 637.30,394.47" fill="#a3a3a3"/>
<polygon points="645.02,384.19 649.85,384.19 647.43,388.18" fill="#a3a3a3"/>
<polygon points="655.14,377.89 659.97,377.89 657.56,381.88" fill="#a3a3a3"/>
<polygon points="665.28,371.60 670.11,371.60 667.69,375.59" fill="#a3a3a3"/>
<line x1="536.50" y1="455.00" x2="536.50" y2="456.20" stroke="#4f7d2a" stroke-width="0.7" stroke-opacity="0.75"/>
<line x1="534.40" y1="455.50" x2="537.60" y2="455.50" stroke="#4f7d2a" stroke-width="0.7" stroke-opacity="0.75"/>
<line x1="534.40" y1="456.50" x2="537.60" y2="456.50" stroke="#4f7d2a" stroke-width="0.7" stroke-opacity="0.75"/>
<line x1="546.50" y1="448.21" x2="546.50" y2="449.41" stroke="#4f7d2a" stroke-width="0.7" stroke-opacity="0.75"/>
<line x1="544.53" y1="448.50" x2="547.73" y2="448.50" stroke="#4f7d2a" stroke-width="0.7" stroke-opacity="0.75"/>
<line x1="544.53" y1="449.50" x2="547.73" y2="449.50" stroke="#4f7d2a" stroke-width="0.7" stroke-opacity="0.75"/>
<line x1="556.50" y1="442.25" x2="556.50" y2="443.45" stroke="#4f7d2a" stroke-width="0.7" stroke-opacity="0.75"/>
<line x1="554.66" y1="442.50" x2="557.86" y2="442.50" stroke="#4f7d2a" stroke-width="0.7" stroke-opacity="0.75"/>
<line x1="554.66" y1="443.50" x2="557.86" y2="443.50" stroke="#4f7d2a" stroke-width="0.7" stroke-opacity="0.75"/>
<line x1="566.50" y1="436.28" x2="566.50" y2="437.48" stroke="#4f7d2a" stroke-width="0.7" stroke-opacity="0.75"/>
<line x1="564.79" y1="436.50" x2="567.99" y2="436.50" stroke="#4f7d2a" stroke-width="0.7" stroke-opacity="0.75"/>
<line x1="564.79" y1="437.50" x2="567.99" y2="437.50" stroke="#4f7d2a" stroke-width="0.7" stroke-opacity="0.75"/>
<line x1="576.50" y1="430.31" x2="576.50" y2="431.51" stroke="#4f7d2a" stroke-width="0.7" stroke-opacity="0.75"/>
<line x1="574.92" y1="430.50" x2="578.12" y2="430.50" stroke="#4f7d2a" stroke-width="0.7" stroke-opacity="0.75"/>
<line x1="574.92" y1="431.50" x2="578.12" y2="431.50" stroke="#4f7d2a" stroke-width="0.7" stroke-opacity="0.75"/>
<line x1="586.50" y1="424.35" x2="586.50" y2="425.55" stroke="#4f7d2a" stroke-width="0.7" stroke-opacity="0.75"/>
<line x1="585.05" y1="424.50" x2="588.25" y2="424.50" stroke="#4f7d2a" stroke-width="0.7" stroke-opacity="0.75"/>
<line x1="585.05" y1="425.50" x2="588.25" y2="425.50" stroke="#4f7d2a" stroke-width="0.7" stroke-opacity="0.75"/>
<line x1="596.50" y1="418.38" x2="596.50" y2="419.58" stroke="#4f7d2a" stroke-width="0.7" stroke-opacity="0.75"/>
<line x1="595.18" y1="418.50" x2="598.38" y2="418.50" stroke="#4f7d2a" stroke-width="0.7" stroke-opacity="0.75"/>
<line x1="595.18" y1="419.50" x2="598.38" y2="419.50" stroke="#4f7d2a" stroke-width="0.7" stroke-opacity="0.75"/>
<line x1="606.50" y1="412.41" x2="606.50" y2="413.61" stroke="#4f7d2a" stroke-width="0.7" stroke-opacity="0.75"/>
<line x1="605.31" y1="412.50" x2="608.51" y2="412.50" stroke="#4f7d2a" stroke-width="0.7" stroke-opacity="0.75"/>
<line x1="605.31" y1="413.50" x2="608.51" y2="413.50" stroke="#4f7d2a" stroke-width="0.7" stroke-opacity="0.75"/>
<line x1="617.50" y1="406.44" x2="617.50" y2="407.65" stroke="#4f7d2a" stroke-width="0.7" stroke-opacity="0.75"/>
<line x1="615.44" y1="406.50" x2="618.64" y2="406.50" stroke="#4f7d2a" stroke-width="0.7" stroke-opacity="0.75"/>
<line x1="615.44" y1="407.50" x2="618.64" y2="407.50" stroke="#4f7d2a" stroke-width="0.7" stroke-opacity="0.75"/>
<line x1="627.50" y1="400.48" x2="627.50" y2="401.68" stroke="#4f7d2a" stroke-width="0.7" stroke-opacity="0.75"/>
<line x1="625.57" y1="400.50" x2="628.77" y2="400.50" stroke="#4f7d2a" stroke-width="0.7" stroke-opacity="0.75"/>
<line x1="625.57" y1="401.50" x2="628.77" y2="401.50" stroke="#4f7d2a" stroke-width="0.7" stroke-opacity="0.75"/>
<line x1="637.50" y1="394.51" x2="637.50" y2="395.71" stroke="#4f7d2a" stroke-width="0.7" stroke-opacity="0.75"/>
<line x1="635.70" y1="394.50" x2="638.90" y2="394.50" stroke="#4f7d2a" stroke-width="0.7" stroke-opacity="0.75"/>
<line x1="635.70" y1="395.50" x2="638.90" y2="395.50" stroke="#4f7d2a" stroke-width="0.7" stroke-opacity="0.75"/>
<line x1="647.50" y1="388.54" x2="647.50" y2="389.74" stroke="#4f7d2a" stroke-width="0.7" stroke-opacity="0.75"/>
<line x1="645.83" y1="388.50" x2="649.03" y2="388.50" stroke="#4f7d2a" stroke-width="0.7" stroke-opacity="0.75"/>
<line x1="645.83" y1="389.50" x2="649.03" y2="389.50" stroke="#4f7d2a" stroke-width="0.7" stroke-opacity="0.75"/>
<line x1="657.50" y1="382.58" x2="657.50" y2="383.78" stroke="#4f7d2a" stroke-width="0.7" stroke-opacity="0.75"/>
<line x1="655.96" y1="382.50" x2="659.16" y2="382.50" stroke="#4f7d2a" stroke-width="0.7" stroke-opacity="0.75"/>
<line x1="655.96" y1="383.50" x2="659.16" y2="383.50" stroke="#4f7d2a" stroke-width="0.7" stroke-opacity="0.75"/>
<line x1="667.50" y1="376.61" x2="667.50" y2="377.81" stroke="#4f7d2a" stroke-width="0.7" stroke-opacity="0.75"/>
<line x1="666.09" y1="376.50" x2="669.29" y2="376.50" stroke="#4f7d2a" stroke-width="0.7" stroke-opacity="0.75"/>
<line x1="666.09" y1="377.50" x2="669.29" y2="377.50" stroke="#4f7d2a" stroke-width="0.7" stroke-opacity="0.75"/>
<polyline points="536.00,455.60 546.13,448.81 556.26,442.85 566.39,436.88 576.52,430.91 586.65,424.95 596.78,418.98 606.91,413.01 617.04,407.05 627.17,401.08 637.30,395.11 647.43,389.14 657.56,383.18 667.69,377.21" fill="none" stroke="#4f7d2a" stroke-width="0.9"/>
<rect x="533.90" y="453.50" width="4.20" height="4.20" fill="#4f7d2a"/>
<rect x="544.03" y="446.71" width="4.20" height="4.20" fill="#4f7d2a"/>
<rect x="554.16" y="440.75" width="4.20" height="4.20" fill="#4f7d2a"/>
<rect x="564.29" y="434.78" width="4.20" height="4.20" fill="#4f7d2a"/>
<rect x="574.42" y="428.81" width="4.20" height="4.20" fill="#4f7d2a"/>
<rect x="584.55" y="422.85" width="4.20" height="4.20" fill="#4f7d2a"/>
<rect x="594.68" y="416.88" width="4.20" height="4.20" fill="#4f7d2a"/>
<rect x="604.81" y="410.91" width="4.20" height="4.20" fill="#4f7d2a"/>
<rect x="614.94" y="404.94" width="4.20" height="4.20" fill="#4f7d2a"/>
<rect x="625.07" y="398.98" width="4.20" height="4.20" fill="#4f7d2a"/>
<rect x="635.20" y="393.01" width="4.20" height="4.20" fill="#4f7d2a"/>
<rect x="645.33" y="387.04" width="4.20" height="4.20" fill="#4f7d2a"/>
<rect x="655.46" y="381.08" width="4.20" height="4.20" fill="#4f7d2a"/>
<rect x="665.59" y="375.11" width="4.20" height="4.20" fill="#4f7d2a"/>
<line x1="536.50" y1="455.00" x2="536.50" y2="456.20" stroke="#b3151b" stroke-width="0.7" stroke-opacity="0.75"/>
<line x1="534.40" y1="455.50" x2="537.60" y2="455.50" stroke="#b3151b" stroke-width="0.7" stroke-opacity="0.75"/>
<line x1="534.40" y1="456.50" x2="537.60" y2="456.50" stroke="#b3151b" stroke-width="0.7" stroke-opacity="0.75"/>
<line x1="546.50" y1="448.21" x2="546.50" y2="449.41" stroke="#b3151b" stroke-width="0.7" stroke-opacity="0.75"/>
<line x1="544.53" y1="448.50" x2="547.73" y2="448.50" stroke="#b3151b" stroke-width="0.7" stroke-opacity="0.75"/>
<line x1="544.53" y1="449.50" x2="547.73" y2="449.50" stroke="#b3151b" stroke-width="0.7" stroke-opacity="0.75"/>
<line x1="556.50" y1="442.50" x2="556.50" y2="443.70" stroke="#b3151b" stroke-width="0.7" stroke-opacity="0.75"/>
<line x1="554.66" y1="442.50" x2="557.86" y2="442.50" stroke="#b3151b" stroke-width="0.7" stroke-opacity="0.75"/>
<line x1="554.66" y1="443.50" x2="557.86" y2="443.50" stroke="#b3151b" stroke-width="0.7" stroke-opacity="0.75"/>
<line x1="566.50" y1="436.79" x2="566.50" y2="437.99" stroke="#b3151b" stroke-width="0.7" stroke-opacity="0.75"/>
<line x1="564.79" y1="436.50" x2="567.99" y2="436.50" stroke="#b3151b" stroke-width="0.7" stroke-opacity="0.75"/>
<line x1="564.79" y1="437.50" x2="567.99" y2="437.50" stroke="#b3151b" stroke-width="0.7" stroke-opacity="0.75"/>
<line x1="576.50" y1="431.09" x2="576.50" y2="432.29" stroke="#b3151b" stroke-width="0.7" stroke-opacity="0.75"/>
<line x1="574.92" y1="431.50" x2="578.12" y2="431.50" stroke="#b3151b" stroke-width="0.7" stroke-opacity="0.75"/>
<line x1="574.92" y1="432.50" x2="578.12" y2="432.50" stroke="#b3151b" stroke-width="0.7" stroke-opacity="0.75"/>
<line x1="586.50" y1="425.38" x2="586.50" y2="426.58" stroke="#b3151b" stroke-width="0.7" stroke-opacity="0.75"/>
<line x1="585.05" y1="425.50" x2="588.25" y2="425.50" stroke="#b3151b" stroke-width="0.7" stroke-opacity="0.75"/>
<line x1="585.05" y1="426.50" x2="588.25" y2="426.50" stroke="#b3151b" stroke-width="0.7" stroke-opacity="0.75"/>
<line x1="596.50" y1="419.67" x2="596.50" y2="420.87" stroke="#b3151b" stroke-width="0.7" stroke-opacity="0.75"/>
<line x1="595.18" y1="419.50" x2="598.38" y2="419.50" stroke="#b3151b" stroke-width="0.7" stroke-opacity="0.75"/>
<line x1="595.18" y1="420.50" x2="598.38" y2="420.50" stroke="#b3151b" stroke-width="0.7" stroke-opacity="0.75"/>
<line x1="606.50" y1="413.96" x2="606.50" y2="415.16" stroke="#b3151b" stroke-width="0.7" stroke-opacity="0.75"/>
<line x1="605.31" y1="413.50" x2="608.51" y2="413.50" stroke="#b3151b" stroke-width="0.7" stroke-opacity="0.75"/>
<line x1="605.31" y1="415.50" x2="608.51" y2="415.50" stroke="#b3151b" stroke-width="0.7" stroke-opacity="0.75"/>
<line x1="617.50" y1="408.25" x2="617.50" y2="409.45" stroke="#b3151b" stroke-width="0.7" stroke-opacity="0.75"/>
<line x1="615.44" y1="408.50" x2="618.64" y2="408.50" stroke="#b3151b" stroke-width="0.7" stroke-opacity="0.75"/>
<line x1="615.44" y1="409.50" x2="618.64" y2="409.50" stroke="#b3151b" stroke-width="0.7" stroke-opacity="0.75"/>
<line x1="627.50" y1="402.54" x2="627.50" y2="403.74" stroke="#b3151b" stroke-width="0.7" stroke-opacity="0.75"/>
<line x1="625.57" y1="402.50" x2="628.77" y2="402.50" stroke="#b3151b" stroke-width="0.7" stroke-opacity="0.75"/>
<line x1="625.57" y1="403.50" x2="628.77" y2="403.50" stroke="#b3151b" stroke-width="0.7" stroke-opacity="0.75"/>
<line x1="637.50" y1="396.83" x2="637.50" y2="398.03" stroke="#b3151b" stroke-width="0.7" stroke-opacity="0.75"/>
<line x1="635.70" y1="396.50" x2="638.90" y2="396.50" stroke="#b3151b" stroke-width="0.7" stroke-opacity="0.75"/>
<line x1="635.70" y1="398.50" x2="638.90" y2="398.50" stroke="#b3151b" stroke-width="0.7" stroke-opacity="0.75"/>
<line x1="647.50" y1="391.12" x2="647.50" y2="392.32" stroke="#b3151b" stroke-width="0.7" stroke-opacity="0.75"/>
<line x1="645.83" y1="391.50" x2="649.03" y2="391.50" stroke="#b3151b" stroke-width="0.7" stroke-opacity="0.75"/>
<line x1="645.83" y1="392.50" x2="649.03" y2="392.50" stroke="#b3151b" stroke-width="0.7" stroke-opacity="0.75"/>
<line x1="657.50" y1="385.41" x2="657.50" y2="386.61" stroke="#b3151b" stroke-width="0.7" stroke-opacity="0.75"/>
<line x1="655.96" y1="385.50" x2="659.16" y2="385.50" stroke="#b3151b" stroke-width="0.7" stroke-opacity="0.75"/>
<line x1="655.96" y1="386.50" x2="659.16" y2="386.50" stroke="#b3151b" stroke-width="0.7" stroke-opacity="0.75"/>
<line x1="667.50" y1="379.70" x2="667.50" y2="380.90" stroke="#b3151b" stroke-width="0.7" stroke-opacity="0.75"/>
<line x1="666.09" y1="379.50" x2="669.29" y2="379.50" stroke="#b3151b" stroke-width="0.7" stroke-opacity="0.75"/>
<line x1="666.09" y1="380.50" x2="669.29" y2="380.50" stroke="#b3151b" stroke-width="0.7" stroke-opacity="0.75"/>
<polyline points="536.00,455.60 546.13,448.81 556.26,443.10 566.39,437.39 576.52,431.69 586.65,425.98 596.78,420.27 606.91,414.56 617.04,408.85 627.17,403.14 637.30,397.43 647.43,391.72 657.56,386.01 667.69,380.30" fill="none" stroke="#b3151b" stroke-width="0.9"/>
<polygon points="533.59,457.28 538.41,457.28 536.00,453.29" fill="#b3151b"/>
<polygon points="543.72,450.49 548.54,450.49 546.13,446.50" fill="#b3151b"/>
<polygon points="553.85,444.78 558.67,444.78 556.26,440.79" fill="#b3151b"/>
<polygon points="563.98,439.07 568.80,439.07 566.39,435.08" fill="#b3151b"/>
<polygon points="574.11,433.37 578.93,433.37 576.52,429.38" fill="#b3151b"/>
<polygon points="584.24,427.66 589.06,427.66 586.65,423.67" fill="#b3151b"/>
<polygon points="594.37,421.95 599.19,421.95 596.78,417.96" fill="#b3151b"/>
<polygon points="604.50,416.24 609.32,416.24 606.91,412.25" fill="#b3151b"/>
<polygon points="614.62,410.53 619.45,410.53 617.04,406.54" fill="#b3151b"/>
<polygon points="624.75,404.82 629.58,404.82 627.17,400.83" fill="#b3151b"/>
<polygon points="634.88,399.11 639.71,399.11 637.30,395.12" fill="#b3151b"/>
<polygon points="645.02,393.40 649.85,393.40 647.43,389.41" fill="#b3151b"/>
<polygon points="655.14,387.69 659.97,387.69 657.56,383.70" fill="#b3151b"/>
<polygon points="665.28,381.98 670.11,381.98 667.69,377.99" fill="#b3151b"/>
<line x1="536.50" y1="455.00" x2="536.50" y2="456.20" stroke="#3b7fd4" stroke-width="0.7" stroke-opacity="0.75"/>
<line x1="534.40" y1="455.50" x2="537.60" y2="455.50" stroke="#3b7fd4" stroke-width="0.7" stroke-opacity="0.75"/>
<line x1="534.40" y1="456.50" x2="537.60" y2="456.50" stroke="#3b7fd4" stroke-width="0.7" stroke-opacity="0.75"/>
<line x1="546.50" y1="448.21" x2="546.50" y2="449.41" stroke="#3b7fd4" stroke-width="0.7" stroke-opacity="0.75"/>
<line x1="544.53" y1="448.50" x2="547.73" y2="448.50" stroke="#3b7fd4" stroke-width="0.7" stroke-opacity="0.75"/>
<line x1="544.53" y1="449.50" x2="547.73" y2="449.50" stroke="#3b7fd4" stroke-width="0.7" stroke-opacity="0.75"/>
<line x1="556.50" y1="442.95" x2="556.50" y2="444.15" stroke="#3b7fd4" stroke-width="0.7" stroke-opacity="0.75"/>
<line x1="554.66" y1="442.50" x2="557.86" y2="442.50" stroke="#3b7fd4" stroke-width="0.7" stroke-opacity="0.75"/>
<line x1="554.66" y1="444.50" x2="557.86" y2="444.50" stroke="#3b7fd4" stroke-width="0.7" stroke-opacity="0.75"/>
<line x1="566.50" y1="437.68" x2="566.50" y2="438.88" stroke="#3b7fd4" stroke-width="0.7" stroke-opacity="0.75"/>
<line x1="564.79" y1="437.50" x2="567.99" y2="437.50" stroke="#3b7fd4" stroke-width="0.7" stroke-opacity="0.75"/>
<line x1="564.79" y1="438.50" x2="567.99" y2="438.50" stroke="#3b7fd4" stroke-width="0.7" stroke-opacity="0.75"/>
<line x1="576.50" y1="432.42" x2="576.50" y2="433.62" stroke="#3b7fd4" stroke-width="0.7" stroke-opacity="0.75"/>
<line x1="574.92" y1="432.50" x2="578.12" y2="432.50" stroke="#3b7fd4" stroke-width="0.7" stroke-opacity="0.75"/>
<line x1="574.92" y1="433.50" x2="578.12" y2="433.50" stroke="#3b7fd4" stroke-width="0.7" stroke-opacity="0.75"/>
<line x1="586.50" y1="427.15" x2="586.50" y2="428.35" stroke="#3b7fd4" stroke-width="0.7" stroke-opacity="0.75"/>
<line x1="585.05" y1="427.50" x2="588.25" y2="427.50" stroke="#3b7fd4" stroke-width="0.7" stroke-opacity="0.75"/>
<line x1="585.05" y1="428.50" x2="588.25" y2="428.50" stroke="#3b7fd4" stroke-width="0.7" stroke-opacity="0.75"/>
<line x1="596.50" y1="421.89" x2="596.50" y2="423.09" stroke="#3b7fd4" stroke-width="0.7" stroke-opacity="0.75"/>
<line x1="595.18" y1="421.50" x2="598.38" y2="421.50" stroke="#3b7fd4" stroke-width="0.7" stroke-opacity="0.75"/>
<line x1="595.18" y1="423.50" x2="598.38" y2="423.50" stroke="#3b7fd4" stroke-width="0.7" stroke-opacity="0.75"/>
<line x1="606.50" y1="416.62" x2="606.50" y2="417.82" stroke="#3b7fd4" stroke-width="0.7" stroke-opacity="0.75"/>
<line x1="605.31" y1="416.50" x2="608.51" y2="416.50" stroke="#3b7fd4" stroke-width="0.7" stroke-opacity="0.75"/>
<line x1="605.31" y1="417.50" x2="608.51" y2="417.50" stroke="#3b7fd4" stroke-width="0.7" stroke-opacity="0.75"/>
<line x1="617.50" y1="411.36" x2="617.50" y2="412.56" stroke="#3b7fd4" stroke-width="0.7" stroke-opacity="0.75"/>
<line x1="615.44" y1="411.50" x2="618.64" y2="411.50" stroke="#3b7fd4" stroke-width="0.7" stroke-opacity="0.75"/>
<line x1="615.44" y1="412.50" x2="618.64" y2="412.50" stroke="#3b7fd4" stroke-width="0.7" stroke-opacity="0.75"/>
<line x1="627.50" y1="406.09" x2="627.50" y2="407.29" stroke="#3b7fd4" stroke-width="0.7" stroke-opacity="0.75"/>
<line x1="625.57" y1="406.50" x2="628.77" y2="406.50" stroke="#3b7fd4" stroke-width="0.7" stroke-opacity="0.75"/>
<line x1="625.57" y1="407.50" x2="628.77" y2="407.50" stroke="#3b7fd4" stroke-width="0.7" stroke-opacity="0.75"/>
<line x1="637.50" y1="400.83" x2="637.50" y2="402.03" stroke="#3b7fd4" stroke-width="0.7" stroke-opacity="0.75"/>
<line x1="635.70" y1="400.50" x2="638.90" y2="400.50" stroke="#3b7fd4" stroke-width="0.7" stroke-opacity="0.75"/>
<line x1="635.70" y1="402.50" x2="638.90" y2="402.50" stroke="#3b7fd4" stroke-width="0.7" stroke-opacity="0.75"/>
<line x1="647.50" y1="395.56" x2="647.50" y2="396.76" stroke="#3b7fd4" stroke-width="0.7" stroke-opacity="0.75"/>
<line x1="645.83" y1="395.50" x2="649.03" y2="395.50" stroke="#3b7fd4" stroke-width="0.7" stroke-opacity="0.75"/>
<line x1="645.83" y1="396.50" x2="649.03" y2="396.50" stroke="#3b7fd4" stroke-width="0.7" stroke-opacity="0.75"/>
<line x1="657.50" y1="390.30" x2="657.50" y2="391.50" stroke="#3b7fd4" stroke-width="0.7" stroke-opacity="0.75"/>
<line x1="655.96" y1="390.50" x2="659.16" y2="390.50" stroke="#3b7fd4" stroke-width="0.7" stroke-opacity="0.75"/>
<line x1="655.96" y1="391.50" x2="659.16" y2="391.50" stroke="#3b7fd4" stroke-width="0.7" stroke-opacity="0.75"/>
<line x1="667.50" y1="385.03" x2="667.50" y2="386.23" stroke="#3b7fd4" stroke-width="0.7" stroke-opacity="0.75"/>
<line x1="666.09" y1="385.50" x2="669.29" y2="385.50" stroke="#3b7fd4" stroke-width="0.7" stroke-opacity="0.75"/>
<line x1="666.09" y1="386.50" x2="669.29" y2="386.50" stroke="#3b7fd4" stroke-width="0.7" stroke-opacity="0.75"/>
<polyline points="536.00,455.60 546.13,448.81 556.26,443.55 566.39,438.28 576.52,433.02 586.65,427.75 596.78,422.49 606.91,417.22 617.04,411.96 627.17,406.69 637.30,401.43 647.43,396.16 657.56,390.90 667.69,385.63" fill="none" stroke="#3b7fd4" stroke-width="0.9"/>
<circle cx="536.00" cy="455.60" r="2.00" fill="#3b7fd4"/>
<circle cx="546.13" cy="448.81" r="2.00" fill="#3b7fd4"/>
<circle cx="556.26" cy="443.55" r="2.00" fill="#3b7fd4"/>
<circle cx="566.39" cy="438.28" r="2.00" fill="#3b7fd4"/>
<circle cx="576.52" cy="433.02" r="2.00" fill="#3b7fd4"/>
<circle cx="586.65" cy="427.75" r="2.00" fill="#3b7fd4"/>
<circle cx="596.78" cy="422.49" r="2.00" fill="#3b7fd4"/>
<circle cx="606.91" cy="417.22" r="2.00" fill="#3b7fd4"/>
<circle cx="617.04" cy="411.96" r="2.00" fill="#3b7fd4"/>
<circle cx="627.17" cy="406.69" r="2.00" fill="#3b7fd4"/>
<circle cx="637.30" cy="401.43" r="2.00" fill="#3b7fd4"/>
<circle cx="647.43" cy="396.16" r="2.00" fill="#3b7fd4"/>
<circle cx="657.56" cy="390.90" r="2.00" fill="#3b7fd4"/>
<circle cx="667.69" cy="385.63" r="2.00" fill="#3b7fd4"/>
<text x="586.30" y="452.80" font-size="7.5" text-anchor="middle" fill="#222">+</text>
<line x1="590.80" y1="450.00" x2="605.90" y2="450.00" stroke="#222" stroke-width="1.9"/>
<circle cx="647.2" cy="443.7" r="0.8" fill="#3b7fd4"/>
<line x1="651.20" y1="443.70" x2="667.70" y2="443.70" stroke="#3b7fd4" stroke-width="1.9"/>
<text x="647.2" y="453.4" font-size="6" fill="#b3151b" text-anchor="middle">*</text>
<text x="0.00" y="508.20" font-size="12.5" fill="#111" font-weight="bold" stroke="#111" stroke-width="0.4">h</text>
<text x="59.70" y="510.70" font-size="8.8" textLength="37.50" lengthAdjust="spacingAndGlyphs">Forebrain</text>
<line x1="49.50" y1="524.70" x2="49.50" y2="613.60" stroke="#8a8a8a" stroke-width="1"/>
<line x1="49.00" y1="613.50" x2="108.70" y2="613.50" stroke="#8a8a8a" stroke-width="1"/>
<line x1="45.50" y1="524.50" x2="49.00" y2="524.50" stroke="#8a8a8a" stroke-width="1"/>
<text x="43.50" y="526.80" font-size="6.4" text-anchor="end">1,000,000</text>
<line x1="45.50" y1="542.50" x2="49.00" y2="542.50" stroke="#8a8a8a" stroke-width="1"/>
<text x="43.50" y="544.58" font-size="6.4" text-anchor="end">100,000</text>
<line x1="45.50" y1="560.50" x2="49.00" y2="560.50" stroke="#8a8a8a" stroke-width="1"/>
<text x="43.50" y="562.36" font-size="6.4" text-anchor="end">10,000</text>
<line x1="45.50" y1="578.50" x2="49.00" y2="578.50" stroke="#8a8a8a" stroke-width="1"/>
<text x="43.50" y="580.14" font-size="6.4" text-anchor="end">1,000</text>
<line x1="45.50" y1="595.50" x2="49.00" y2="595.50" stroke="#8a8a8a" stroke-width="1"/>
<text x="43.50" y="597.92" font-size="6.4" text-anchor="end">100</text>
<line x1="45.50" y1="613.50" x2="49.00" y2="613.50" stroke="#8a8a8a" stroke-width="1"/>
<text x="43.50" y="615.70" font-size="6.4" text-anchor="end">10</text>
<line x1="65.50" y1="613.60" x2="65.50" y2="617.10" stroke="#8a8a8a" stroke-width="1"/>
<line x1="91.50" y1="613.60" x2="91.50" y2="617.10" stroke="#8a8a8a" stroke-width="1"/>
<text x="0" y="0" font-size="7.7" text-anchor="end" transform="translate(70.90 623.20) rotate(-45)">Central</text>
<text x="0" y="0" font-size="7.7" text-anchor="end" textLength="29.6" lengthAdjust="spacingAndGlyphs" transform="translate(94.20 623.20) rotate(-45)">Systemic</text>
<text x="0" y="0" font-size="7.2" text-anchor="middle" transform="translate(9.60 568.5) rotate(-90)" textLength="93.7" lengthAdjust="spacingAndGlyphs">mGIPR-Ab exposure (ng g<tspan dy="-2.6" font-size="5">−1</tspan><tspan dy="2.6">)</tspan></text>
<line x1="65.50" y1="542.50" x2="91.40" y2="542.50" stroke="#777" stroke-width="0.8"/>
<line x1="65.50" y1="542.40" x2="65.50" y2="550.50" stroke="#777" stroke-width="0.8"/>
<line x1="91.50" y1="542.40" x2="91.50" y2="574.80" stroke="#777" stroke-width="0.8"/>
<text x="77.50" y="538.60" font-size="6.2" text-anchor="middle"><tspan font-style="italic">P</tspan> = 0.01</text>
<circle cx="65.50" cy="556.88" r="1.50" fill="#3b7fd4"/>
<circle cx="65.50" cy="563.47" r="1.50" fill="#3b7fd4"/>
<circle cx="65.50" cy="566.78" r="1.50" fill="#3b7fd4"/>
<circle cx="70.72" cy="567.34" r="1.50" fill="#3b7fd4"/>
<circle cx="60.28" cy="567.73" r="1.50" fill="#3b7fd4"/>
<circle cx="73.50" cy="567.94" r="1.50" fill="#3b7fd4"/>
<circle cx="73.50" cy="568.15" r="1.50" fill="#3b7fd4"/>
<circle cx="65.50" cy="572.13" r="1.50" fill="#3b7fd4"/>
<circle cx="70.72" cy="572.31" r="1.50" fill="#3b7fd4"/>
<circle cx="60.28" cy="572.31" r="1.50" fill="#3b7fd4"/>
<circle cx="73.50" cy="572.50" r="1.50" fill="#3b7fd4"/>
<circle cx="73.50" cy="572.50" r="1.50" fill="#3b7fd4"/>
<circle cx="73.50" cy="572.69" r="1.50" fill="#3b7fd4"/>
<circle cx="73.50" cy="572.69" r="1.50" fill="#3b7fd4"/>
<circle cx="73.50" cy="572.88" r="1.50" fill="#3b7fd4"/>
<circle cx="73.50" cy="573.08" r="1.50" fill="#3b7fd4"/>
<circle cx="73.50" cy="573.50" r="1.50" fill="#3b7fd4"/>
<circle cx="68.11" cy="573.94" r="1.50" fill="#3b7fd4"/>
<circle cx="65.50" cy="578.60" r="1.50" fill="#3b7fd4"/>
<circle cx="70.72" cy="578.85" r="1.50" fill="#3b7fd4"/>
<rect x="81.35" y="578.26" width="2.50" height="2.50" fill="#b3151b"/>
<polygon points="82.65,581.37 85.52,581.37 84.08,579.00" fill="#b3151b"/>
<rect x="84.20" y="578.10" width="2.50" height="2.50" fill="#b3151b"/>
<polygon points="85.51,579.74 88.38,579.74 86.95,577.36" fill="#b3151b"/>
<rect x="86.69" y="577.84" width="2.50" height="2.50" fill="#b3151b"/>
<polygon points="87.41,581.51 90.28,581.51 88.84,579.14" fill="#b3151b"/>
<rect x="88.86" y="578.32" width="2.50" height="2.50" fill="#b3151b"/>
<polygon points="89.78,579.06 92.65,579.06 91.21,576.68" fill="#b3151b"/>
<rect x="90.62" y="578.98" width="2.50" height="2.50" fill="#b3151b"/>
<polygon points="91.93,580.17 94.80,580.17 93.36,577.79" fill="#b3151b"/>
<rect x="92.59" y="577.65" width="2.50" height="2.50" fill="#b3151b"/>
<polygon points="93.75,579.30 96.63,579.30 95.19,576.92" fill="#b3151b"/>
<rect x="95.65" y="578.43" width="2.50" height="2.50" fill="#b3151b"/>
<polygon points="96.08,579.47 98.96,579.47 97.52,577.09" fill="#b3151b"/>
<rect x="97.13" y="577.82" width="2.50" height="2.50" fill="#b3151b"/>
<polygon points="97.84,579.86 100.71,579.86 99.27,577.49" fill="#b3151b"/>
<text x="115.60" y="508.20" font-size="12.5" fill="#111" font-weight="bold" stroke="#111" stroke-width="0.4">i</text>
<text x="173.60" y="510.70" font-size="8.8" textLength="38.20" lengthAdjust="spacingAndGlyphs">Hindbrain</text>
<line x1="163.50" y1="524.70" x2="163.50" y2="613.60" stroke="#8a8a8a" stroke-width="1"/>
<line x1="163.20" y1="613.50" x2="222.90" y2="613.50" stroke="#8a8a8a" stroke-width="1"/>
<line x1="159.70" y1="524.50" x2="163.20" y2="524.50" stroke="#8a8a8a" stroke-width="1"/>
<text x="157.70" y="526.80" font-size="6.4" text-anchor="end">1,000,000</text>
<line x1="159.70" y1="542.50" x2="163.20" y2="542.50" stroke="#8a8a8a" stroke-width="1"/>
<text x="157.70" y="544.58" font-size="6.4" text-anchor="end">100,000</text>
<line x1="159.70" y1="560.50" x2="163.20" y2="560.50" stroke="#8a8a8a" stroke-width="1"/>
<text x="157.70" y="562.36" font-size="6.4" text-anchor="end">10,000</text>
<line x1="159.70" y1="578.50" x2="163.20" y2="578.50" stroke="#8a8a8a" stroke-width="1"/>
<text x="157.70" y="580.14" font-size="6.4" text-anchor="end">1,000</text>
<line x1="159.70" y1="595.50" x2="163.20" y2="595.50" stroke="#8a8a8a" stroke-width="1"/>
<text x="157.70" y="597.92" font-size="6.4" text-anchor="end">100</text>
<line x1="159.70" y1="613.50" x2="163.20" y2="613.50" stroke="#8a8a8a" stroke-width="1"/>
<text x="157.70" y="615.70" font-size="6.4" text-anchor="end">10</text>
<line x1="179.50" y1="613.60" x2="179.50" y2="617.10" stroke="#8a8a8a" stroke-width="1"/>
<line x1="205.50" y1="613.60" x2="205.50" y2="617.10" stroke="#8a8a8a" stroke-width="1"/>
<text x="0" y="0" font-size="7.7" text-anchor="end" transform="translate(185.30 623.20) rotate(-45)">Central</text>
<text x="0" y="0" font-size="7.7" text-anchor="end" textLength="29.6" lengthAdjust="spacingAndGlyphs" transform="translate(208.10 623.20) rotate(-45)">Systemic</text>
<text x="0" y="0" font-size="7.2" text-anchor="middle" transform="translate(120.60 568.5) rotate(-90)" textLength="93.7" lengthAdjust="spacingAndGlyphs">mGIPR-Ab exposure (ng g<tspan dy="-2.6" font-size="5">−1</tspan><tspan dy="2.6">)</tspan></text>
<line x1="179.90" y1="553.50" x2="205.30" y2="553.50" stroke="#777" stroke-width="0.8"/>
<line x1="179.50" y1="553.30" x2="179.50" y2="574.40" stroke="#777" stroke-width="0.8"/>
<line x1="205.50" y1="553.30" x2="205.50" y2="568.80" stroke="#777" stroke-width="0.8"/>
<text x="192.80" y="550.60" font-size="6.2" text-anchor="middle">P &lt; 0.0001</text>
<circle cx="179.90" cy="581.92" r="1.50" fill="#3b7fd4"/>
<circle cx="179.90" cy="588.15" r="1.50" fill="#3b7fd4"/>
<circle cx="185.12" cy="589.06" r="1.50" fill="#3b7fd4"/>
<circle cx="182.51" cy="590.47" r="1.50" fill="#3b7fd4"/>
<circle cx="177.29" cy="590.86" r="1.50" fill="#3b7fd4"/>
<circle cx="187.73" cy="591.07" r="1.50" fill="#3b7fd4"/>
<circle cx="172.07" cy="591.28" r="1.50" fill="#3b7fd4"/>
<circle cx="187.90" cy="591.50" r="1.50" fill="#3b7fd4"/>
<circle cx="179.90" cy="592.19" r="1.50" fill="#3b7fd4"/>
<circle cx="185.12" cy="592.69" r="1.50" fill="#3b7fd4"/>
<circle cx="174.68" cy="593.22" r="1.50" fill="#3b7fd4"/>
<circle cx="182.51" cy="594.41" r="1.50" fill="#3b7fd4"/>
<circle cx="177.29" cy="595.08" r="1.50" fill="#3b7fd4"/>
<circle cx="179.90" cy="598.04" r="1.50" fill="#3b7fd4"/>
<circle cx="185.12" cy="598.36" r="1.50" fill="#3b7fd4"/>
<circle cx="174.68" cy="598.36" r="1.50" fill="#3b7fd4"/>
<rect x="195.76" y="579.01" width="2.50" height="2.50" fill="#b3151b"/>
<polygon points="196.43,582.13 199.31,582.13 197.87,579.75" fill="#b3151b"/>
<rect x="198.24" y="579.44" width="2.50" height="2.50" fill="#b3151b"/>
<polygon points="198.83,581.88 201.71,581.88 200.27,579.51" fill="#b3151b"/>
<rect x="200.46" y="579.00" width="2.50" height="2.50" fill="#b3151b"/>
<polygon points="200.62,580.88 203.50,580.88 202.06,578.50" fill="#b3151b"/>
<rect x="202.95" y="578.91" width="2.50" height="2.50" fill="#b3151b"/>
<polygon points="203.16,581.34 206.04,581.34 204.60,578.97" fill="#b3151b"/>
<rect x="204.17" y="578.31" width="2.50" height="2.50" fill="#b3151b"/>
<polygon points="205.86,580.93 208.73,580.93 207.30,578.56" fill="#b3151b"/>
<rect x="206.68" y="579.99" width="2.50" height="2.50" fill="#b3151b"/>
<polygon points="207.76,580.88 210.64,580.88 209.20,578.51" fill="#b3151b"/>
<rect x="208.53" y="579.01" width="2.50" height="2.50" fill="#b3151b"/>
<polygon points="209.94,580.44 212.82,580.44 211.38,578.07" fill="#b3151b"/>
<rect x="211.76" y="579.08" width="2.50" height="2.50" fill="#b3151b"/>
<polygon points="212.21,581.95 215.09,581.95 213.65,579.57" fill="#b3151b"/>
<text x="230.80" y="508.20" font-size="12.5" fill="#111" font-weight="bold" stroke="#111" stroke-width="0.4">j</text>
<text x="285.60" y="510.70" font-size="8.8" textLength="41.70" lengthAdjust="spacingAndGlyphs">Total brain</text>
<line x1="277.50" y1="524.70" x2="277.50" y2="613.60" stroke="#8a8a8a" stroke-width="1"/>
<line x1="277.80" y1="613.50" x2="337.90" y2="613.50" stroke="#8a8a8a" stroke-width="1"/>
<line x1="274.30" y1="524.50" x2="277.80" y2="524.50" stroke="#8a8a8a" stroke-width="1"/>
<text x="272.30" y="526.80" font-size="6.4" text-anchor="end">1,000,000</text>
<line x1="274.30" y1="542.50" x2="277.80" y2="542.50" stroke="#8a8a8a" stroke-width="1"/>
<text x="272.30" y="544.58" font-size="6.4" text-anchor="end">100,000</text>
<line x1="274.30" y1="560.50" x2="277.80" y2="560.50" stroke="#8a8a8a" stroke-width="1"/>
<text x="272.30" y="562.36" font-size="6.4" text-anchor="end">10,000</text>
<line x1="274.30" y1="578.50" x2="277.80" y2="578.50" stroke="#8a8a8a" stroke-width="1"/>
<text x="272.30" y="580.14" font-size="6.4" text-anchor="end">1,000</text>
<line x1="274.30" y1="595.50" x2="277.80" y2="595.50" stroke="#8a8a8a" stroke-width="1"/>
<text x="272.30" y="597.92" font-size="6.4" text-anchor="end">100</text>
<line x1="274.30" y1="613.50" x2="277.80" y2="613.50" stroke="#8a8a8a" stroke-width="1"/>
<text x="272.30" y="615.70" font-size="6.4" text-anchor="end">10</text>
<line x1="293.50" y1="613.60" x2="293.50" y2="617.10" stroke="#8a8a8a" stroke-width="1"/>
<line x1="319.50" y1="613.60" x2="319.50" y2="617.10" stroke="#8a8a8a" stroke-width="1"/>
<text x="0" y="0" font-size="7.7" text-anchor="end" transform="translate(299.10 623.20) rotate(-45)">Central</text>
<text x="0" y="0" font-size="7.7" text-anchor="end" textLength="29.6" lengthAdjust="spacingAndGlyphs" transform="translate(322.70 623.20) rotate(-45)">Systemic</text>
<text x="0" y="0" font-size="7.2" text-anchor="middle" transform="translate(235.50 568.5) rotate(-90)" textLength="93.7" lengthAdjust="spacingAndGlyphs">mGIPR-Ab exposure (ng g<tspan dy="-2.6" font-size="5">−1</tspan><tspan dy="2.6">)</tspan></text>
<line x1="293.70" y1="539.50" x2="319.90" y2="539.50" stroke="#777" stroke-width="0.8"/>
<line x1="293.50" y1="539.00" x2="293.50" y2="549.60" stroke="#777" stroke-width="0.8"/>
<line x1="319.50" y1="539.00" x2="319.50" y2="565.80" stroke="#777" stroke-width="0.8"/>
<text x="306.00" y="535.60" font-size="6.2" text-anchor="middle">ns</text>
<circle cx="293.70" cy="556.63" r="1.50" fill="#3b7fd4"/>
<circle cx="293.70" cy="563.24" r="1.50" fill="#3b7fd4"/>
<circle cx="293.70" cy="566.43" r="1.50" fill="#3b7fd4"/>
<circle cx="298.92" cy="566.96" r="1.50" fill="#3b7fd4"/>
<circle cx="291.09" cy="567.73" r="1.50" fill="#3b7fd4"/>
<circle cx="285.87" cy="568.15" r="1.50" fill="#3b7fd4"/>
<circle cx="296.31" cy="568.59" r="1.50" fill="#3b7fd4"/>
<circle cx="293.70" cy="572.31" r="1.50" fill="#3b7fd4"/>
<circle cx="298.92" cy="572.50" r="1.50" fill="#3b7fd4"/>
<circle cx="288.48" cy="572.69" r="1.50" fill="#3b7fd4"/>
<circle cx="301.70" cy="572.69" r="1.50" fill="#3b7fd4"/>
<circle cx="301.70" cy="572.88" r="1.50" fill="#3b7fd4"/>
<circle cx="301.70" cy="573.08" r="1.50" fill="#3b7fd4"/>
<circle cx="301.70" cy="573.08" r="1.50" fill="#3b7fd4"/>
<circle cx="293.70" cy="576.96" r="1.50" fill="#3b7fd4"/>
<circle cx="298.92" cy="577.30" r="1.50" fill="#3b7fd4"/>
<rect x="309.81" y="571.35" width="2.50" height="2.50" fill="#b3151b"/>
<polygon points="311.16,573.65 314.03,573.65 312.60,571.28" fill="#b3151b"/>
<rect x="313.04" y="571.22" width="2.50" height="2.50" fill="#b3151b"/>
<polygon points="313.53,574.24 316.40,574.24 314.96,571.86" fill="#b3151b"/>
<rect x="315.20" y="571.54" width="2.50" height="2.50" fill="#b3151b"/>
<polygon points="315.50,574.24 318.38,574.24 316.94,571.87" fill="#b3151b"/>
<rect x="316.68" y="571.13" width="2.50" height="2.50" fill="#b3151b"/>
<polygon points="317.83,573.60 320.71,573.60 319.27,571.23" fill="#b3151b"/>
<rect x="319.32" y="571.31" width="2.50" height="2.50" fill="#b3151b"/>
<polygon points="319.90,574.54 322.78,574.54 321.34,572.17" fill="#b3151b"/>
<rect x="321.90" y="571.37" width="2.50" height="2.50" fill="#b3151b"/>
<polygon points="321.91,575.43 324.78,575.43 323.34,573.05" fill="#b3151b"/>
<rect x="323.06" y="573.49" width="2.50" height="2.50" fill="#b3151b"/>
<polygon points="324.64,574.06 327.51,574.06 326.07,571.69" fill="#b3151b"/>
<rect x="326.25" y="573.12" width="2.50" height="2.50" fill="#b3151b"/>
<polygon points="326.57,575.46 329.45,575.46 328.01,573.08" fill="#b3151b"/>
<text x="343.30" y="508.20" font-size="12.5" fill="#111" font-weight="bold" stroke="#111" stroke-width="0.4">k</text>
<text x="406.00" y="510.70" font-size="8.8" textLength="27.70" lengthAdjust="spacingAndGlyphs">Plasma</text>
<line x1="389.50" y1="524.70" x2="389.50" y2="613.60" stroke="#8a8a8a" stroke-width="1"/>
<line x1="389.70" y1="613.50" x2="450.60" y2="613.50" stroke="#8a8a8a" stroke-width="1"/>
<line x1="386.20" y1="524.50" x2="389.70" y2="524.50" stroke="#8a8a8a" stroke-width="1"/>
<text x="384.20" y="526.80" font-size="6.4" text-anchor="end">1,000,000</text>
<line x1="386.20" y1="542.50" x2="389.70" y2="542.50" stroke="#8a8a8a" stroke-width="1"/>
<text x="384.20" y="544.58" font-size="6.4" text-anchor="end">100,000</text>
<line x1="386.20" y1="560.50" x2="389.70" y2="560.50" stroke="#8a8a8a" stroke-width="1"/>
<text x="384.20" y="562.36" font-size="6.4" text-anchor="end">10,000</text>
<line x1="386.20" y1="578.50" x2="389.70" y2="578.50" stroke="#8a8a8a" stroke-width="1"/>
<text x="384.20" y="580.14" font-size="6.4" text-anchor="end">1,000</text>
<line x1="386.20" y1="595.50" x2="389.70" y2="595.50" stroke="#8a8a8a" stroke-width="1"/>
<text x="384.20" y="597.92" font-size="6.4" text-anchor="end">100</text>
<line x1="386.20" y1="613.50" x2="389.70" y2="613.50" stroke="#8a8a8a" stroke-width="1"/>
<text x="384.20" y="615.70" font-size="6.4" text-anchor="end">10</text>
<line x1="406.50" y1="613.60" x2="406.50" y2="617.10" stroke="#8a8a8a" stroke-width="1"/>
<line x1="432.50" y1="613.60" x2="432.50" y2="617.10" stroke="#8a8a8a" stroke-width="1"/>
<text x="0" y="0" font-size="7.7" text-anchor="end" transform="translate(412.00 623.20) rotate(-45)">Central</text>
<text x="0" y="0" font-size="7.7" text-anchor="end" textLength="29.6" lengthAdjust="spacingAndGlyphs" transform="translate(434.90 623.20) rotate(-45)">Systemic</text>
<text x="0" y="0" font-size="7.2" text-anchor="middle" transform="translate(348.30 568.5) rotate(-90)" textLength="93.7" lengthAdjust="spacingAndGlyphs">mGIPR-Ab exposure (ng ml<tspan dy="-2.6" font-size="5">−1</tspan><tspan dy="2.6">)</tspan></text>
<line x1="406.60" y1="524.50" x2="432.10" y2="524.50" stroke="#777" stroke-width="0.8"/>
<line x1="406.50" y1="524.80" x2="406.50" y2="546.10" stroke="#777" stroke-width="0.8"/>
<line x1="432.50" y1="524.80" x2="432.50" y2="526.80" stroke="#777" stroke-width="0.8"/>
<text x="418.60" y="521.60" font-size="6.2" text-anchor="middle"><tspan font-style="italic">P</tspan> &lt; 0.0001</text>
<circle cx="406.60" cy="552.59" r="1.50" fill="#3b7fd4"/>
<circle cx="409.21" cy="554.17" r="1.50" fill="#3b7fd4"/>
<circle cx="406.60" cy="555.72" r="1.50" fill="#3b7fd4"/>
<circle cx="411.82" cy="556.63" r="1.50" fill="#3b7fd4"/>
<circle cx="403.99" cy="557.13" r="1.50" fill="#3b7fd4"/>
<circle cx="398.77" cy="557.39" r="1.50" fill="#3b7fd4"/>
<circle cx="414.60" cy="557.50" r="1.50" fill="#3b7fd4"/>
<circle cx="414.60" cy="557.66" r="1.50" fill="#3b7fd4"/>
<circle cx="414.60" cy="557.66" r="1.50" fill="#3b7fd4"/>
<circle cx="409.21" cy="557.94" r="1.50" fill="#3b7fd4"/>
<circle cx="414.60" cy="558.23" r="1.50" fill="#3b7fd4"/>
<circle cx="401.38" cy="558.85" r="1.50" fill="#3b7fd4"/>
<circle cx="406.60" cy="560.26" r="1.50" fill="#3b7fd4"/>
<circle cx="411.82" cy="561.07" r="1.50" fill="#3b7fd4"/>
<circle cx="409.21" cy="562.48" r="1.50" fill="#3b7fd4"/>
<circle cx="403.99" cy="562.69" r="1.50" fill="#3b7fd4"/>
<rect x="423.10" y="531.91" width="2.50" height="2.50" fill="#b3151b"/>
<polygon points="423.08,535.24 425.96,535.24 424.52,532.87" fill="#b3151b"/>
<rect x="424.66" y="532.53" width="2.50" height="2.50" fill="#b3151b"/>
<polygon points="425.12,533.16 428.00,533.16 426.56,530.79" fill="#b3151b"/>
<rect x="427.54" y="532.60" width="2.50" height="2.50" fill="#b3151b"/>
<polygon points="427.32,533.96 430.20,533.96 428.76,531.59" fill="#b3151b"/>
<rect x="429.10" y="531.08" width="2.50" height="2.50" fill="#b3151b"/>
<polygon points="429.63,533.55 432.51,533.55 431.07,531.18" fill="#b3151b"/>
<rect x="430.97" y="530.98" width="2.50" height="2.50" fill="#b3151b"/>
<polygon points="432.76,533.66 435.63,533.66 434.20,531.28" fill="#b3151b"/>
<rect x="433.37" y="531.52" width="2.50" height="2.50" fill="#b3151b"/>
<polygon points="434.06,535.07 436.94,535.07 435.50,532.70" fill="#b3151b"/>
<rect x="435.85" y="532.20" width="2.50" height="2.50" fill="#b3151b"/>
<polygon points="437.34,533.02 440.21,533.02 438.77,530.65" fill="#b3151b"/>
<rect x="438.13" y="531.73" width="2.50" height="2.50" fill="#b3151b"/>
<polygon points="439.28,534.31 442.16,534.31 440.72,531.93" fill="#b3151b"/>
<text x="457.30" y="508.20" font-size="12.5" fill="#111" font-weight="bold" stroke="#111" stroke-width="0.4">l</text>
<text x="506.40" y="510.70" font-size="8.8" textLength="50.90" lengthAdjust="spacingAndGlyphs">Inguinal WAT</text>
<line x1="503.50" y1="524.70" x2="503.50" y2="613.60" stroke="#8a8a8a" stroke-width="1"/>
<line x1="503.60" y1="613.50" x2="563.70" y2="613.50" stroke="#8a8a8a" stroke-width="1"/>
<line x1="500.10" y1="524.50" x2="503.60" y2="524.50" stroke="#8a8a8a" stroke-width="1"/>
<text x="498.10" y="526.80" font-size="6.4" text-anchor="end">1,000,000</text>
<line x1="500.10" y1="542.50" x2="503.60" y2="542.50" stroke="#8a8a8a" stroke-width="1"/>
<text x="498.10" y="544.58" font-size="6.4" text-anchor="end">100,000</text>
<line x1="500.10" y1="560.50" x2="503.60" y2="560.50" stroke="#8a8a8a" stroke-width="1"/>
<text x="498.10" y="562.36" font-size="6.4" text-anchor="end">10,000</text>
<line x1="500.10" y1="578.50" x2="503.60" y2="578.50" stroke="#8a8a8a" stroke-width="1"/>
<text x="498.10" y="580.14" font-size="6.4" text-anchor="end">1,000</text>
<line x1="500.10" y1="595.50" x2="503.60" y2="595.50" stroke="#8a8a8a" stroke-width="1"/>
<text x="498.10" y="597.92" font-size="6.4" text-anchor="end">100</text>
<line x1="500.10" y1="613.50" x2="503.60" y2="613.50" stroke="#8a8a8a" stroke-width="1"/>
<text x="498.10" y="615.70" font-size="6.4" text-anchor="end">10</text>
<line x1="520.50" y1="613.60" x2="520.50" y2="617.10" stroke="#8a8a8a" stroke-width="1"/>
<line x1="545.50" y1="613.60" x2="545.50" y2="617.10" stroke="#8a8a8a" stroke-width="1"/>
<text x="0" y="0" font-size="7.7" text-anchor="end" transform="translate(525.90 623.20) rotate(-45)">Central</text>
<text x="0" y="0" font-size="7.7" text-anchor="end" textLength="29.6" lengthAdjust="spacingAndGlyphs" transform="translate(548.70 623.20) rotate(-45)">Systemic</text>
<text x="0" y="0" font-size="7.2" text-anchor="middle" transform="translate(461.00 568.5) rotate(-90)" textLength="93.7" lengthAdjust="spacingAndGlyphs">mGIPR-Ab exposure (ng g<tspan dy="-2.6" font-size="5">−1</tspan><tspan dy="2.6">)</tspan></text>
<line x1="520.50" y1="549.50" x2="545.90" y2="549.50" stroke="#777" stroke-width="0.8"/>
<line x1="520.50" y1="549.40" x2="520.50" y2="578.70" stroke="#777" stroke-width="0.8"/>
<line x1="545.50" y1="549.40" x2="545.50" y2="556.80" stroke="#777" stroke-width="0.8"/>
<text x="532.50" y="546.00" font-size="6.2" text-anchor="middle">P &lt; 0.0001</text>
<circle cx="520.50" cy="587.60" r="1.50" fill="#3b7fd4"/>
<circle cx="525.72" cy="588.44" r="1.50" fill="#3b7fd4"/>
<circle cx="517.89" cy="589.39" r="1.50" fill="#3b7fd4"/>
<circle cx="523.11" cy="590.47" r="1.50" fill="#3b7fd4"/>
<circle cx="515.28" cy="591.28" r="1.50" fill="#3b7fd4"/>
<circle cx="520.50" cy="592.19" r="1.50" fill="#3b7fd4"/>
<circle cx="525.72" cy="592.69" r="1.50" fill="#3b7fd4"/>
<circle cx="512.67" cy="592.95" r="1.50" fill="#3b7fd4"/>
<circle cx="528.50" cy="593.22" r="1.50" fill="#3b7fd4"/>
<circle cx="517.89" cy="593.50" r="1.50" fill="#3b7fd4"/>
<circle cx="528.50" cy="593.79" r="1.50" fill="#3b7fd4"/>
<circle cx="523.11" cy="594.10" r="1.50" fill="#3b7fd4"/>
<circle cx="528.50" cy="594.41" r="1.50" fill="#3b7fd4"/>
<circle cx="515.28" cy="595.08" r="1.50" fill="#3b7fd4"/>
<circle cx="520.50" cy="596.63" r="1.50" fill="#3b7fd4"/>
<circle cx="525.72" cy="597.54" r="1.50" fill="#3b7fd4"/>
<rect x="536.83" y="562.36" width="2.50" height="2.50" fill="#b3151b"/>
<polygon points="537.64,564.82 540.51,564.82 539.08,562.44" fill="#b3151b"/>
<rect x="538.85" y="562.70" width="2.50" height="2.50" fill="#b3151b"/>
<polygon points="539.61,565.63 542.49,565.63 541.05,563.26" fill="#b3151b"/>
<rect x="540.18" y="563.63" width="2.50" height="2.50" fill="#b3151b"/>
<polygon points="541.28,565.35 544.16,565.35 542.72,562.97" fill="#b3151b"/>
<rect x="543.38" y="563.44" width="2.50" height="2.50" fill="#b3151b"/>
<polygon points="544.21,564.80 547.09,564.80 545.65,562.42" fill="#b3151b"/>
<rect x="545.19" y="562.27" width="2.50" height="2.50" fill="#b3151b"/>
<polygon points="546.11,564.41 548.99,564.41 547.55,562.03" fill="#b3151b"/>
<rect x="547.93" y="562.51" width="2.50" height="2.50" fill="#b3151b"/>
<polygon points="548.46,565.42 551.34,565.42 549.90,563.05" fill="#b3151b"/>
<rect x="549.54" y="564.10" width="2.50" height="2.50" fill="#b3151b"/>
<polygon points="550.72,566.03 553.59,566.03 552.15,563.66" fill="#b3151b"/>
<rect x="551.46" y="562.20" width="2.50" height="2.50" fill="#b3151b"/>
<polygon points="552.23,566.07 555.10,566.07 553.67,563.70" fill="#b3151b"/>
<polygon points="542.06,571.09 544.94,571.09 543.50,568.71" fill="#b3151b"/>
<text x="575.60" y="508.20" font-size="12.5" fill="#111" font-weight="bold" stroke="#111" stroke-width="0.4">m</text>
<text x="620.40" y="510.70" font-size="8.8" textLength="63.40" lengthAdjust="spacingAndGlyphs">Epididymal WAT</text>
<line x1="622.50" y1="524.70" x2="622.50" y2="613.60" stroke="#8a8a8a" stroke-width="1"/>
<line x1="622.00" y1="613.50" x2="682.90" y2="613.50" stroke="#8a8a8a" stroke-width="1"/>
<line x1="618.50" y1="524.50" x2="622.00" y2="524.50" stroke="#8a8a8a" stroke-width="1"/>
<text x="616.50" y="526.80" font-size="6.4" text-anchor="end">1,000,000</text>
<line x1="618.50" y1="542.50" x2="622.00" y2="542.50" stroke="#8a8a8a" stroke-width="1"/>
<text x="616.50" y="544.58" font-size="6.4" text-anchor="end">100,000</text>
<line x1="618.50" y1="560.50" x2="622.00" y2="560.50" stroke="#8a8a8a" stroke-width="1"/>
<text x="616.50" y="562.36" font-size="6.4" text-anchor="end">10,000</text>
<line x1="618.50" y1="578.50" x2="622.00" y2="578.50" stroke="#8a8a8a" stroke-width="1"/>
<text x="616.50" y="580.14" font-size="6.4" text-anchor="end">1,000</text>
<line x1="618.50" y1="595.50" x2="622.00" y2="595.50" stroke="#8a8a8a" stroke-width="1"/>
<text x="616.50" y="597.92" font-size="6.4" text-anchor="end">100</text>
<line x1="618.50" y1="613.50" x2="622.00" y2="613.50" stroke="#8a8a8a" stroke-width="1"/>
<text x="616.50" y="615.70" font-size="6.4" text-anchor="end">10</text>
<line x1="639.50" y1="613.60" x2="639.50" y2="617.10" stroke="#8a8a8a" stroke-width="1"/>
<line x1="664.50" y1="613.60" x2="664.50" y2="617.10" stroke="#8a8a8a" stroke-width="1"/>
<text x="0" y="0" font-size="7.7" text-anchor="end" transform="translate(644.90 623.20) rotate(-45)">Central</text>
<text x="0" y="0" font-size="7.7" text-anchor="end" textLength="29.6" lengthAdjust="spacingAndGlyphs" transform="translate(667.70 623.20) rotate(-45)">Systemic</text>
<text x="0" y="0" font-size="7.2" text-anchor="middle" transform="translate(580.60 568.5) rotate(-90)" textLength="93.7" lengthAdjust="spacingAndGlyphs">mGIPR-Ab exposure (ng g<tspan dy="-2.6" font-size="5">−1</tspan><tspan dy="2.6">)</tspan></text>
<line x1="639.50" y1="527.50" x2="664.90" y2="527.50" stroke="#777" stroke-width="0.8"/>
<line x1="639.50" y1="527.40" x2="639.50" y2="568.60" stroke="#777" stroke-width="0.8"/>
<line x1="664.50" y1="527.40" x2="664.50" y2="533.90" stroke="#777" stroke-width="0.8"/>
<text x="652.10" y="523.30" font-size="6.2" text-anchor="middle"><tspan font-style="italic">P</tspan> &lt; 0.0001</text>
<circle cx="639.50" cy="582.66" r="1.50" fill="#3b7fd4"/>
<circle cx="639.50" cy="586.60" r="1.50" fill="#3b7fd4"/>
<circle cx="644.72" cy="587.08" r="1.50" fill="#3b7fd4"/>
<circle cx="634.28" cy="587.60" r="1.50" fill="#3b7fd4"/>
<circle cx="647.50" cy="588.15" r="1.50" fill="#3b7fd4"/>
<circle cx="642.11" cy="588.44" r="1.50" fill="#3b7fd4"/>
<circle cx="647.50" cy="588.74" r="1.50" fill="#3b7fd4"/>
<circle cx="647.50" cy="588.74" r="1.50" fill="#3b7fd4"/>
<circle cx="636.89" cy="589.06" r="1.50" fill="#3b7fd4"/>
<circle cx="631.67" cy="589.39" r="1.50" fill="#3b7fd4"/>
<circle cx="647.50" cy="589.73" r="1.50" fill="#3b7fd4"/>
<circle cx="647.50" cy="590.09" r="1.50" fill="#3b7fd4"/>
<circle cx="639.50" cy="590.86" r="1.50" fill="#3b7fd4"/>
<circle cx="642.11" cy="592.69" r="1.50" fill="#3b7fd4"/>
<circle cx="636.89" cy="593.79" r="1.50" fill="#3b7fd4"/>
<circle cx="639.50" cy="595.44" r="1.50" fill="#3b7fd4"/>
<rect x="655.44" y="556.19" width="2.50" height="2.50" fill="#b3151b"/>
<polygon points="656.22,558.61 659.09,558.61 657.65,556.24" fill="#b3151b"/>
<rect x="657.53" y="555.91" width="2.50" height="2.50" fill="#b3151b"/>
<polygon points="658.07,557.28 660.95,557.28 659.51,554.90" fill="#b3151b"/>
<rect x="659.93" y="554.91" width="2.50" height="2.50" fill="#b3151b"/>
<polygon points="660.91,558.33 663.78,558.33 662.34,555.96" fill="#b3151b"/>
<rect x="661.82" y="556.67" width="2.50" height="2.50" fill="#b3151b"/>
<polygon points="662.77,558.02 665.65,558.02 664.21,555.64" fill="#b3151b"/>
<rect x="664.56" y="555.93" width="2.50" height="2.50" fill="#b3151b"/>
<polygon points="665.14,556.94 668.02,556.94 666.58,554.56" fill="#b3151b"/>
<rect x="666.57" y="555.47" width="2.50" height="2.50" fill="#b3151b"/>
<polygon points="666.95,558.58 669.82,558.58 668.38,556.20" fill="#b3151b"/>
<rect x="668.51" y="555.32" width="2.50" height="2.50" fill="#b3151b"/>
<polygon points="669.46,557.58 672.33,557.58 670.89,555.21" fill="#b3151b"/>
<rect x="670.73" y="556.61" width="2.50" height="2.50" fill="#b3151b"/>
<polygon points="671.19,559.21 674.06,559.21 672.63,556.83" fill="#b3151b"/>
<polygon points="661.46,562.07 664.34,562.07 662.90,559.70" fill="#b3151b"/>
<polygon points="664.66,562.07 667.54,562.07 666.10,559.70" fill="#b3151b"/>
</g>
</svg></body></html>
